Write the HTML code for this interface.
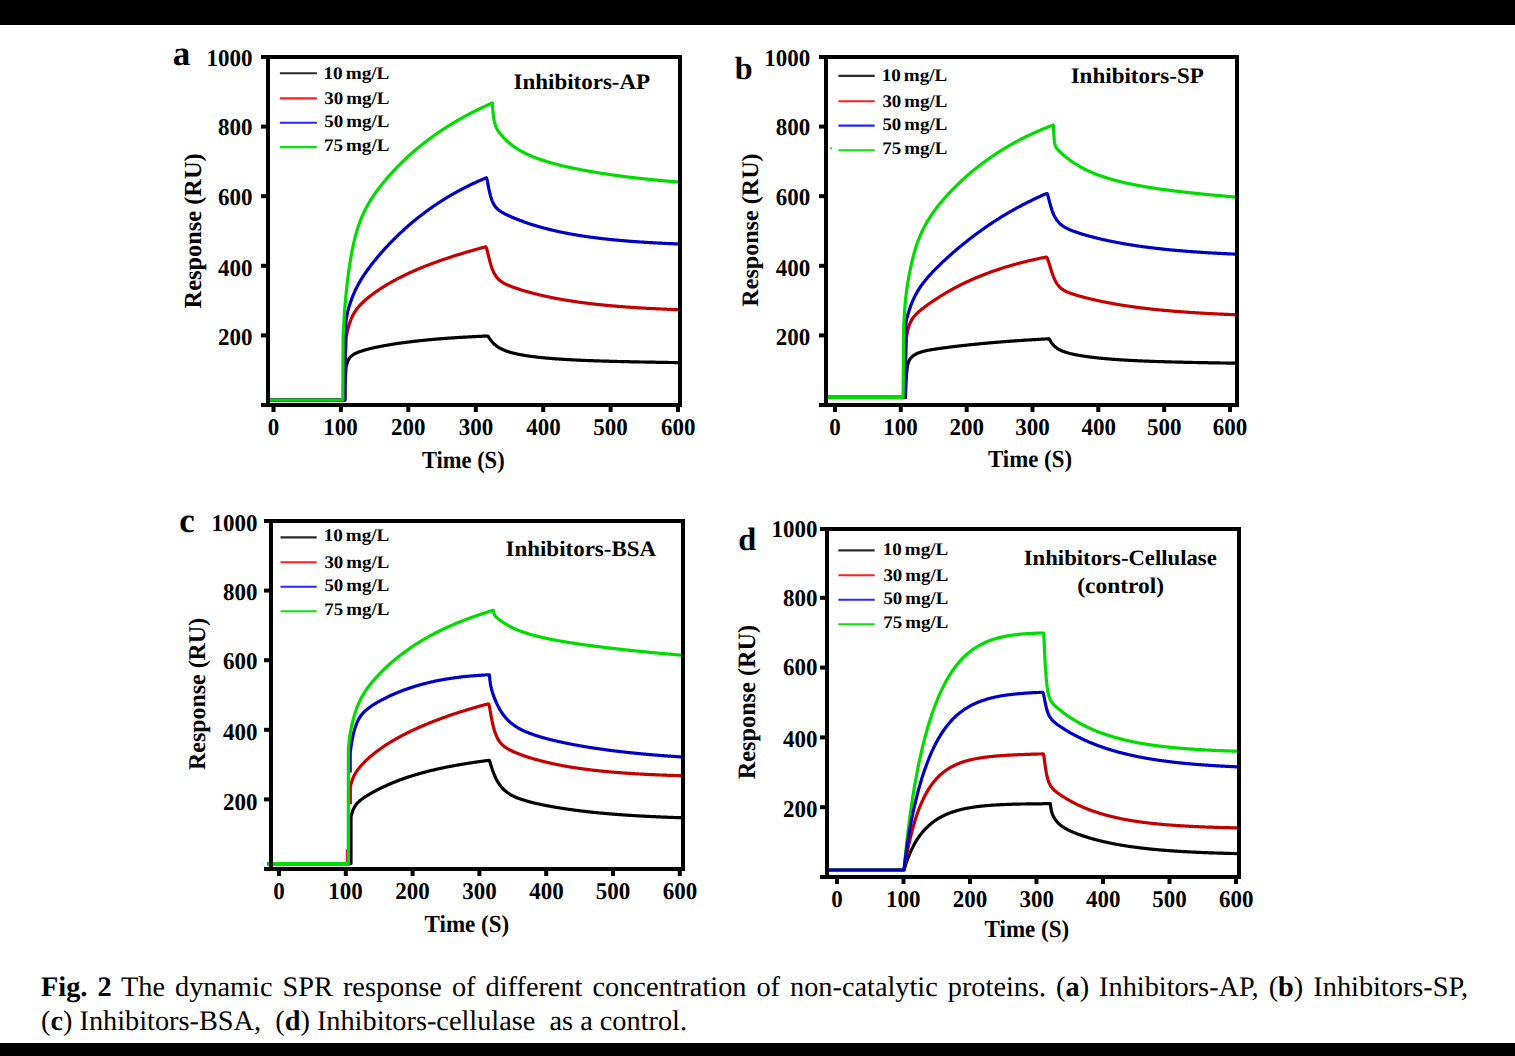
<!DOCTYPE html>
<html><head><meta charset="utf-8"><style>
html,body{margin:0;padding:0;background:#fff;width:1515px;height:1056px;overflow:hidden}
svg{position:absolute;left:0;top:0}
text{font-family:"Liberation Serif",serif;font-weight:bold;fill:#000;text-rendering:geometricPrecision}
.cap{position:absolute;left:41px;text-rendering:geometricPrecision;font-family:"Liberation Serif",serif;font-size:28.3px;white-space:pre;line-height:1;color:#000}
</style></head><body>
<svg width="1515" height="1056" viewBox="0 0 1515 1056">
<rect x="0" y="0" width="1515" height="25" fill="#000"/>
<rect x="0" y="1043" width="1515" height="13" fill="#000"/>
<path d="M269.0,400.0 L344.8,400.0 L345.0,385.0 L346.0,367.3 L346.5,365.2 L347.0,363.4 L347.5,361.9 L348.0,360.7 L348.5,359.7 L349.0,358.8 L349.5,358.1 L350.0,357.4 L350.5,356.8 L351.0,356.3 L351.5,355.9 L352.0,355.5 L352.5,355.1 L353.0,354.8 L353.5,354.5 L354.0,354.2 L354.5,353.9 L355.0,353.6 L355.5,353.4 L356.0,353.2 L356.5,352.9 L357.0,352.7 L357.5,352.5 L358.0,352.3 L358.5,352.1 L359.0,351.9 L359.5,351.7 L360.0,351.6 L360.5,351.4 L361.0,351.2 L361.5,351.1 L362.0,350.9 L362.5,350.7 L363.0,350.6 L363.5,350.4 L364.0,350.3 L364.5,350.1 L365.0,350.0 L365.5,349.8 L366.0,349.7 L366.5,349.6 L367.0,349.4 L367.5,349.3 L368.0,349.2 L368.5,349.0 L369.0,348.9 L369.5,348.8 L370.0,348.7 L370.5,348.5 L371.0,348.4 L371.5,348.3 L372.0,348.2 L372.5,348.1 L373.0,348.0 L373.5,347.8 L374.0,347.7 L374.5,347.6 L375.0,347.5 L375.5,347.4 L376.0,347.3 L376.5,347.2 L377.0,347.1 L377.5,347.0 L378.0,346.9 L378.5,346.8 L379.0,346.7 L379.5,346.6 L380.0,346.5 L380.5,346.4 L381.0,346.3 L381.5,346.2 L382.0,346.1 L382.5,346.0 L383.0,345.9 L383.5,345.8 L384.0,345.7 L384.5,345.6 L385.0,345.5 L385.5,345.5 L386.0,345.4 L386.5,345.3 L387.0,345.2 L387.5,345.1 L388.0,345.0 L388.5,344.9 L389.0,344.8 L389.5,344.8 L390.0,344.7 L390.5,344.6 L391.0,344.5 L391.5,344.4 L392.0,344.4 L392.5,344.3 L393.0,344.2 L393.5,344.1 L394.0,344.0 L394.5,344.0 L395.0,343.9 L395.5,343.8 L396.0,343.7 L396.5,343.7 L397.0,343.6 L397.5,343.5 L398.0,343.4 L398.5,343.4 L399.0,343.3 L399.5,343.2 L400.0,343.2 L400.5,343.1 L401.0,343.0 L401.5,342.9 L402.0,342.9 L402.5,342.8 L403.0,342.7 L403.5,342.7 L404.0,342.6 L404.5,342.5 L405.0,342.5 L405.5,342.4 L406.0,342.3 L406.5,342.3 L407.0,342.2 L407.5,342.1 L408.0,342.1 L408.5,342.0 L409.0,342.0 L409.5,341.9 L410.0,341.8 L410.5,341.8 L411.0,341.7 L411.5,341.6 L412.0,341.6 L412.5,341.5 L413.0,341.5 L413.5,341.4 L414.0,341.4 L414.5,341.3 L415.0,341.2 L415.5,341.2 L416.0,341.1 L416.5,341.1 L417.0,341.0 L417.5,341.0 L418.0,340.9 L418.5,340.8 L419.0,340.8 L419.5,340.7 L420.0,340.7 L420.5,340.6 L421.0,340.6 L421.5,340.5 L422.0,340.5 L422.5,340.4 L423.0,340.4 L423.5,340.3 L424.0,340.3 L424.5,340.2 L425.0,340.2 L425.5,340.1 L426.0,340.1 L426.5,340.0 L427.0,340.0 L427.5,339.9 L428.0,339.9 L428.5,339.8 L429.0,339.8 L429.5,339.7 L430.0,339.7 L430.5,339.6 L431.0,339.6 L431.5,339.6 L432.0,339.5 L432.5,339.5 L433.0,339.4 L433.5,339.4 L434.0,339.3 L434.5,339.3 L435.0,339.2 L435.5,339.2 L436.0,339.2 L436.5,339.1 L437.0,339.1 L437.5,339.0 L438.0,339.0 L438.5,338.9 L439.0,338.9 L439.5,338.9 L440.0,338.8 L440.5,338.8 L441.0,338.7 L441.5,338.7 L442.0,338.7 L442.5,338.6 L443.0,338.6 L443.5,338.5 L444.0,338.5 L444.5,338.5 L445.0,338.4 L445.5,338.4 L446.0,338.4 L446.5,338.3 L447.0,338.3 L447.5,338.2 L448.0,338.2 L448.5,338.2 L449.0,338.1 L449.5,338.1 L450.0,338.1 L450.5,338.0 L451.0,338.0 L451.5,338.0 L452.0,337.9 L452.5,337.9 L453.0,337.9 L453.5,337.8 L454.0,337.8 L454.5,337.8 L455.0,337.7 L455.5,337.7 L456.0,337.7 L456.5,337.6 L457.0,337.6 L457.5,337.6 L458.0,337.5 L458.5,337.5 L459.0,337.5 L459.5,337.4 L460.0,337.4 L460.5,337.4 L461.0,337.4 L461.5,337.3 L462.0,337.3 L462.5,337.3 L463.0,337.2 L463.5,337.2 L464.0,337.2 L464.5,337.1 L465.0,337.1 L465.5,337.1 L466.0,337.1 L466.5,337.0 L467.0,337.0 L467.5,337.0 L468.0,337.0 L468.5,336.9 L469.0,336.9 L469.5,336.9 L470.0,336.8 L470.5,336.8 L471.0,336.8 L471.5,336.8 L472.0,336.7 L472.5,336.7 L473.0,336.7 L473.5,336.7 L474.0,336.6 L474.5,336.6 L475.0,336.6 L475.5,336.6 L476.0,336.5 L476.5,336.5 L477.0,336.5 L477.5,336.5 L478.0,336.4 L478.5,336.4 L479.0,336.4 L479.5,336.4 L480.0,336.3 L480.5,336.3 L481.0,336.3 L481.5,336.3 L482.0,336.3 L482.5,336.2 L483.0,336.2 L483.5,336.2 L484.0,336.2 L484.5,336.1 L485.0,336.1 L485.5,336.1 L486.0,336.1 L486.5,336.1 L487.0,336.0 L487.5,336.0 L488.0,336.0 L488.5,336.9 L489.0,337.7 L489.5,338.4 L490.0,339.2 L490.5,339.8 L491.0,340.5 L491.5,341.1 L492.0,341.7 L492.5,342.3 L493.0,342.8 L493.5,343.3 L494.0,343.8 L494.5,344.3 L495.0,344.7 L495.5,345.1 L496.0,345.5 L496.5,345.9 L497.0,346.3 L497.5,346.6 L498.0,347.0 L498.5,347.3 L499.0,347.6 L499.5,347.9 L500.0,348.2 L500.5,348.5 L501.0,348.7 L501.5,349.0 L502.0,349.2 L502.5,349.5 L503.0,349.7 L503.5,349.9 L504.0,350.1 L504.5,350.3 L505.0,350.5 L505.5,350.7 L506.0,350.9 L506.5,351.1 L507.0,351.3 L507.5,351.4 L508.0,351.6 L508.5,351.8 L509.0,351.9 L509.5,352.1 L510.0,352.2 L510.5,352.4 L511.0,352.5 L511.5,352.7 L512.0,352.8 L512.5,352.9 L513.0,353.0 L513.5,353.2 L514.0,353.3 L514.5,353.4 L515.0,353.5 L515.5,353.6 L516.0,353.8 L516.5,353.9 L517.0,354.0 L517.5,354.1 L518.0,354.2 L518.5,354.3 L519.0,354.4 L519.5,354.5 L520.0,354.6 L520.5,354.7 L521.0,354.8 L521.5,354.9 L522.0,354.9 L522.5,355.0 L523.0,355.1 L523.5,355.2 L524.0,355.3 L524.5,355.4 L525.0,355.5 L525.5,355.5 L526.0,355.6 L526.5,355.7 L527.0,355.8 L527.5,355.8 L528.0,355.9 L528.5,356.0 L529.0,356.1 L529.5,356.1 L530.0,356.2 L530.5,356.3 L531.0,356.3 L531.5,356.4 L532.0,356.5 L532.5,356.5 L533.0,356.6 L533.5,356.7 L534.0,356.7 L534.5,356.8 L535.0,356.8 L535.5,356.9 L536.0,357.0 L536.5,357.0 L537.0,357.1 L537.5,357.1 L538.0,357.2 L538.5,357.3 L539.0,357.3 L539.5,357.4 L540.0,357.4 L540.5,357.5 L541.0,357.5 L541.5,357.6 L542.0,357.6 L542.5,357.7 L543.0,357.7 L543.5,357.8 L544.0,357.8 L544.5,357.9 L545.0,357.9 L545.5,358.0 L546.0,358.0 L546.5,358.1 L547.0,358.1 L547.5,358.1 L548.0,358.2 L548.5,358.2 L549.0,358.3 L549.5,358.3 L550.0,358.4 L550.5,358.4 L551.0,358.4 L551.5,358.5 L552.0,358.5 L552.5,358.6 L553.0,358.6 L553.5,358.6 L554.0,358.7 L554.5,358.7 L555.0,358.8 L555.5,358.8 L556.0,358.8 L556.5,358.9 L557.0,358.9 L557.5,358.9 L558.0,359.0 L558.5,359.0 L559.0,359.0 L559.5,359.1 L560.0,359.1 L560.5,359.1 L561.0,359.2 L561.5,359.2 L562.0,359.2 L562.5,359.3 L563.0,359.3 L563.5,359.3 L564.0,359.4 L564.5,359.4 L565.0,359.4 L565.5,359.5 L566.0,359.5 L566.5,359.5 L567.0,359.6 L567.5,359.6 L568.0,359.6 L568.5,359.6 L569.0,359.7 L569.5,359.7 L570.0,359.7 L570.5,359.7 L571.0,359.8 L571.5,359.8 L572.0,359.8 L572.5,359.9 L573.0,359.9 L573.5,359.9 L574.0,359.9 L574.5,360.0 L575.0,360.0 L575.5,360.0 L576.0,360.0 L576.5,360.1 L577.0,360.1 L577.5,360.1 L578.0,360.1 L578.5,360.1 L579.0,360.2 L579.5,360.2 L580.0,360.2 L580.5,360.2 L581.0,360.3 L581.5,360.3 L582.0,360.3 L582.5,360.3 L583.0,360.3 L583.5,360.4 L584.0,360.4 L584.5,360.4 L585.0,360.4 L585.5,360.5 L586.0,360.5 L586.5,360.5 L587.0,360.5 L587.5,360.5 L588.0,360.6 L588.5,360.6 L589.0,360.6 L589.5,360.6 L590.0,360.6 L590.5,360.6 L591.0,360.7 L591.5,360.7 L592.0,360.7 L592.5,360.7 L593.0,360.7 L593.5,360.8 L594.0,360.8 L594.5,360.8 L595.0,360.8 L595.5,360.8 L596.0,360.8 L596.5,360.9 L597.0,360.9 L597.5,360.9 L598.0,360.9 L598.5,360.9 L599.0,360.9 L599.5,361.0 L600.0,361.0 L600.5,361.0 L601.0,361.0 L601.5,361.0 L602.0,361.0 L602.5,361.1 L603.0,361.1 L603.5,361.1 L604.0,361.1 L604.5,361.1 L605.0,361.1 L605.5,361.1 L606.0,361.2 L606.5,361.2 L607.0,361.2 L607.5,361.2 L608.0,361.2 L608.5,361.2 L609.0,361.2 L609.5,361.3 L610.0,361.3 L610.5,361.3 L611.0,361.3 L611.5,361.3 L612.0,361.3 L612.5,361.3 L613.0,361.4 L613.5,361.4 L614.0,361.4 L614.5,361.4 L615.0,361.4 L615.5,361.4 L616.0,361.4 L616.5,361.4 L617.0,361.5 L617.5,361.5 L618.0,361.5 L618.5,361.5 L619.0,361.5 L619.5,361.5 L620.0,361.5 L620.5,361.5 L621.0,361.6 L621.5,361.6 L622.0,361.6 L622.5,361.6 L623.0,361.6 L623.5,361.6 L624.0,361.6 L624.5,361.6 L625.0,361.6 L625.5,361.7 L626.0,361.7 L626.5,361.7 L627.0,361.7 L627.5,361.7 L628.0,361.7 L628.5,361.7 L629.0,361.7 L629.5,361.7 L630.0,361.8 L630.5,361.8 L631.0,361.8 L631.5,361.8 L632.0,361.8 L632.5,361.8 L633.0,361.8 L633.5,361.8 L634.0,361.8 L634.5,361.9 L635.0,361.9 L635.5,361.9 L636.0,361.9 L636.5,361.9 L637.0,361.9 L637.5,361.9 L638.0,361.9 L638.5,361.9 L639.0,361.9 L639.5,362.0 L640.0,362.0 L640.5,362.0 L641.0,362.0 L641.5,362.0 L642.0,362.0 L642.5,362.0 L643.0,362.0 L643.5,362.0 L644.0,362.0 L644.5,362.0 L645.0,362.1 L645.5,362.1 L646.0,362.1 L646.5,362.1 L647.0,362.1 L647.5,362.1 L648.0,362.1 L648.5,362.1 L649.0,362.1 L649.5,362.1 L650.0,362.1 L650.5,362.2 L651.0,362.2 L651.5,362.2 L652.0,362.2 L652.5,362.2 L653.0,362.2 L653.5,362.2 L654.0,362.2 L654.5,362.2 L655.0,362.2 L655.5,362.2 L656.0,362.3 L656.5,362.3 L657.0,362.3 L657.5,362.3 L658.0,362.3 L658.5,362.3 L659.0,362.3 L659.5,362.3 L660.0,362.3 L660.5,362.3 L661.0,362.3 L661.5,362.3 L662.0,362.4 L662.5,362.4 L663.0,362.4 L663.5,362.4 L664.0,362.4 L664.5,362.4 L665.0,362.4 L665.5,362.4 L666.0,362.4 L666.5,362.4 L667.0,362.4 L667.5,362.4 L668.0,362.4 L668.5,362.5 L669.0,362.5 L669.5,362.5 L670.0,362.5 L670.5,362.5 L671.0,362.5 L671.5,362.5 L672.0,362.5 L672.5,362.5 L673.0,362.5 L673.5,362.5 L674.0,362.5 L674.5,362.5 L675.0,362.6 L675.5,362.6 L676.0,362.6 L676.5,362.6 L677.0,362.6 L677.5,362.6 L678.0,362.6 L678.5,362.6 L679.0,362.6" fill="none" stroke="#000000" stroke-width="3.2" stroke-linejoin="round"/>
<path d="M269.0,400.0 L344.8,400.0 L345.3,360.0 L346.2,337.0 L346.7,334.5 L347.2,332.1 L347.7,330.0 L348.2,328.0 L348.7,326.2 L349.2,324.5 L349.7,323.0 L350.2,321.6 L350.7,320.2 L351.2,319.0 L351.7,317.8 L352.2,316.7 L352.7,315.7 L353.2,314.7 L353.7,313.8 L354.2,312.9 L354.7,312.1 L355.2,311.3 L355.7,310.6 L356.2,309.9 L356.7,309.2 L357.2,308.5 L357.7,307.9 L358.2,307.3 L358.7,306.7 L359.2,306.1 L359.7,305.5 L360.2,305.0 L360.7,304.5 L361.2,303.9 L361.7,303.4 L362.2,302.9 L362.7,302.5 L363.2,302.0 L363.7,301.5 L364.2,301.1 L364.7,300.6 L365.2,300.2 L365.7,299.7 L366.2,299.3 L366.7,298.9 L367.2,298.5 L367.7,298.0 L368.2,297.6 L368.7,297.2 L369.2,296.8 L369.7,296.4 L370.2,296.0 L370.7,295.7 L371.2,295.3 L371.7,294.9 L372.2,294.5 L372.7,294.1 L373.2,293.8 L373.7,293.4 L374.2,293.0 L374.7,292.7 L375.2,292.3 L375.7,292.0 L376.2,291.6 L376.7,291.3 L377.2,290.9 L377.7,290.6 L378.2,290.3 L378.7,289.9 L379.2,289.6 L379.7,289.2 L380.2,288.9 L380.7,288.6 L381.2,288.3 L381.7,287.9 L382.2,287.6 L382.7,287.3 L383.2,287.0 L383.7,286.7 L384.2,286.4 L384.7,286.1 L385.2,285.8 L385.7,285.4 L386.2,285.1 L386.7,284.8 L387.2,284.5 L387.7,284.3 L388.2,284.0 L388.7,283.7 L389.2,283.4 L389.7,283.1 L390.2,282.8 L390.7,282.5 L391.2,282.2 L391.7,281.9 L392.2,281.7 L392.7,281.4 L393.2,281.1 L393.7,280.8 L394.2,280.6 L394.7,280.3 L395.2,280.0 L395.7,279.8 L396.2,279.5 L396.7,279.2 L397.2,279.0 L397.7,278.7 L398.2,278.4 L398.7,278.2 L399.2,277.9 L399.7,277.7 L400.2,277.4 L400.7,277.2 L401.2,276.9 L401.7,276.7 L402.2,276.4 L402.7,276.2 L403.2,275.9 L403.7,275.7 L404.2,275.4 L404.7,275.2 L405.2,274.9 L405.7,274.7 L406.2,274.5 L406.7,274.2 L407.2,274.0 L407.7,273.8 L408.2,273.5 L408.7,273.3 L409.2,273.1 L409.7,272.8 L410.2,272.6 L410.7,272.4 L411.2,272.1 L411.7,271.9 L412.2,271.7 L412.7,271.5 L413.2,271.2 L413.7,271.0 L414.2,270.8 L414.7,270.6 L415.2,270.4 L415.7,270.2 L416.2,269.9 L416.7,269.7 L417.2,269.5 L417.7,269.3 L418.2,269.1 L418.7,268.9 L419.2,268.7 L419.7,268.5 L420.2,268.3 L420.7,268.0 L421.2,267.8 L421.7,267.6 L422.2,267.4 L422.7,267.2 L423.2,267.0 L423.7,266.8 L424.2,266.6 L424.7,266.4 L425.2,266.2 L425.7,266.0 L426.2,265.8 L426.7,265.6 L427.2,265.4 L427.7,265.2 L428.2,265.0 L428.7,264.9 L429.2,264.7 L429.7,264.5 L430.2,264.3 L430.7,264.1 L431.2,263.9 L431.7,263.7 L432.2,263.5 L432.7,263.3 L433.2,263.2 L433.7,263.0 L434.2,262.8 L434.7,262.6 L435.2,262.4 L435.7,262.2 L436.2,262.1 L436.7,261.9 L437.2,261.7 L437.7,261.5 L438.2,261.3 L438.7,261.2 L439.2,261.0 L439.7,260.8 L440.2,260.6 L440.7,260.5 L441.2,260.3 L441.7,260.1 L442.2,259.9 L442.7,259.8 L443.2,259.6 L443.7,259.4 L444.2,259.2 L444.7,259.1 L445.2,258.9 L445.7,258.7 L446.2,258.6 L446.7,258.4 L447.2,258.2 L447.7,258.1 L448.2,257.9 L448.7,257.7 L449.2,257.6 L449.7,257.4 L450.2,257.2 L450.7,257.1 L451.2,256.9 L451.7,256.7 L452.2,256.6 L452.7,256.4 L453.2,256.3 L453.7,256.1 L454.2,255.9 L454.7,255.8 L455.2,255.6 L455.7,255.5 L456.2,255.3 L456.7,255.1 L457.2,255.0 L457.7,254.8 L458.2,254.7 L458.7,254.5 L459.2,254.4 L459.7,254.2 L460.2,254.1 L460.7,253.9 L461.2,253.8 L461.7,253.6 L462.2,253.5 L462.7,253.3 L463.2,253.1 L463.7,253.0 L464.2,252.8 L464.7,252.7 L465.2,252.6 L465.7,252.4 L466.2,252.3 L466.7,252.1 L467.2,252.0 L467.7,251.8 L468.2,251.7 L468.7,251.5 L469.2,251.4 L469.7,251.2 L470.2,251.1 L470.7,250.9 L471.2,250.8 L471.7,250.7 L472.2,250.5 L472.7,250.4 L473.2,250.2 L473.7,250.1 L474.2,249.9 L474.7,249.8 L475.2,249.7 L475.7,249.5 L476.2,249.4 L476.7,249.2 L477.2,249.1 L477.7,249.0 L478.2,248.8 L478.7,248.7 L479.2,248.5 L479.7,248.4 L480.2,248.3 L480.7,248.1 L481.2,248.0 L481.7,247.9 L482.2,247.7 L482.7,247.6 L483.2,247.5 L483.7,247.3 L484.2,247.2 L484.7,247.1 L485.2,246.9 L485.3,246.9 L485.8,246.9 L486.3,247.8 L486.8,249.3 L487.3,251.1 L487.8,253.1 L488.3,255.1 L488.8,257.2 L489.3,259.2 L489.8,261.1 L490.3,262.9 L490.8,264.6 L491.3,266.2 L491.8,267.7 L492.3,269.1 L492.8,270.3 L493.3,271.5 L493.8,272.5 L494.3,273.5 L494.8,274.4 L495.3,275.2 L495.8,276.0 L496.3,276.7 L496.8,277.4 L497.3,278.0 L497.8,278.5 L498.3,279.1 L498.8,279.5 L499.3,280.0 L499.8,280.4 L500.3,280.8 L500.8,281.2 L501.3,281.6 L501.8,281.9 L502.3,282.2 L502.8,282.5 L503.3,282.8 L503.8,283.1 L504.3,283.4 L504.8,283.7 L505.3,283.9 L505.8,284.2 L506.3,284.4 L506.8,284.6 L507.3,284.9 L507.8,285.1 L508.3,285.3 L508.8,285.5 L509.3,285.7 L509.8,285.9 L510.3,286.1 L510.8,286.3 L511.3,286.5 L511.8,286.7 L512.3,286.9 L512.8,287.1 L513.3,287.2 L513.8,287.4 L514.3,287.6 L514.8,287.8 L515.3,287.9 L515.8,288.1 L516.3,288.3 L516.8,288.5 L517.3,288.6 L517.8,288.8 L518.3,289.0 L518.8,289.1 L519.3,289.3 L519.8,289.4 L520.3,289.6 L520.8,289.7 L521.3,289.9 L521.8,290.1 L522.3,290.2 L522.8,290.4 L523.3,290.5 L523.8,290.7 L524.3,290.8 L524.8,291.0 L525.3,291.1 L525.8,291.3 L526.3,291.4 L526.8,291.5 L527.3,291.7 L527.8,291.8 L528.3,292.0 L528.8,292.1 L529.3,292.2 L529.8,292.4 L530.3,292.5 L530.8,292.6 L531.3,292.8 L531.8,292.9 L532.3,293.1 L532.8,293.2 L533.3,293.3 L533.8,293.4 L534.3,293.6 L534.8,293.7 L535.3,293.8 L535.8,294.0 L536.3,294.1 L536.8,294.2 L537.3,294.3 L537.8,294.4 L538.3,294.6 L538.8,294.7 L539.3,294.8 L539.8,294.9 L540.3,295.1 L540.8,295.2 L541.3,295.3 L541.8,295.4 L542.3,295.5 L542.8,295.6 L543.3,295.7 L543.8,295.9 L544.3,296.0 L544.8,296.1 L545.3,296.2 L545.8,296.3 L546.3,296.4 L546.8,296.5 L547.3,296.6 L547.8,296.7 L548.3,296.8 L548.8,296.9 L549.3,297.1 L549.8,297.2 L550.3,297.3 L550.8,297.4 L551.3,297.5 L551.8,297.6 L552.3,297.7 L552.8,297.8 L553.3,297.9 L553.8,298.0 L554.3,298.1 L554.8,298.2 L555.3,298.3 L555.8,298.4 L556.3,298.4 L556.8,298.5 L557.3,298.6 L557.8,298.7 L558.3,298.8 L558.8,298.9 L559.3,299.0 L559.8,299.1 L560.3,299.2 L560.8,299.3 L561.3,299.4 L561.8,299.5 L562.3,299.5 L562.8,299.6 L563.3,299.7 L563.8,299.8 L564.3,299.9 L564.8,300.0 L565.3,300.1 L565.8,300.1 L566.3,300.2 L566.8,300.3 L567.3,300.4 L567.8,300.5 L568.3,300.5 L568.8,300.6 L569.3,300.7 L569.8,300.8 L570.3,300.9 L570.8,300.9 L571.3,301.0 L571.8,301.1 L572.3,301.2 L572.8,301.2 L573.3,301.3 L573.8,301.4 L574.3,301.5 L574.8,301.5 L575.3,301.6 L575.8,301.7 L576.3,301.8 L576.8,301.8 L577.3,301.9 L577.8,302.0 L578.3,302.1 L578.8,302.1 L579.3,302.2 L579.8,302.3 L580.3,302.3 L580.8,302.4 L581.3,302.5 L581.8,302.5 L582.3,302.6 L582.8,302.7 L583.3,302.7 L583.8,302.8 L584.3,302.9 L584.8,302.9 L585.3,303.0 L585.8,303.1 L586.3,303.1 L586.8,303.2 L587.3,303.2 L587.8,303.3 L588.3,303.4 L588.8,303.4 L589.3,303.5 L589.8,303.5 L590.3,303.6 L590.8,303.7 L591.3,303.7 L591.8,303.8 L592.3,303.8 L592.8,303.9 L593.3,304.0 L593.8,304.0 L594.3,304.1 L594.8,304.1 L595.3,304.2 L595.8,304.2 L596.3,304.3 L596.8,304.3 L597.3,304.4 L597.8,304.5 L598.3,304.5 L598.8,304.6 L599.3,304.6 L599.8,304.7 L600.3,304.7 L600.8,304.8 L601.3,304.8 L601.8,304.9 L602.3,304.9 L602.8,305.0 L603.3,305.0 L603.8,305.1 L604.3,305.1 L604.8,305.2 L605.3,305.2 L605.8,305.3 L606.3,305.3 L606.8,305.4 L607.3,305.4 L607.8,305.5 L608.3,305.5 L608.8,305.5 L609.3,305.6 L609.8,305.6 L610.3,305.7 L610.8,305.7 L611.3,305.8 L611.8,305.8 L612.3,305.9 L612.8,305.9 L613.3,306.0 L613.8,306.0 L614.3,306.0 L614.8,306.1 L615.3,306.1 L615.8,306.2 L616.3,306.2 L616.8,306.2 L617.3,306.3 L617.8,306.3 L618.3,306.4 L618.8,306.4 L619.3,306.5 L619.8,306.5 L620.3,306.5 L620.8,306.6 L621.3,306.6 L621.8,306.6 L622.3,306.7 L622.8,306.7 L623.3,306.8 L623.8,306.8 L624.3,306.8 L624.8,306.9 L625.3,306.9 L625.8,306.9 L626.3,307.0 L626.8,307.0 L627.3,307.1 L627.8,307.1 L628.3,307.1 L628.8,307.2 L629.3,307.2 L629.8,307.2 L630.3,307.3 L630.8,307.3 L631.3,307.3 L631.8,307.4 L632.3,307.4 L632.8,307.4 L633.3,307.5 L633.8,307.5 L634.3,307.5 L634.8,307.6 L635.3,307.6 L635.8,307.6 L636.3,307.7 L636.8,307.7 L637.3,307.7 L637.8,307.8 L638.3,307.8 L638.8,307.8 L639.3,307.8 L639.8,307.9 L640.3,307.9 L640.8,307.9 L641.3,308.0 L641.8,308.0 L642.3,308.0 L642.8,308.1 L643.3,308.1 L643.8,308.1 L644.3,308.1 L644.8,308.2 L645.3,308.2 L645.8,308.2 L646.3,308.3 L646.8,308.3 L647.3,308.3 L647.8,308.3 L648.3,308.4 L648.8,308.4 L649.3,308.4 L649.8,308.4 L650.3,308.5 L650.8,308.5 L651.3,308.5 L651.8,308.5 L652.3,308.6 L652.8,308.6 L653.3,308.6 L653.8,308.6 L654.3,308.7 L654.8,308.7 L655.3,308.7 L655.8,308.7 L656.3,308.8 L656.8,308.8 L657.3,308.8 L657.8,308.8 L658.3,308.9 L658.8,308.9 L659.3,308.9 L659.8,308.9 L660.3,309.0 L660.8,309.0 L661.3,309.0 L661.8,309.0 L662.3,309.0 L662.8,309.1 L663.3,309.1 L663.8,309.1 L664.3,309.1 L664.8,309.2 L665.3,309.2 L665.8,309.2 L666.3,309.2 L666.8,309.2 L667.3,309.3 L667.8,309.3 L668.3,309.3 L668.8,309.3 L669.3,309.3 L669.8,309.4 L670.3,309.4 L670.8,309.4 L671.3,309.4 L671.8,309.4 L672.3,309.5 L672.8,309.5 L673.3,309.5 L673.8,309.5 L674.3,309.5 L674.8,309.6 L675.3,309.6 L675.8,309.6 L676.3,309.6 L676.8,309.6 L677.3,309.6 L677.8,309.7 L678.3,309.7 L678.8,309.7 L679.0,309.7" fill="none" stroke="#c40000" stroke-width="3.2" stroke-linejoin="round"/>
<path d="M269.0,400.0 L344.8,400.0 L345.2,340.0 L345.6,328.0 L346.1,321.1 L346.6,317.1 L347.1,314.3 L347.6,312.1 L348.1,310.1 L348.6,308.3 L349.1,306.6 L349.6,305.0 L350.1,303.5 L350.6,302.0 L351.1,300.6 L351.6,299.2 L352.1,297.9 L352.6,296.6 L353.1,295.4 L353.6,294.2 L354.1,293.0 L354.6,291.9 L355.1,290.8 L355.6,289.7 L356.1,288.7 L356.6,287.7 L357.1,286.7 L357.6,285.8 L358.1,284.8 L358.6,283.9 L359.1,283.0 L359.6,282.1 L360.1,281.3 L360.6,280.4 L361.1,279.6 L361.6,278.8 L362.1,278.0 L362.6,277.2 L363.1,276.4 L363.6,275.7 L364.1,274.9 L364.6,274.1 L365.1,273.4 L365.6,272.7 L366.1,272.0 L366.6,271.2 L367.1,270.5 L367.6,269.8 L368.1,269.2 L368.6,268.5 L369.1,267.8 L369.6,267.1 L370.1,266.5 L370.6,265.8 L371.1,265.1 L371.6,264.5 L372.1,263.8 L372.6,263.2 L373.1,262.6 L373.6,261.9 L374.1,261.3 L374.6,260.7 L375.1,260.1 L375.6,259.5 L376.1,258.9 L376.6,258.3 L377.1,257.7 L377.6,257.1 L378.1,256.5 L378.6,255.9 L379.1,255.3 L379.6,254.7 L380.1,254.1 L380.6,253.5 L381.1,253.0 L381.6,252.4 L382.1,251.8 L382.6,251.3 L383.1,250.7 L383.6,250.2 L384.1,249.6 L384.6,249.0 L385.1,248.5 L385.6,247.9 L386.1,247.4 L386.6,246.9 L387.1,246.3 L387.6,245.8 L388.1,245.3 L388.6,244.7 L389.1,244.2 L389.6,243.7 L390.1,243.2 L390.6,242.6 L391.1,242.1 L391.6,241.6 L392.1,241.1 L392.6,240.6 L393.1,240.1 L393.6,239.6 L394.1,239.1 L394.6,238.6 L395.1,238.1 L395.6,237.6 L396.1,237.1 L396.6,236.6 L397.1,236.1 L397.6,235.6 L398.1,235.2 L398.6,234.7 L399.1,234.2 L399.6,233.7 L400.1,233.2 L400.6,232.8 L401.1,232.3 L401.6,231.8 L402.1,231.4 L402.6,230.9 L403.1,230.5 L403.6,230.0 L404.1,229.5 L404.6,229.1 L405.1,228.6 L405.6,228.2 L406.1,227.7 L406.6,227.3 L407.1,226.9 L407.6,226.4 L408.1,226.0 L408.6,225.5 L409.1,225.1 L409.6,224.7 L410.1,224.2 L410.6,223.8 L411.1,223.4 L411.6,223.0 L412.1,222.5 L412.6,222.1 L413.1,221.7 L413.6,221.3 L414.1,220.9 L414.6,220.5 L415.1,220.1 L415.6,219.7 L416.1,219.2 L416.6,218.8 L417.1,218.4 L417.6,218.0 L418.1,217.6 L418.6,217.2 L419.1,216.8 L419.6,216.5 L420.1,216.1 L420.6,215.7 L421.1,215.3 L421.6,214.9 L422.1,214.5 L422.6,214.1 L423.1,213.8 L423.6,213.4 L424.1,213.0 L424.6,212.6 L425.1,212.3 L425.6,211.9 L426.1,211.5 L426.6,211.2 L427.1,210.8 L427.6,210.4 L428.1,210.1 L428.6,209.7 L429.1,209.3 L429.6,209.0 L430.1,208.6 L430.6,208.3 L431.1,207.9 L431.6,207.6 L432.1,207.2 L432.6,206.9 L433.1,206.5 L433.6,206.2 L434.1,205.8 L434.6,205.5 L435.1,205.2 L435.6,204.8 L436.1,204.5 L436.6,204.2 L437.1,203.8 L437.6,203.5 L438.1,203.2 L438.6,202.8 L439.1,202.5 L439.6,202.2 L440.1,201.9 L440.6,201.5 L441.1,201.2 L441.6,200.9 L442.1,200.6 L442.6,200.3 L443.1,200.0 L443.6,199.6 L444.1,199.3 L444.6,199.0 L445.1,198.7 L445.6,198.4 L446.1,198.1 L446.6,197.8 L447.1,197.5 L447.6,197.2 L448.1,196.9 L448.6,196.6 L449.1,196.3 L449.6,196.0 L450.1,195.7 L450.6,195.4 L451.1,195.1 L451.6,194.8 L452.1,194.6 L452.6,194.3 L453.1,194.0 L453.6,193.7 L454.1,193.4 L454.6,193.1 L455.1,192.9 L455.6,192.6 L456.1,192.3 L456.6,192.0 L457.1,191.7 L457.6,191.5 L458.1,191.2 L458.6,190.9 L459.1,190.7 L459.6,190.4 L460.1,190.1 L460.6,189.9 L461.1,189.6 L461.6,189.3 L462.1,189.1 L462.6,188.8 L463.1,188.6 L463.6,188.3 L464.1,188.0 L464.6,187.8 L465.1,187.5 L465.6,187.3 L466.1,187.0 L466.6,186.8 L467.1,186.5 L467.6,186.3 L468.1,186.0 L468.6,185.8 L469.1,185.5 L469.6,185.3 L470.1,185.0 L470.6,184.8 L471.1,184.6 L471.6,184.3 L472.1,184.1 L472.6,183.8 L473.1,183.6 L473.6,183.4 L474.1,183.1 L474.6,182.9 L475.1,182.7 L475.6,182.5 L476.1,182.2 L476.6,182.0 L477.1,181.8 L477.6,181.5 L478.1,181.3 L478.6,181.1 L479.1,180.9 L479.6,180.6 L480.1,180.4 L480.6,180.2 L481.1,180.0 L481.6,179.8 L482.1,179.6 L482.6,179.3 L483.1,179.1 L483.6,178.9 L484.1,178.7 L484.6,178.5 L485.1,178.3 L485.6,178.1 L486.0,177.9 L486.5,177.9 L487.0,179.5 L487.5,181.8 L488.0,184.4 L488.5,187.0 L489.0,189.5 L489.5,191.8 L490.0,194.0 L490.5,195.9 L491.0,197.6 L491.5,199.1 L492.0,200.5 L492.5,201.7 L493.0,202.8 L493.5,203.8 L494.0,204.7 L494.5,205.5 L495.0,206.2 L495.5,206.9 L496.0,207.5 L496.5,208.0 L497.0,208.5 L497.5,209.0 L498.0,209.4 L498.5,209.9 L499.0,210.3 L499.5,210.6 L500.0,211.0 L500.5,211.3 L501.0,211.7 L501.5,212.0 L502.0,212.3 L502.5,212.6 L503.0,212.8 L503.5,213.1 L504.0,213.4 L504.5,213.7 L505.0,213.9 L505.5,214.2 L506.0,214.4 L506.5,214.7 L507.0,214.9 L507.5,215.1 L508.0,215.4 L508.5,215.6 L509.0,215.8 L509.5,216.1 L510.0,216.3 L510.5,216.5 L511.0,216.7 L511.5,216.9 L512.0,217.2 L512.5,217.4 L513.0,217.6 L513.5,217.8 L514.0,218.0 L514.5,218.2 L515.0,218.4 L515.5,218.6 L516.0,218.8 L516.5,219.0 L517.0,219.2 L517.5,219.4 L518.0,219.6 L518.5,219.8 L519.0,220.0 L519.5,220.2 L520.0,220.4 L520.5,220.6 L521.0,220.8 L521.5,220.9 L522.0,221.1 L522.5,221.3 L523.0,221.5 L523.5,221.7 L524.0,221.9 L524.5,222.0 L525.0,222.2 L525.5,222.4 L526.0,222.6 L526.5,222.7 L527.0,222.9 L527.5,223.1 L528.0,223.2 L528.5,223.4 L529.0,223.6 L529.5,223.7 L530.0,223.9 L530.5,224.1 L531.0,224.2 L531.5,224.4 L532.0,224.6 L532.5,224.7 L533.0,224.9 L533.5,225.0 L534.0,225.2 L534.5,225.3 L535.0,225.5 L535.5,225.6 L536.0,225.8 L536.5,225.9 L537.0,226.1 L537.5,226.2 L538.0,226.4 L538.5,226.5 L539.0,226.7 L539.5,226.8 L540.0,227.0 L540.5,227.1 L541.0,227.2 L541.5,227.4 L542.0,227.5 L542.5,227.7 L543.0,227.8 L543.5,227.9 L544.0,228.1 L544.5,228.2 L545.0,228.3 L545.5,228.5 L546.0,228.6 L546.5,228.7 L547.0,228.8 L547.5,229.0 L548.0,229.1 L548.5,229.2 L549.0,229.3 L549.5,229.5 L550.0,229.6 L550.5,229.7 L551.0,229.8 L551.5,230.0 L552.0,230.1 L552.5,230.2 L553.0,230.3 L553.5,230.4 L554.0,230.5 L554.5,230.7 L555.0,230.8 L555.5,230.9 L556.0,231.0 L556.5,231.1 L557.0,231.2 L557.5,231.3 L558.0,231.4 L558.5,231.6 L559.0,231.7 L559.5,231.8 L560.0,231.9 L560.5,232.0 L561.0,232.1 L561.5,232.2 L562.0,232.3 L562.5,232.4 L563.0,232.5 L563.5,232.6 L564.0,232.7 L564.5,232.8 L565.0,232.9 L565.5,233.0 L566.0,233.1 L566.5,233.2 L567.0,233.3 L567.5,233.4 L568.0,233.5 L568.5,233.6 L569.0,233.7 L569.5,233.8 L570.0,233.9 L570.5,234.0 L571.0,234.0 L571.5,234.1 L572.0,234.2 L572.5,234.3 L573.0,234.4 L573.5,234.5 L574.0,234.6 L574.5,234.7 L575.0,234.7 L575.5,234.8 L576.0,234.9 L576.5,235.0 L577.0,235.1 L577.5,235.2 L578.0,235.3 L578.5,235.3 L579.0,235.4 L579.5,235.5 L580.0,235.6 L580.5,235.7 L581.0,235.7 L581.5,235.8 L582.0,235.9 L582.5,236.0 L583.0,236.0 L583.5,236.1 L584.0,236.2 L584.5,236.3 L585.0,236.3 L585.5,236.4 L586.0,236.5 L586.5,236.6 L587.0,236.6 L587.5,236.7 L588.0,236.8 L588.5,236.8 L589.0,236.9 L589.5,237.0 L590.0,237.1 L590.5,237.1 L591.0,237.2 L591.5,237.3 L592.0,237.3 L592.5,237.4 L593.0,237.5 L593.5,237.5 L594.0,237.6 L594.5,237.7 L595.0,237.7 L595.5,237.8 L596.0,237.9 L596.5,237.9 L597.0,238.0 L597.5,238.0 L598.0,238.1 L598.5,238.2 L599.0,238.2 L599.5,238.3 L600.0,238.3 L600.5,238.4 L601.0,238.5 L601.5,238.5 L602.0,238.6 L602.5,238.6 L603.0,238.7 L603.5,238.8 L604.0,238.8 L604.5,238.9 L605.0,238.9 L605.5,239.0 L606.0,239.0 L606.5,239.1 L607.0,239.1 L607.5,239.2 L608.0,239.2 L608.5,239.3 L609.0,239.4 L609.5,239.4 L610.0,239.5 L610.5,239.5 L611.0,239.6 L611.5,239.6 L612.0,239.7 L612.5,239.7 L613.0,239.8 L613.5,239.8 L614.0,239.9 L614.5,239.9 L615.0,240.0 L615.5,240.0 L616.0,240.1 L616.5,240.1 L617.0,240.1 L617.5,240.2 L618.0,240.2 L618.5,240.3 L619.0,240.3 L619.5,240.4 L620.0,240.4 L620.5,240.5 L621.0,240.5 L621.5,240.6 L622.0,240.6 L622.5,240.6 L623.0,240.7 L623.5,240.7 L624.0,240.8 L624.5,240.8 L625.0,240.9 L625.5,240.9 L626.0,240.9 L626.5,241.0 L627.0,241.0 L627.5,241.1 L628.0,241.1 L628.5,241.1 L629.0,241.2 L629.5,241.2 L630.0,241.3 L630.5,241.3 L631.0,241.3 L631.5,241.4 L632.0,241.4 L632.5,241.4 L633.0,241.5 L633.5,241.5 L634.0,241.6 L634.5,241.6 L635.0,241.6 L635.5,241.7 L636.0,241.7 L636.5,241.7 L637.0,241.8 L637.5,241.8 L638.0,241.8 L638.5,241.9 L639.0,241.9 L639.5,241.9 L640.0,242.0 L640.5,242.0 L641.0,242.0 L641.5,242.1 L642.0,242.1 L642.5,242.1 L643.0,242.2 L643.5,242.2 L644.0,242.2 L644.5,242.3 L645.0,242.3 L645.5,242.3 L646.0,242.4 L646.5,242.4 L647.0,242.4 L647.5,242.5 L648.0,242.5 L648.5,242.5 L649.0,242.5 L649.5,242.6 L650.0,242.6 L650.5,242.6 L651.0,242.7 L651.5,242.7 L652.0,242.7 L652.5,242.7 L653.0,242.8 L653.5,242.8 L654.0,242.8 L654.5,242.9 L655.0,242.9 L655.5,242.9 L656.0,242.9 L656.5,243.0 L657.0,243.0 L657.5,243.0 L658.0,243.0 L658.5,243.1 L659.0,243.1 L659.5,243.1 L660.0,243.1 L660.5,243.2 L661.0,243.2 L661.5,243.2 L662.0,243.2 L662.5,243.3 L663.0,243.3 L663.5,243.3 L664.0,243.3 L664.5,243.4 L665.0,243.4 L665.5,243.4 L666.0,243.4 L666.5,243.5 L667.0,243.5 L667.5,243.5 L668.0,243.5 L668.5,243.5 L669.0,243.6 L669.5,243.6 L670.0,243.6 L670.5,243.6 L671.0,243.7 L671.5,243.7 L672.0,243.7 L672.5,243.7 L673.0,243.7 L673.5,243.8 L674.0,243.8 L674.5,243.8 L675.0,243.8 L675.5,243.8 L676.0,243.9 L676.5,243.9 L677.0,243.9 L677.5,243.9 L678.0,243.9 L678.5,244.0 L679.0,244.0" fill="none" stroke="#0000c4" stroke-width="3.2" stroke-linejoin="round"/>
<path d="M269.0,400.0 L342.8,400.0 L343.1,336.0 L344.6,310.0 L345.1,304.3 L345.6,298.9 L346.1,293.8 L346.6,289.0 L347.1,284.4 L347.6,280.2 L348.1,276.1 L348.6,272.3 L349.1,268.7 L349.6,265.3 L350.1,262.0 L350.6,259.0 L351.1,256.1 L351.6,253.3 L352.1,250.7 L352.6,248.2 L353.1,245.8 L353.6,243.5 L354.1,241.3 L354.6,239.3 L355.1,237.3 L355.6,235.4 L356.1,233.6 L356.6,231.8 L357.1,230.1 L357.6,228.5 L358.1,227.0 L358.6,225.5 L359.1,224.1 L359.6,222.7 L360.1,221.3 L360.6,220.0 L361.1,218.8 L361.6,217.6 L362.1,216.4 L362.6,215.2 L363.1,214.1 L363.6,213.0 L364.1,212.0 L364.6,211.0 L365.1,210.0 L365.6,209.0 L366.1,208.0 L366.6,207.1 L367.1,206.2 L367.6,205.3 L368.1,204.4 L368.6,203.5 L369.1,202.7 L369.6,201.8 L370.1,201.0 L370.6,200.2 L371.1,199.4 L371.6,198.6 L372.1,197.8 L372.6,197.1 L373.1,196.3 L373.6,195.6 L374.1,194.8 L374.6,194.1 L375.1,193.4 L375.6,192.7 L376.1,192.0 L376.6,191.3 L377.1,190.6 L377.6,190.0 L378.1,189.3 L378.6,188.6 L379.1,188.0 L379.6,187.3 L380.1,186.7 L380.6,186.0 L381.1,185.4 L381.6,184.8 L382.1,184.1 L382.6,183.5 L383.1,182.9 L383.6,182.3 L384.1,181.7 L384.6,181.1 L385.1,180.5 L385.6,179.9 L386.1,179.3 L386.6,178.7 L387.1,178.1 L387.6,177.6 L388.1,177.0 L388.6,176.4 L389.1,175.9 L389.6,175.3 L390.1,174.7 L390.6,174.2 L391.1,173.6 L391.6,173.1 L392.1,172.5 L392.6,172.0 L393.1,171.4 L393.6,170.9 L394.1,170.4 L394.6,169.8 L395.1,169.3 L395.6,168.8 L396.1,168.3 L396.6,167.7 L397.1,167.2 L397.6,166.7 L398.1,166.2 L398.6,165.7 L399.1,165.2 L399.6,164.7 L400.1,164.2 L400.6,163.7 L401.1,163.2 L401.6,162.7 L402.1,162.2 L402.6,161.7 L403.1,161.3 L403.6,160.8 L404.1,160.3 L404.6,159.8 L405.1,159.3 L405.6,158.9 L406.1,158.4 L406.6,157.9 L407.1,157.5 L407.6,157.0 L408.1,156.5 L408.6,156.1 L409.1,155.6 L409.6,155.2 L410.1,154.7 L410.6,154.3 L411.1,153.8 L411.6,153.4 L412.1,152.9 L412.6,152.5 L413.1,152.1 L413.6,151.6 L414.1,151.2 L414.6,150.8 L415.1,150.3 L415.6,149.9 L416.1,149.5 L416.6,149.1 L417.1,148.6 L417.6,148.2 L418.1,147.8 L418.6,147.4 L419.1,147.0 L419.6,146.6 L420.1,146.2 L420.6,145.8 L421.1,145.4 L421.6,145.0 L422.1,144.6 L422.6,144.2 L423.1,143.8 L423.6,143.4 L424.1,143.0 L424.6,142.6 L425.1,142.2 L425.6,141.8 L426.1,141.4 L426.6,141.0 L427.1,140.7 L427.6,140.3 L428.1,139.9 L428.6,139.5 L429.1,139.1 L429.6,138.8 L430.1,138.4 L430.6,138.0 L431.1,137.7 L431.6,137.3 L432.1,136.9 L432.6,136.6 L433.1,136.2 L433.6,135.8 L434.1,135.5 L434.6,135.1 L435.1,134.8 L435.6,134.4 L436.1,134.1 L436.6,133.7 L437.1,133.4 L437.6,133.0 L438.1,132.7 L438.6,132.3 L439.1,132.0 L439.6,131.7 L440.1,131.3 L440.6,131.0 L441.1,130.7 L441.6,130.3 L442.1,130.0 L442.6,129.7 L443.1,129.3 L443.6,129.0 L444.1,128.7 L444.6,128.4 L445.1,128.0 L445.6,127.7 L446.1,127.4 L446.6,127.1 L447.1,126.8 L447.6,126.4 L448.1,126.1 L448.6,125.8 L449.1,125.5 L449.6,125.2 L450.1,124.9 L450.6,124.6 L451.1,124.3 L451.6,124.0 L452.1,123.7 L452.6,123.4 L453.1,123.1 L453.6,122.8 L454.1,122.5 L454.6,122.2 L455.1,121.9 L455.6,121.6 L456.1,121.3 L456.6,121.0 L457.1,120.7 L457.6,120.4 L458.1,120.1 L458.6,119.8 L459.1,119.5 L459.6,119.3 L460.1,119.0 L460.6,118.7 L461.1,118.4 L461.6,118.1 L462.1,117.9 L462.6,117.6 L463.1,117.3 L463.6,117.0 L464.1,116.8 L464.6,116.5 L465.1,116.2 L465.6,115.9 L466.1,115.7 L466.6,115.4 L467.1,115.1 L467.6,114.9 L468.1,114.6 L468.6,114.3 L469.1,114.1 L469.6,113.8 L470.1,113.6 L470.6,113.3 L471.1,113.0 L471.6,112.8 L472.1,112.5 L472.6,112.3 L473.1,112.0 L473.6,111.8 L474.1,111.5 L474.6,111.3 L475.1,111.0 L475.6,110.8 L476.1,110.5 L476.6,110.3 L477.1,110.0 L477.6,109.8 L478.1,109.5 L478.6,109.3 L479.1,109.1 L479.6,108.8 L480.1,108.6 L480.6,108.3 L481.1,108.1 L481.6,107.9 L482.1,107.6 L482.6,107.4 L483.1,107.2 L483.6,106.9 L484.1,106.7 L484.6,106.5 L485.1,106.2 L485.6,106.0 L486.1,105.8 L486.6,105.5 L487.1,105.3 L487.6,105.1 L488.1,104.9 L488.6,104.6 L489.1,104.4 L489.6,104.2 L490.1,104.0 L490.6,103.7 L491.1,103.5 L491.6,103.3 L492.1,103.1 L492.3,103.0 L492.8,110.0 L493.3,115.0 L493.8,118.6 L494.3,121.3 L494.8,123.4 L495.3,125.1 L495.8,126.4 L496.3,127.6 L496.8,128.6 L497.3,129.5 L497.8,130.3 L498.3,131.1 L498.8,131.8 L499.3,132.5 L499.8,133.1 L500.3,133.8 L500.8,134.4 L501.3,135.0 L501.8,135.6 L502.3,136.2 L502.8,136.7 L503.3,137.3 L503.8,137.8 L504.3,138.3 L504.8,138.8 L505.3,139.3 L505.8,139.8 L506.3,140.3 L506.8,140.8 L507.3,141.2 L507.8,141.7 L508.3,142.1 L508.8,142.6 L509.3,143.0 L509.8,143.4 L510.3,143.8 L510.8,144.2 L511.3,144.6 L511.8,145.0 L512.3,145.4 L512.8,145.8 L513.3,146.1 L513.8,146.5 L514.3,146.9 L514.8,147.2 L515.3,147.5 L515.8,147.9 L516.3,148.2 L516.8,148.5 L517.3,148.9 L517.8,149.2 L518.3,149.5 L518.8,149.8 L519.3,150.1 L519.8,150.4 L520.3,150.7 L520.8,150.9 L521.3,151.2 L521.8,151.5 L522.3,151.8 L522.8,152.0 L523.3,152.3 L523.8,152.6 L524.3,152.8 L524.8,153.1 L525.3,153.3 L525.8,153.6 L526.3,153.8 L526.8,154.0 L527.3,154.3 L527.8,154.5 L528.3,154.7 L528.8,155.0 L529.3,155.2 L529.8,155.4 L530.3,155.6 L530.8,155.8 L531.3,156.1 L531.8,156.3 L532.3,156.5 L532.8,156.7 L533.3,156.9 L533.8,157.1 L534.3,157.3 L534.8,157.5 L535.3,157.7 L535.8,157.8 L536.3,158.0 L536.8,158.2 L537.3,158.4 L537.8,158.6 L538.3,158.8 L538.8,158.9 L539.3,159.1 L539.8,159.3 L540.3,159.5 L540.8,159.6 L541.3,159.8 L541.8,160.0 L542.3,160.1 L542.8,160.3 L543.3,160.5 L543.8,160.6 L544.3,160.8 L544.8,160.9 L545.3,161.1 L545.8,161.3 L546.3,161.4 L546.8,161.6 L547.3,161.7 L547.8,161.9 L548.3,162.0 L548.8,162.2 L549.3,162.3 L549.8,162.4 L550.3,162.6 L550.8,162.7 L551.3,162.9 L551.8,163.0 L552.3,163.2 L552.8,163.3 L553.3,163.4 L553.8,163.6 L554.3,163.7 L554.8,163.8 L555.3,164.0 L555.8,164.1 L556.3,164.2 L556.8,164.4 L557.3,164.5 L557.8,164.6 L558.3,164.7 L558.8,164.9 L559.3,165.0 L559.8,165.1 L560.3,165.2 L560.8,165.4 L561.3,165.5 L561.8,165.6 L562.3,165.7 L562.8,165.8 L563.3,166.0 L563.8,166.1 L564.3,166.2 L564.8,166.3 L565.3,166.4 L565.8,166.5 L566.3,166.7 L566.8,166.8 L567.3,166.9 L567.8,167.0 L568.3,167.1 L568.8,167.2 L569.3,167.3 L569.8,167.4 L570.3,167.5 L570.8,167.7 L571.3,167.8 L571.8,167.9 L572.3,168.0 L572.8,168.1 L573.3,168.2 L573.8,168.3 L574.3,168.4 L574.8,168.5 L575.3,168.6 L575.8,168.7 L576.3,168.8 L576.8,168.9 L577.3,169.0 L577.8,169.1 L578.3,169.2 L578.8,169.3 L579.3,169.4 L579.8,169.5 L580.3,169.6 L580.8,169.7 L581.3,169.8 L581.8,169.9 L582.3,170.0 L582.8,170.1 L583.3,170.2 L583.8,170.3 L584.3,170.4 L584.8,170.4 L585.3,170.5 L585.8,170.6 L586.3,170.7 L586.8,170.8 L587.3,170.9 L587.8,171.0 L588.3,171.1 L588.8,171.2 L589.3,171.3 L589.8,171.3 L590.3,171.4 L590.8,171.5 L591.3,171.6 L591.8,171.7 L592.3,171.8 L592.8,171.9 L593.3,171.9 L593.8,172.0 L594.3,172.1 L594.8,172.2 L595.3,172.3 L595.8,172.4 L596.3,172.4 L596.8,172.5 L597.3,172.6 L597.8,172.7 L598.3,172.8 L598.8,172.9 L599.3,172.9 L599.8,173.0 L600.3,173.1 L600.8,173.2 L601.3,173.3 L601.8,173.3 L602.3,173.4 L602.8,173.5 L603.3,173.6 L603.8,173.6 L604.3,173.7 L604.8,173.8 L605.3,173.9 L605.8,173.9 L606.3,174.0 L606.8,174.1 L607.3,174.2 L607.8,174.2 L608.3,174.3 L608.8,174.4 L609.3,174.5 L609.8,174.5 L610.3,174.6 L610.8,174.7 L611.3,174.8 L611.8,174.8 L612.3,174.9 L612.8,175.0 L613.3,175.0 L613.8,175.1 L614.3,175.2 L614.8,175.2 L615.3,175.3 L615.8,175.4 L616.3,175.5 L616.8,175.5 L617.3,175.6 L617.8,175.7 L618.3,175.7 L618.8,175.8 L619.3,175.9 L619.8,175.9 L620.3,176.0 L620.8,176.1 L621.3,176.1 L621.8,176.2 L622.3,176.3 L622.8,176.3 L623.3,176.4 L623.8,176.4 L624.3,176.5 L624.8,176.6 L625.3,176.6 L625.8,176.7 L626.3,176.8 L626.8,176.8 L627.3,176.9 L627.8,177.0 L628.3,177.0 L628.8,177.1 L629.3,177.1 L629.8,177.2 L630.3,177.3 L630.8,177.3 L631.3,177.4 L631.8,177.4 L632.3,177.5 L632.8,177.6 L633.3,177.6 L633.8,177.7 L634.3,177.7 L634.8,177.8 L635.3,177.8 L635.8,177.9 L636.3,178.0 L636.8,178.0 L637.3,178.1 L637.8,178.1 L638.3,178.2 L638.8,178.2 L639.3,178.3 L639.8,178.4 L640.3,178.4 L640.8,178.5 L641.3,178.5 L641.8,178.6 L642.3,178.6 L642.8,178.7 L643.3,178.7 L643.8,178.8 L644.3,178.8 L644.8,178.9 L645.3,179.0 L645.8,179.0 L646.3,179.1 L646.8,179.1 L647.3,179.2 L647.8,179.2 L648.3,179.3 L648.8,179.3 L649.3,179.4 L649.8,179.4 L650.3,179.5 L650.8,179.5 L651.3,179.6 L651.8,179.6 L652.3,179.7 L652.8,179.7 L653.3,179.8 L653.8,179.8 L654.3,179.9 L654.8,179.9 L655.3,180.0 L655.8,180.0 L656.3,180.1 L656.8,180.1 L657.3,180.2 L657.8,180.2 L658.3,180.3 L658.8,180.3 L659.3,180.3 L659.8,180.4 L660.3,180.4 L660.8,180.5 L661.3,180.5 L661.8,180.6 L662.3,180.6 L662.8,180.7 L663.3,180.7 L663.8,180.8 L664.3,180.8 L664.8,180.8 L665.3,180.9 L665.8,180.9 L666.3,181.0 L666.8,181.0 L667.3,181.1 L667.8,181.1 L668.3,181.2 L668.8,181.2 L669.3,181.2 L669.8,181.3 L670.3,181.3 L670.8,181.4 L671.3,181.4 L671.8,181.5 L672.3,181.5 L672.8,181.5 L673.3,181.6 L673.8,181.6 L674.3,181.7 L674.8,181.7 L675.3,181.7 L675.8,181.8 L676.3,181.8 L676.8,181.9 L677.3,181.9 L677.8,181.9 L678.3,182.0 L678.8,182.0 L679.0,182.0" fill="none" stroke="#00dc00" stroke-width="3.2" stroke-linejoin="round"/>
<path d="M261,57 H680 V405 H261 M268,55 V407" fill="none" stroke="#000" stroke-width="4"/>
<line x1="261" y1="335.4" x2="268" y2="335.4" stroke="#000" stroke-width="4"/>
<line x1="261" y1="265.8" x2="268" y2="265.8" stroke="#000" stroke-width="4"/>
<line x1="261" y1="196.2" x2="268" y2="196.2" stroke="#000" stroke-width="4"/>
<line x1="261" y1="126.6" x2="268" y2="126.6" stroke="#000" stroke-width="4"/>
<line x1="273.5" y1="405" x2="273.5" y2="412" stroke="#000" stroke-width="4"/>
<line x1="340.9" y1="405" x2="340.9" y2="412" stroke="#000" stroke-width="4"/>
<line x1="408.3" y1="405" x2="408.3" y2="412" stroke="#000" stroke-width="4"/>
<line x1="475.8" y1="405" x2="475.8" y2="412" stroke="#000" stroke-width="4"/>
<line x1="543.2" y1="405" x2="543.2" y2="412" stroke="#000" stroke-width="4"/>
<line x1="610.6" y1="405" x2="610.6" y2="412" stroke="#000" stroke-width="4"/>
<line x1="678.0" y1="405" x2="678.0" y2="412" stroke="#000" stroke-width="4"/>
<text transform="translate(218.00,344.88) scale(1.0000,1.0452)" text-anchor="start" font-size="23">200</text>
<text transform="translate(218.00,276.27) scale(1.0000,1.0452)" text-anchor="start" font-size="23">400</text>
<text transform="translate(218.00,205.18) scale(1.0000,1.0452)" text-anchor="start" font-size="23">600</text>
<text transform="translate(218.00,134.78) scale(1.0000,1.0452)" text-anchor="start" font-size="23">800</text>
<text transform="translate(206.50,65.78) scale(1.0000,1.0452)" text-anchor="start" font-size="23">1000</text>
<text transform="translate(267.75,434.75) scale(1.0000,1.0452)" text-anchor="start" font-size="23">0</text>
<text transform="translate(323.30,434.75) scale(1.0000,1.0452)" text-anchor="start" font-size="23">100</text>
<text transform="translate(391.09,434.75) scale(1.0000,1.0452)" text-anchor="start" font-size="23">200</text>
<text transform="translate(458.63,434.75) scale(1.0000,1.0452)" text-anchor="start" font-size="23">300</text>
<text transform="translate(526.31,434.75) scale(1.0000,1.0452)" text-anchor="start" font-size="23">400</text>
<text transform="translate(593.35,434.75) scale(1.0000,1.0452)" text-anchor="start" font-size="23">500</text>
<text transform="translate(660.89,434.75) scale(1.0000,1.0452)" text-anchor="start" font-size="23">600</text>
<text transform="translate(513.55,88.65) scale(0.9989,0.9589)" text-anchor="start" font-size="23">Inhibitors-AP</text>
<text transform="translate(172.65,65.10) scale(1.0951,1.0951)" text-anchor="start" font-size="32">a</text>
<text transform="translate(201.32,308.45) rotate(-90) scale(1.0598,1.0651)" text-anchor="start" font-size="23">Response (RU)</text>
<text transform="translate(421.95,467.70) scale(0.9778,1.0700)" text-anchor="start" font-size="23">Time (S)</text>
<line x1="279.9" y1="73.3" x2="316.9" y2="73.3" stroke="#2a2a2a" stroke-width="2.1"/>
<text transform="translate(323.40,78.65) scale(1.0496,0.9700)" font-size="18.3">10<tspan dx="-1.6"> mg/L</tspan></text>
<line x1="279.9" y1="98.4" x2="316.9" y2="98.4" stroke="#ff1f1f" stroke-width="2.1"/>
<text transform="translate(324.15,104.25) scale(1.0367,0.9700)" font-size="18.3">30<tspan dx="-1.6"> mg/L</tspan></text>
<line x1="279.9" y1="122.7" x2="316.9" y2="122.7" stroke="#2525ff" stroke-width="2.1"/>
<text transform="translate(324.15,127.45) scale(1.0367,0.9700)" font-size="18.3">50<tspan dx="-1.6"> mg/L</tspan></text>
<line x1="279.9" y1="147.1" x2="316.9" y2="147.1" stroke="#10e010" stroke-width="2.1"/>
<text transform="translate(323.90,151.15) scale(1.0410,0.9700)" font-size="18.3">75<tspan dx="-1.6"> mg/L</tspan></text>
<path d="M828.0,397.4 L905.4,397.4 L906.0,382.3 L906.5,374.3 L907.0,369.3 L907.5,366.0 L908.0,363.7 L908.5,362.1 L909.0,360.9 L909.5,359.9 L910.0,359.1 L910.5,358.4 L911.0,357.8 L911.5,357.3 L912.0,356.8 L912.5,356.4 L913.0,356.0 L913.5,355.6 L914.0,355.2 L914.5,354.9 L915.0,354.6 L915.5,354.3 L916.0,354.0 L916.5,353.8 L917.0,353.5 L917.5,353.3 L918.0,353.1 L918.5,352.9 L919.0,352.7 L919.5,352.5 L920.0,352.4 L920.5,352.2 L921.0,352.0 L921.5,351.9 L922.0,351.7 L922.5,351.6 L923.0,351.5 L923.5,351.3 L924.0,351.2 L924.5,351.1 L925.0,351.0 L925.5,350.9 L926.0,350.8 L926.5,350.6 L927.0,350.5 L927.5,350.4 L928.0,350.3 L928.5,350.2 L929.0,350.2 L929.5,350.1 L930.0,350.0 L930.5,349.9 L931.0,349.8 L931.5,349.7 L932.0,349.6 L932.5,349.5 L933.0,349.5 L933.5,349.4 L934.0,349.3 L934.5,349.2 L935.0,349.1 L935.5,349.1 L936.0,349.0 L936.5,348.9 L937.0,348.8 L937.5,348.8 L938.0,348.7 L938.5,348.6 L939.0,348.5 L939.5,348.5 L940.0,348.4 L940.5,348.3 L941.0,348.3 L941.5,348.2 L942.0,348.1 L942.5,348.1 L943.0,348.0 L943.5,347.9 L944.0,347.9 L944.5,347.8 L945.0,347.7 L945.5,347.7 L946.0,347.6 L946.5,347.5 L947.0,347.5 L947.5,347.4 L948.0,347.3 L948.5,347.3 L949.0,347.2 L949.5,347.1 L950.0,347.1 L950.5,347.0 L951.0,346.9 L951.5,346.9 L952.0,346.8 L952.5,346.8 L953.0,346.7 L953.5,346.6 L954.0,346.6 L954.5,346.5 L955.0,346.5 L955.5,346.4 L956.0,346.3 L956.5,346.3 L957.0,346.2 L957.5,346.2 L958.0,346.1 L958.5,346.0 L959.0,346.0 L959.5,345.9 L960.0,345.9 L960.5,345.8 L961.0,345.8 L961.5,345.7 L962.0,345.6 L962.5,345.6 L963.0,345.5 L963.5,345.5 L964.0,345.4 L964.5,345.4 L965.0,345.3 L965.5,345.3 L966.0,345.2 L966.5,345.1 L967.0,345.1 L967.5,345.0 L968.0,345.0 L968.5,344.9 L969.0,344.9 L969.5,344.8 L970.0,344.8 L970.5,344.7 L971.0,344.7 L971.5,344.6 L972.0,344.6 L972.5,344.5 L973.0,344.5 L973.5,344.4 L974.0,344.4 L974.5,344.3 L975.0,344.3 L975.5,344.2 L976.0,344.2 L976.5,344.1 L977.0,344.1 L977.5,344.0 L978.0,344.0 L978.5,343.9 L979.0,343.9 L979.5,343.8 L980.0,343.8 L980.5,343.7 L981.0,343.7 L981.5,343.6 L982.0,343.6 L982.5,343.5 L983.0,343.5 L983.5,343.4 L984.0,343.4 L984.5,343.3 L985.0,343.3 L985.5,343.3 L986.0,343.2 L986.5,343.2 L987.0,343.1 L987.5,343.1 L988.0,343.0 L988.5,343.0 L989.0,342.9 L989.5,342.9 L990.0,342.9 L990.5,342.8 L991.0,342.8 L991.5,342.7 L992.0,342.7 L992.5,342.6 L993.0,342.6 L993.5,342.5 L994.0,342.5 L994.5,342.5 L995.0,342.4 L995.5,342.4 L996.0,342.3 L996.5,342.3 L997.0,342.3 L997.5,342.2 L998.0,342.2 L998.5,342.1 L999.0,342.1 L999.5,342.0 L1000.0,342.0 L1000.5,342.0 L1001.0,341.9 L1001.5,341.9 L1002.0,341.8 L1002.5,341.8 L1003.0,341.8 L1003.5,341.7 L1004.0,341.7 L1004.5,341.7 L1005.0,341.6 L1005.5,341.6 L1006.0,341.5 L1006.5,341.5 L1007.0,341.5 L1007.5,341.4 L1008.0,341.4 L1008.5,341.4 L1009.0,341.3 L1009.5,341.3 L1010.0,341.2 L1010.5,341.2 L1011.0,341.2 L1011.5,341.1 L1012.0,341.1 L1012.5,341.1 L1013.0,341.0 L1013.5,341.0 L1014.0,340.9 L1014.5,340.9 L1015.0,340.9 L1015.5,340.8 L1016.0,340.8 L1016.5,340.8 L1017.0,340.7 L1017.5,340.7 L1018.0,340.7 L1018.5,340.6 L1019.0,340.6 L1019.5,340.6 L1020.0,340.5 L1020.5,340.5 L1021.0,340.5 L1021.5,340.4 L1022.0,340.4 L1022.5,340.4 L1023.0,340.3 L1023.5,340.3 L1024.0,340.3 L1024.5,340.2 L1025.0,340.2 L1025.5,340.2 L1026.0,340.1 L1026.5,340.1 L1027.0,340.1 L1027.5,340.0 L1028.0,340.0 L1028.5,340.0 L1029.0,340.0 L1029.5,339.9 L1030.0,339.9 L1030.5,339.9 L1031.0,339.8 L1031.5,339.8 L1032.0,339.8 L1032.5,339.7 L1033.0,339.7 L1033.5,339.7 L1034.0,339.6 L1034.5,339.6 L1035.0,339.6 L1035.5,339.6 L1036.0,339.5 L1036.5,339.5 L1037.0,339.5 L1037.5,339.4 L1038.0,339.4 L1038.5,339.4 L1039.0,339.4 L1039.5,339.3 L1040.0,339.3 L1040.5,339.3 L1041.0,339.2 L1041.5,339.2 L1042.0,339.2 L1042.5,339.2 L1043.0,339.1 L1043.5,339.1 L1044.0,339.1 L1044.5,339.0 L1045.0,339.0 L1045.5,339.0 L1046.0,339.0 L1046.5,338.9 L1047.0,338.9 L1047.5,338.9 L1048.0,338.9 L1048.5,338.8 L1049.0,338.8 L1049.2,338.8 L1049.7,339.7 L1050.2,340.6 L1050.7,341.5 L1051.2,342.2 L1051.7,342.9 L1052.2,343.6 L1052.7,344.2 L1053.2,344.8 L1053.7,345.3 L1054.2,345.9 L1054.7,346.3 L1055.2,346.8 L1055.7,347.2 L1056.2,347.6 L1056.7,348.0 L1057.2,348.3 L1057.7,348.7 L1058.2,349.0 L1058.7,349.3 L1059.2,349.6 L1059.7,349.8 L1060.2,350.1 L1060.7,350.3 L1061.2,350.6 L1061.7,350.8 L1062.2,351.0 L1062.7,351.2 L1063.2,351.4 L1063.7,351.6 L1064.2,351.8 L1064.7,352.0 L1065.2,352.1 L1065.7,352.3 L1066.2,352.4 L1066.7,352.6 L1067.2,352.8 L1067.7,352.9 L1068.2,353.0 L1068.7,353.2 L1069.2,353.3 L1069.7,353.4 L1070.2,353.6 L1070.7,353.7 L1071.2,353.8 L1071.7,353.9 L1072.2,354.0 L1072.7,354.1 L1073.2,354.2 L1073.7,354.3 L1074.2,354.5 L1074.7,354.6 L1075.2,354.7 L1075.7,354.8 L1076.2,354.8 L1076.7,354.9 L1077.2,355.0 L1077.7,355.1 L1078.2,355.2 L1078.7,355.3 L1079.2,355.4 L1079.7,355.5 L1080.2,355.6 L1080.7,355.6 L1081.2,355.7 L1081.7,355.8 L1082.2,355.9 L1082.7,356.0 L1083.2,356.0 L1083.7,356.1 L1084.2,356.2 L1084.7,356.3 L1085.2,356.3 L1085.7,356.4 L1086.2,356.5 L1086.7,356.6 L1087.2,356.6 L1087.7,356.7 L1088.2,356.8 L1088.7,356.8 L1089.2,356.9 L1089.7,357.0 L1090.2,357.0 L1090.7,357.1 L1091.2,357.2 L1091.7,357.2 L1092.2,357.3 L1092.7,357.3 L1093.2,357.4 L1093.7,357.5 L1094.2,357.5 L1094.7,357.6 L1095.2,357.6 L1095.7,357.7 L1096.2,357.7 L1096.7,357.8 L1097.2,357.8 L1097.7,357.9 L1098.2,358.0 L1098.7,358.0 L1099.2,358.1 L1099.7,358.1 L1100.2,358.2 L1100.7,358.2 L1101.2,358.3 L1101.7,358.3 L1102.2,358.4 L1102.7,358.4 L1103.2,358.5 L1103.7,358.5 L1104.2,358.5 L1104.7,358.6 L1105.2,358.6 L1105.7,358.7 L1106.2,358.7 L1106.7,358.8 L1107.2,358.8 L1107.7,358.9 L1108.2,358.9 L1108.7,358.9 L1109.2,359.0 L1109.7,359.0 L1110.2,359.1 L1110.7,359.1 L1111.2,359.1 L1111.7,359.2 L1112.2,359.2 L1112.7,359.3 L1113.2,359.3 L1113.7,359.3 L1114.2,359.4 L1114.7,359.4 L1115.2,359.4 L1115.7,359.5 L1116.2,359.5 L1116.7,359.6 L1117.2,359.6 L1117.7,359.6 L1118.2,359.7 L1118.7,359.7 L1119.2,359.7 L1119.7,359.8 L1120.2,359.8 L1120.7,359.8 L1121.2,359.9 L1121.7,359.9 L1122.2,359.9 L1122.7,360.0 L1123.2,360.0 L1123.7,360.0 L1124.2,360.0 L1124.7,360.1 L1125.2,360.1 L1125.7,360.1 L1126.2,360.2 L1126.7,360.2 L1127.2,360.2 L1127.7,360.2 L1128.2,360.3 L1128.7,360.3 L1129.2,360.3 L1129.7,360.4 L1130.2,360.4 L1130.7,360.4 L1131.2,360.4 L1131.7,360.5 L1132.2,360.5 L1132.7,360.5 L1133.2,360.5 L1133.7,360.6 L1134.2,360.6 L1134.7,360.6 L1135.2,360.6 L1135.7,360.7 L1136.2,360.7 L1136.7,360.7 L1137.2,360.7 L1137.7,360.8 L1138.2,360.8 L1138.7,360.8 L1139.2,360.8 L1139.7,360.8 L1140.2,360.9 L1140.7,360.9 L1141.2,360.9 L1141.7,360.9 L1142.2,361.0 L1142.7,361.0 L1143.2,361.0 L1143.7,361.0 L1144.2,361.0 L1144.7,361.1 L1145.2,361.1 L1145.7,361.1 L1146.2,361.1 L1146.7,361.1 L1147.2,361.2 L1147.7,361.2 L1148.2,361.2 L1148.7,361.2 L1149.2,361.2 L1149.7,361.3 L1150.2,361.3 L1150.7,361.3 L1151.2,361.3 L1151.7,361.3 L1152.2,361.3 L1152.7,361.4 L1153.2,361.4 L1153.7,361.4 L1154.2,361.4 L1154.7,361.4 L1155.2,361.5 L1155.7,361.5 L1156.2,361.5 L1156.7,361.5 L1157.2,361.5 L1157.7,361.5 L1158.2,361.6 L1158.7,361.6 L1159.2,361.6 L1159.7,361.6 L1160.2,361.6 L1160.7,361.6 L1161.2,361.7 L1161.7,361.7 L1162.2,361.7 L1162.7,361.7 L1163.2,361.7 L1163.7,361.7 L1164.2,361.7 L1164.7,361.8 L1165.2,361.8 L1165.7,361.8 L1166.2,361.8 L1166.7,361.8 L1167.2,361.8 L1167.7,361.8 L1168.2,361.9 L1168.7,361.9 L1169.2,361.9 L1169.7,361.9 L1170.2,361.9 L1170.7,361.9 L1171.2,361.9 L1171.7,362.0 L1172.2,362.0 L1172.7,362.0 L1173.2,362.0 L1173.7,362.0 L1174.2,362.0 L1174.7,362.0 L1175.2,362.0 L1175.7,362.1 L1176.2,362.1 L1176.7,362.1 L1177.2,362.1 L1177.7,362.1 L1178.2,362.1 L1178.7,362.1 L1179.2,362.1 L1179.7,362.2 L1180.2,362.2 L1180.7,362.2 L1181.2,362.2 L1181.7,362.2 L1182.2,362.2 L1182.7,362.2 L1183.2,362.2 L1183.7,362.3 L1184.2,362.3 L1184.7,362.3 L1185.2,362.3 L1185.7,362.3 L1186.2,362.3 L1186.7,362.3 L1187.2,362.3 L1187.7,362.3 L1188.2,362.4 L1188.7,362.4 L1189.2,362.4 L1189.7,362.4 L1190.2,362.4 L1190.7,362.4 L1191.2,362.4 L1191.7,362.4 L1192.2,362.4 L1192.7,362.5 L1193.2,362.5 L1193.7,362.5 L1194.2,362.5 L1194.7,362.5 L1195.2,362.5 L1195.7,362.5 L1196.2,362.5 L1196.7,362.5 L1197.2,362.5 L1197.7,362.6 L1198.2,362.6 L1198.7,362.6 L1199.2,362.6 L1199.7,362.6 L1200.2,362.6 L1200.7,362.6 L1201.2,362.6 L1201.7,362.6 L1202.2,362.6 L1202.7,362.6 L1203.2,362.7 L1203.7,362.7 L1204.2,362.7 L1204.7,362.7 L1205.2,362.7 L1205.7,362.7 L1206.2,362.7 L1206.7,362.7 L1207.2,362.7 L1207.7,362.7 L1208.2,362.8 L1208.7,362.8 L1209.2,362.8 L1209.7,362.8 L1210.2,362.8 L1210.7,362.8 L1211.2,362.8 L1211.7,362.8 L1212.2,362.8 L1212.7,362.8 L1213.2,362.8 L1213.7,362.8 L1214.2,362.9 L1214.7,362.9 L1215.2,362.9 L1215.7,362.9 L1216.2,362.9 L1216.7,362.9 L1217.2,362.9 L1217.7,362.9 L1218.2,362.9 L1218.7,362.9 L1219.2,362.9 L1219.7,362.9 L1220.2,363.0 L1220.7,363.0 L1221.2,363.0 L1221.7,363.0 L1222.2,363.0 L1222.7,363.0 L1223.2,363.0 L1223.7,363.0 L1224.2,363.0 L1224.7,363.0 L1225.2,363.0 L1225.7,363.0 L1226.2,363.1 L1226.7,363.1 L1227.2,363.1 L1227.7,363.1 L1228.2,363.1 L1228.7,363.1 L1229.2,363.1 L1229.7,363.1 L1230.2,363.1 L1230.7,363.1 L1231.2,363.1 L1231.7,363.1 L1232.2,363.1 L1232.7,363.2 L1233.2,363.2 L1233.7,363.2 L1234.2,363.2 L1234.7,363.2 L1235.2,363.2 L1235.7,363.2 L1236.0,363.2" fill="none" stroke="#000000" stroke-width="3.2" stroke-linejoin="round"/>
<path d="M828.0,397.4 L905.4,397.4 L905.6,360.0 L906.5,336.8 L907.0,334.0 L907.5,331.6 L908.0,329.5 L908.5,327.6 L909.0,326.0 L909.5,324.6 L910.0,323.3 L910.5,322.2 L911.0,321.2 L911.5,320.2 L912.0,319.4 L912.5,318.6 L913.0,317.9 L913.5,317.2 L914.0,316.6 L914.5,316.0 L915.0,315.4 L915.5,314.9 L916.0,314.4 L916.5,313.9 L917.0,313.4 L917.5,312.9 L918.0,312.5 L918.5,312.0 L919.0,311.6 L919.5,311.1 L920.0,310.7 L920.5,310.3 L921.0,309.9 L921.5,309.5 L922.0,309.1 L922.5,308.7 L923.0,308.3 L923.5,307.9 L924.0,307.6 L924.5,307.2 L925.0,306.8 L925.5,306.4 L926.0,306.1 L926.5,305.7 L927.0,305.3 L927.5,305.0 L928.0,304.6 L928.5,304.2 L929.0,303.9 L929.5,303.5 L930.0,303.2 L930.5,302.8 L931.0,302.5 L931.5,302.1 L932.0,301.8 L932.5,301.4 L933.0,301.1 L933.5,300.8 L934.0,300.4 L934.5,300.1 L935.0,299.8 L935.5,299.4 L936.0,299.1 L936.5,298.8 L937.0,298.4 L937.5,298.1 L938.0,297.8 L938.5,297.5 L939.0,297.2 L939.5,296.8 L940.0,296.5 L940.5,296.2 L941.0,295.9 L941.5,295.6 L942.0,295.3 L942.5,295.0 L943.0,294.7 L943.5,294.4 L944.0,294.1 L944.5,293.8 L945.0,293.5 L945.5,293.2 L946.0,292.9 L946.5,292.6 L947.0,292.3 L947.5,292.0 L948.0,291.7 L948.5,291.4 L949.0,291.1 L949.5,290.9 L950.0,290.6 L950.5,290.3 L951.0,290.0 L951.5,289.7 L952.0,289.5 L952.5,289.2 L953.0,288.9 L953.5,288.6 L954.0,288.4 L954.5,288.1 L955.0,287.8 L955.5,287.6 L956.0,287.3 L956.5,287.0 L957.0,286.8 L957.5,286.5 L958.0,286.3 L958.5,286.0 L959.0,285.7 L959.5,285.5 L960.0,285.2 L960.5,285.0 L961.0,284.7 L961.5,284.5 L962.0,284.2 L962.5,284.0 L963.0,283.8 L963.5,283.5 L964.0,283.3 L964.5,283.0 L965.0,282.8 L965.5,282.5 L966.0,282.3 L966.5,282.1 L967.0,281.8 L967.5,281.6 L968.0,281.4 L968.5,281.1 L969.0,280.9 L969.5,280.7 L970.0,280.5 L970.5,280.2 L971.0,280.0 L971.5,279.8 L972.0,279.6 L972.5,279.3 L973.0,279.1 L973.5,278.9 L974.0,278.7 L974.5,278.5 L975.0,278.3 L975.5,278.0 L976.0,277.8 L976.5,277.6 L977.0,277.4 L977.5,277.2 L978.0,277.0 L978.5,276.8 L979.0,276.6 L979.5,276.4 L980.0,276.2 L980.5,276.0 L981.0,275.8 L981.5,275.6 L982.0,275.4 L982.5,275.2 L983.0,275.0 L983.5,274.8 L984.0,274.6 L984.5,274.4 L985.0,274.2 L985.5,274.0 L986.0,273.8 L986.5,273.6 L987.0,273.4 L987.5,273.2 L988.0,273.1 L988.5,272.9 L989.0,272.7 L989.5,272.5 L990.0,272.3 L990.5,272.1 L991.0,272.0 L991.5,271.8 L992.0,271.6 L992.5,271.4 L993.0,271.3 L993.5,271.1 L994.0,270.9 L994.5,270.7 L995.0,270.6 L995.5,270.4 L996.0,270.2 L996.5,270.0 L997.0,269.9 L997.5,269.7 L998.0,269.5 L998.5,269.4 L999.0,269.2 L999.5,269.0 L1000.0,268.9 L1000.5,268.7 L1001.0,268.6 L1001.5,268.4 L1002.0,268.2 L1002.5,268.1 L1003.0,267.9 L1003.5,267.8 L1004.0,267.6 L1004.5,267.4 L1005.0,267.3 L1005.5,267.1 L1006.0,267.0 L1006.5,266.8 L1007.0,266.7 L1007.5,266.5 L1008.0,266.4 L1008.5,266.2 L1009.0,266.1 L1009.5,265.9 L1010.0,265.8 L1010.5,265.6 L1011.0,265.5 L1011.5,265.4 L1012.0,265.2 L1012.5,265.1 L1013.0,264.9 L1013.5,264.8 L1014.0,264.6 L1014.5,264.5 L1015.0,264.4 L1015.5,264.2 L1016.0,264.1 L1016.5,264.0 L1017.0,263.8 L1017.5,263.7 L1018.0,263.6 L1018.5,263.4 L1019.0,263.3 L1019.5,263.2 L1020.0,263.0 L1020.5,262.9 L1021.0,262.8 L1021.5,262.6 L1022.0,262.5 L1022.5,262.4 L1023.0,262.3 L1023.5,262.1 L1024.0,262.0 L1024.5,261.9 L1025.0,261.7 L1025.5,261.6 L1026.0,261.5 L1026.5,261.4 L1027.0,261.3 L1027.5,261.1 L1028.0,261.0 L1028.5,260.9 L1029.0,260.8 L1029.5,260.7 L1030.0,260.5 L1030.5,260.4 L1031.0,260.3 L1031.5,260.2 L1032.0,260.1 L1032.5,260.0 L1033.0,259.9 L1033.5,259.7 L1034.0,259.6 L1034.5,259.5 L1035.0,259.4 L1035.5,259.3 L1036.0,259.2 L1036.5,259.1 L1037.0,259.0 L1037.5,258.9 L1038.0,258.7 L1038.5,258.6 L1039.0,258.5 L1039.5,258.4 L1040.0,258.3 L1040.5,258.2 L1041.0,258.1 L1041.5,258.0 L1042.0,257.9 L1042.5,257.8 L1043.0,257.7 L1043.5,257.6 L1044.0,257.5 L1044.5,257.4 L1045.0,257.3 L1045.5,257.2 L1046.0,257.1 L1046.5,257.1 L1047.0,257.7 L1047.5,258.6 L1048.0,259.9 L1048.5,261.4 L1049.0,263.0 L1049.5,264.6 L1050.0,266.3 L1050.5,268.0 L1051.0,269.6 L1051.5,271.2 L1052.0,272.7 L1052.5,274.1 L1053.0,275.5 L1053.5,276.8 L1054.0,278.0 L1054.5,279.1 L1055.0,280.2 L1055.5,281.2 L1056.0,282.1 L1056.5,282.9 L1057.0,283.7 L1057.5,284.4 L1058.0,285.1 L1058.5,285.7 L1059.0,286.3 L1059.5,286.9 L1060.0,287.4 L1060.5,287.8 L1061.0,288.3 L1061.5,288.7 L1062.0,289.0 L1062.5,289.4 L1063.0,289.7 L1063.5,290.1 L1064.0,290.4 L1064.5,290.6 L1065.0,290.9 L1065.5,291.2 L1066.0,291.4 L1066.5,291.7 L1067.0,291.9 L1067.5,292.1 L1068.0,292.3 L1068.5,292.5 L1069.0,292.7 L1069.5,292.9 L1070.0,293.1 L1070.5,293.3 L1071.0,293.5 L1071.5,293.6 L1072.0,293.8 L1072.5,294.0 L1073.0,294.1 L1073.5,294.3 L1074.0,294.5 L1074.5,294.6 L1075.0,294.8 L1075.5,294.9 L1076.0,295.1 L1076.5,295.2 L1077.0,295.4 L1077.5,295.5 L1078.0,295.7 L1078.5,295.8 L1079.0,296.0 L1079.5,296.1 L1080.0,296.2 L1080.5,296.4 L1081.0,296.5 L1081.5,296.6 L1082.0,296.8 L1082.5,296.9 L1083.0,297.0 L1083.5,297.2 L1084.0,297.3 L1084.5,297.4 L1085.0,297.6 L1085.5,297.7 L1086.0,297.8 L1086.5,298.0 L1087.0,298.1 L1087.5,298.2 L1088.0,298.3 L1088.5,298.4 L1089.0,298.6 L1089.5,298.7 L1090.0,298.8 L1090.5,298.9 L1091.0,299.1 L1091.5,299.2 L1092.0,299.3 L1092.5,299.4 L1093.0,299.5 L1093.5,299.6 L1094.0,299.8 L1094.5,299.9 L1095.0,300.0 L1095.5,300.1 L1096.0,300.2 L1096.5,300.3 L1097.0,300.4 L1097.5,300.5 L1098.0,300.6 L1098.5,300.8 L1099.0,300.9 L1099.5,301.0 L1100.0,301.1 L1100.5,301.2 L1101.0,301.3 L1101.5,301.4 L1102.0,301.5 L1102.5,301.6 L1103.0,301.7 L1103.5,301.8 L1104.0,301.9 L1104.5,302.0 L1105.0,302.1 L1105.5,302.2 L1106.0,302.3 L1106.5,302.4 L1107.0,302.5 L1107.5,302.6 L1108.0,302.7 L1108.5,302.8 L1109.0,302.9 L1109.5,303.0 L1110.0,303.1 L1110.5,303.2 L1111.0,303.2 L1111.5,303.3 L1112.0,303.4 L1112.5,303.5 L1113.0,303.6 L1113.5,303.7 L1114.0,303.8 L1114.5,303.9 L1115.0,304.0 L1115.5,304.1 L1116.0,304.1 L1116.5,304.2 L1117.0,304.3 L1117.5,304.4 L1118.0,304.5 L1118.5,304.6 L1119.0,304.6 L1119.5,304.7 L1120.0,304.8 L1120.5,304.9 L1121.0,305.0 L1121.5,305.1 L1122.0,305.1 L1122.5,305.2 L1123.0,305.3 L1123.5,305.4 L1124.0,305.5 L1124.5,305.5 L1125.0,305.6 L1125.5,305.7 L1126.0,305.8 L1126.5,305.8 L1127.0,305.9 L1127.5,306.0 L1128.0,306.1 L1128.5,306.1 L1129.0,306.2 L1129.5,306.3 L1130.0,306.4 L1130.5,306.4 L1131.0,306.5 L1131.5,306.6 L1132.0,306.6 L1132.5,306.7 L1133.0,306.8 L1133.5,306.8 L1134.0,306.9 L1134.5,307.0 L1135.0,307.1 L1135.5,307.1 L1136.0,307.2 L1136.5,307.3 L1137.0,307.3 L1137.5,307.4 L1138.0,307.5 L1138.5,307.5 L1139.0,307.6 L1139.5,307.6 L1140.0,307.7 L1140.5,307.8 L1141.0,307.8 L1141.5,307.9 L1142.0,308.0 L1142.5,308.0 L1143.0,308.1 L1143.5,308.1 L1144.0,308.2 L1144.5,308.3 L1145.0,308.3 L1145.5,308.4 L1146.0,308.4 L1146.5,308.5 L1147.0,308.6 L1147.5,308.6 L1148.0,308.7 L1148.5,308.7 L1149.0,308.8 L1149.5,308.8 L1150.0,308.9 L1150.5,309.0 L1151.0,309.0 L1151.5,309.1 L1152.0,309.1 L1152.5,309.2 L1153.0,309.2 L1153.5,309.3 L1154.0,309.3 L1154.5,309.4 L1155.0,309.4 L1155.5,309.5 L1156.0,309.5 L1156.5,309.6 L1157.0,309.6 L1157.5,309.7 L1158.0,309.8 L1158.5,309.8 L1159.0,309.9 L1159.5,309.9 L1160.0,310.0 L1160.5,310.0 L1161.0,310.0 L1161.5,310.1 L1162.0,310.1 L1162.5,310.2 L1163.0,310.2 L1163.5,310.3 L1164.0,310.3 L1164.5,310.4 L1165.0,310.4 L1165.5,310.5 L1166.0,310.5 L1166.5,310.6 L1167.0,310.6 L1167.5,310.7 L1168.0,310.7 L1168.5,310.7 L1169.0,310.8 L1169.5,310.8 L1170.0,310.9 L1170.5,310.9 L1171.0,311.0 L1171.5,311.0 L1172.0,311.0 L1172.5,311.1 L1173.0,311.1 L1173.5,311.2 L1174.0,311.2 L1174.5,311.3 L1175.0,311.3 L1175.5,311.3 L1176.0,311.4 L1176.5,311.4 L1177.0,311.5 L1177.5,311.5 L1178.0,311.5 L1178.5,311.6 L1179.0,311.6 L1179.5,311.7 L1180.0,311.7 L1180.5,311.7 L1181.0,311.8 L1181.5,311.8 L1182.0,311.8 L1182.5,311.9 L1183.0,311.9 L1183.5,311.9 L1184.0,312.0 L1184.5,312.0 L1185.0,312.1 L1185.5,312.1 L1186.0,312.1 L1186.5,312.2 L1187.0,312.2 L1187.5,312.2 L1188.0,312.3 L1188.5,312.3 L1189.0,312.3 L1189.5,312.4 L1190.0,312.4 L1190.5,312.4 L1191.0,312.5 L1191.5,312.5 L1192.0,312.5 L1192.5,312.6 L1193.0,312.6 L1193.5,312.6 L1194.0,312.7 L1194.5,312.7 L1195.0,312.7 L1195.5,312.8 L1196.0,312.8 L1196.5,312.8 L1197.0,312.9 L1197.5,312.9 L1198.0,312.9 L1198.5,312.9 L1199.0,313.0 L1199.5,313.0 L1200.0,313.0 L1200.5,313.1 L1201.0,313.1 L1201.5,313.1 L1202.0,313.2 L1202.5,313.2 L1203.0,313.2 L1203.5,313.2 L1204.0,313.3 L1204.5,313.3 L1205.0,313.3 L1205.5,313.3 L1206.0,313.4 L1206.5,313.4 L1207.0,313.4 L1207.5,313.5 L1208.0,313.5 L1208.5,313.5 L1209.0,313.5 L1209.5,313.6 L1210.0,313.6 L1210.5,313.6 L1211.0,313.6 L1211.5,313.7 L1212.0,313.7 L1212.5,313.7 L1213.0,313.7 L1213.5,313.8 L1214.0,313.8 L1214.5,313.8 L1215.0,313.8 L1215.5,313.9 L1216.0,313.9 L1216.5,313.9 L1217.0,313.9 L1217.5,314.0 L1218.0,314.0 L1218.5,314.0 L1219.0,314.0 L1219.5,314.1 L1220.0,314.1 L1220.5,314.1 L1221.0,314.1 L1221.5,314.1 L1222.0,314.2 L1222.5,314.2 L1223.0,314.2 L1223.5,314.2 L1224.0,314.3 L1224.5,314.3 L1225.0,314.3 L1225.5,314.3 L1226.0,314.3 L1226.5,314.4 L1227.0,314.4 L1227.5,314.4 L1228.0,314.4 L1228.5,314.4 L1229.0,314.5 L1229.5,314.5 L1230.0,314.5 L1230.5,314.5 L1231.0,314.5 L1231.5,314.6 L1232.0,314.6 L1232.5,314.6 L1233.0,314.6 L1233.5,314.6 L1234.0,314.7 L1234.5,314.7 L1235.0,314.7 L1235.5,314.7 L1236.0,314.7" fill="none" stroke="#c40000" stroke-width="3.2" stroke-linejoin="round"/>
<path d="M828.0,397.4 L905.4,397.4 L905.5,360.0 L906.0,322.0 L906.5,319.9 L907.0,317.9 L907.5,316.0 L908.0,314.2 L908.5,312.5 L909.0,310.9 L909.5,309.3 L910.0,307.9 L910.5,306.4 L911.0,305.1 L911.5,303.8 L912.0,302.5 L912.5,301.3 L913.0,300.2 L913.5,299.1 L914.0,298.0 L914.5,297.0 L915.0,296.0 L915.5,295.0 L916.0,294.1 L916.5,293.2 L917.0,292.3 L917.5,291.4 L918.0,290.6 L918.5,289.8 L919.0,289.0 L919.5,288.3 L920.0,287.5 L920.5,286.8 L921.0,286.0 L921.5,285.3 L922.0,284.6 L922.5,284.0 L923.0,283.3 L923.5,282.6 L924.0,282.0 L924.5,281.4 L925.0,280.7 L925.5,280.1 L926.0,279.5 L926.5,278.9 L927.0,278.3 L927.5,277.7 L928.0,277.2 L928.5,276.6 L929.0,276.0 L929.5,275.5 L930.0,274.9 L930.5,274.4 L931.0,273.8 L931.5,273.3 L932.0,272.7 L932.5,272.2 L933.0,271.7 L933.5,271.1 L934.0,270.6 L934.5,270.1 L935.0,269.6 L935.5,269.1 L936.0,268.6 L936.5,268.1 L937.0,267.6 L937.5,267.1 L938.0,266.6 L938.5,266.1 L939.0,265.6 L939.5,265.1 L940.0,264.6 L940.5,264.1 L941.0,263.6 L941.5,263.2 L942.0,262.7 L942.5,262.2 L943.0,261.7 L943.5,261.3 L944.0,260.8 L944.5,260.3 L945.0,259.9 L945.5,259.4 L946.0,258.9 L946.5,258.5 L947.0,258.0 L947.5,257.6 L948.0,257.1 L948.5,256.7 L949.0,256.2 L949.5,255.8 L950.0,255.3 L950.5,254.9 L951.0,254.4 L951.5,254.0 L952.0,253.6 L952.5,253.1 L953.0,252.7 L953.5,252.2 L954.0,251.8 L954.5,251.4 L955.0,251.0 L955.5,250.5 L956.0,250.1 L956.5,249.7 L957.0,249.2 L957.5,248.8 L958.0,248.4 L958.5,248.0 L959.0,247.6 L959.5,247.1 L960.0,246.7 L960.5,246.3 L961.0,245.9 L961.5,245.5 L962.0,245.1 L962.5,244.7 L963.0,244.3 L963.5,243.9 L964.0,243.5 L964.5,243.1 L965.0,242.7 L965.5,242.3 L966.0,241.9 L966.5,241.5 L967.0,241.1 L967.5,240.7 L968.0,240.3 L968.5,239.9 L969.0,239.5 L969.5,239.1 L970.0,238.7 L970.5,238.3 L971.0,238.0 L971.5,237.6 L972.0,237.2 L972.5,236.8 L973.0,236.4 L973.5,236.0 L974.0,235.7 L974.5,235.3 L975.0,234.9 L975.5,234.6 L976.0,234.2 L976.5,233.8 L977.0,233.4 L977.5,233.1 L978.0,232.7 L978.5,232.3 L979.0,232.0 L979.5,231.6 L980.0,231.3 L980.5,230.9 L981.0,230.5 L981.5,230.2 L982.0,229.8 L982.5,229.5 L983.0,229.1 L983.5,228.8 L984.0,228.4 L984.5,228.1 L985.0,227.7 L985.5,227.4 L986.0,227.0 L986.5,226.7 L987.0,226.3 L987.5,226.0 L988.0,225.7 L988.5,225.3 L989.0,225.0 L989.5,224.6 L990.0,224.3 L990.5,224.0 L991.0,223.6 L991.5,223.3 L992.0,223.0 L992.5,222.6 L993.0,222.3 L993.5,222.0 L994.0,221.7 L994.5,221.3 L995.0,221.0 L995.5,220.7 L996.0,220.4 L996.5,220.1 L997.0,219.7 L997.5,219.4 L998.0,219.1 L998.5,218.8 L999.0,218.5 L999.5,218.2 L1000.0,217.8 L1000.5,217.5 L1001.0,217.2 L1001.5,216.9 L1002.0,216.6 L1002.5,216.3 L1003.0,216.0 L1003.5,215.7 L1004.0,215.4 L1004.5,215.1 L1005.0,214.8 L1005.5,214.5 L1006.0,214.2 L1006.5,213.9 L1007.0,213.6 L1007.5,213.3 L1008.0,213.0 L1008.5,212.7 L1009.0,212.4 L1009.5,212.1 L1010.0,211.8 L1010.5,211.6 L1011.0,211.3 L1011.5,211.0 L1012.0,210.7 L1012.5,210.4 L1013.0,210.1 L1013.5,209.9 L1014.0,209.6 L1014.5,209.3 L1015.0,209.0 L1015.5,208.7 L1016.0,208.5 L1016.5,208.2 L1017.0,207.9 L1017.5,207.6 L1018.0,207.4 L1018.5,207.1 L1019.0,206.8 L1019.5,206.6 L1020.0,206.3 L1020.5,206.0 L1021.0,205.8 L1021.5,205.5 L1022.0,205.2 L1022.5,205.0 L1023.0,204.7 L1023.5,204.4 L1024.0,204.2 L1024.5,203.9 L1025.0,203.7 L1025.5,203.4 L1026.0,203.2 L1026.5,202.9 L1027.0,202.7 L1027.5,202.4 L1028.0,202.1 L1028.5,201.9 L1029.0,201.6 L1029.5,201.4 L1030.0,201.2 L1030.5,200.9 L1031.0,200.7 L1031.5,200.4 L1032.0,200.2 L1032.5,199.9 L1033.0,199.7 L1033.5,199.5 L1034.0,199.2 L1034.5,199.0 L1035.0,198.7 L1035.5,198.5 L1036.0,198.3 L1036.5,198.0 L1037.0,197.8 L1037.5,197.6 L1038.0,197.3 L1038.5,197.1 L1039.0,196.9 L1039.5,196.6 L1040.0,196.4 L1040.5,196.2 L1041.0,196.0 L1041.5,195.7 L1042.0,195.5 L1042.5,195.3 L1043.0,195.1 L1043.5,194.8 L1044.0,194.6 L1044.5,194.4 L1045.0,194.2 L1045.5,194.0 L1046.0,193.8 L1046.5,193.5 L1046.6,193.5 L1047.1,193.5 L1047.6,194.6 L1048.1,196.3 L1048.6,198.2 L1049.1,200.2 L1049.6,202.1 L1050.1,204.0 L1050.6,205.8 L1051.1,207.5 L1051.6,209.1 L1052.1,210.6 L1052.6,211.9 L1053.1,213.2 L1053.6,214.4 L1054.1,215.5 L1054.6,216.5 L1055.1,217.4 L1055.6,218.2 L1056.1,219.0 L1056.6,219.8 L1057.1,220.5 L1057.6,221.1 L1058.1,221.7 L1058.6,222.3 L1059.1,222.9 L1059.6,223.4 L1060.1,223.8 L1060.6,224.3 L1061.1,224.7 L1061.6,225.1 L1062.1,225.5 L1062.6,225.8 L1063.1,226.2 L1063.6,226.5 L1064.1,226.8 L1064.6,227.1 L1065.1,227.4 L1065.6,227.7 L1066.1,228.0 L1066.6,228.2 L1067.1,228.5 L1067.6,228.7 L1068.1,229.0 L1068.6,229.2 L1069.1,229.4 L1069.6,229.7 L1070.1,229.9 L1070.6,230.1 L1071.1,230.3 L1071.6,230.5 L1072.1,230.7 L1072.6,230.9 L1073.1,231.1 L1073.6,231.2 L1074.1,231.4 L1074.6,231.6 L1075.1,231.8 L1075.6,232.0 L1076.1,232.1 L1076.6,232.3 L1077.1,232.5 L1077.6,232.6 L1078.1,232.8 L1078.6,233.0 L1079.1,233.1 L1079.6,233.3 L1080.1,233.5 L1080.6,233.6 L1081.1,233.8 L1081.6,233.9 L1082.1,234.1 L1082.6,234.2 L1083.1,234.4 L1083.6,234.5 L1084.1,234.7 L1084.6,234.8 L1085.1,235.0 L1085.6,235.1 L1086.1,235.2 L1086.6,235.4 L1087.1,235.5 L1087.6,235.7 L1088.1,235.8 L1088.6,235.9 L1089.1,236.1 L1089.6,236.2 L1090.1,236.4 L1090.6,236.5 L1091.1,236.6 L1091.6,236.8 L1092.1,236.9 L1092.6,237.0 L1093.1,237.1 L1093.6,237.3 L1094.1,237.4 L1094.6,237.5 L1095.1,237.7 L1095.6,237.8 L1096.1,237.9 L1096.6,238.0 L1097.1,238.2 L1097.6,238.3 L1098.1,238.4 L1098.6,238.5 L1099.1,238.6 L1099.6,238.8 L1100.1,238.9 L1100.6,239.0 L1101.1,239.1 L1101.6,239.2 L1102.1,239.3 L1102.6,239.5 L1103.1,239.6 L1103.6,239.7 L1104.1,239.8 L1104.6,239.9 L1105.1,240.0 L1105.6,240.1 L1106.1,240.2 L1106.6,240.3 L1107.1,240.5 L1107.6,240.6 L1108.1,240.7 L1108.6,240.8 L1109.1,240.9 L1109.6,241.0 L1110.1,241.1 L1110.6,241.2 L1111.1,241.3 L1111.6,241.4 L1112.1,241.5 L1112.6,241.6 L1113.1,241.7 L1113.6,241.8 L1114.1,241.9 L1114.6,242.0 L1115.1,242.1 L1115.6,242.2 L1116.1,242.3 L1116.6,242.4 L1117.1,242.5 L1117.6,242.6 L1118.1,242.7 L1118.6,242.8 L1119.1,242.9 L1119.6,242.9 L1120.1,243.0 L1120.6,243.1 L1121.1,243.2 L1121.6,243.3 L1122.1,243.4 L1122.6,243.5 L1123.1,243.6 L1123.6,243.7 L1124.1,243.8 L1124.6,243.8 L1125.1,243.9 L1125.6,244.0 L1126.1,244.1 L1126.6,244.2 L1127.1,244.3 L1127.6,244.3 L1128.1,244.4 L1128.6,244.5 L1129.1,244.6 L1129.6,244.7 L1130.1,244.8 L1130.6,244.8 L1131.1,244.9 L1131.6,245.0 L1132.1,245.1 L1132.6,245.2 L1133.1,245.2 L1133.6,245.3 L1134.1,245.4 L1134.6,245.5 L1135.1,245.5 L1135.6,245.6 L1136.1,245.7 L1136.6,245.8 L1137.1,245.8 L1137.6,245.9 L1138.1,246.0 L1138.6,246.1 L1139.1,246.1 L1139.6,246.2 L1140.1,246.3 L1140.6,246.3 L1141.1,246.4 L1141.6,246.5 L1142.1,246.6 L1142.6,246.6 L1143.1,246.7 L1143.6,246.8 L1144.1,246.8 L1144.6,246.9 L1145.1,247.0 L1145.6,247.0 L1146.1,247.1 L1146.6,247.2 L1147.1,247.2 L1147.6,247.3 L1148.1,247.4 L1148.6,247.4 L1149.1,247.5 L1149.6,247.5 L1150.1,247.6 L1150.6,247.7 L1151.1,247.7 L1151.6,247.8 L1152.1,247.9 L1152.6,247.9 L1153.1,248.0 L1153.6,248.0 L1154.1,248.1 L1154.6,248.2 L1155.1,248.2 L1155.6,248.3 L1156.1,248.3 L1156.6,248.4 L1157.1,248.4 L1157.6,248.5 L1158.1,248.6 L1158.6,248.6 L1159.1,248.7 L1159.6,248.7 L1160.1,248.8 L1160.6,248.8 L1161.1,248.9 L1161.6,248.9 L1162.1,249.0 L1162.6,249.1 L1163.1,249.1 L1163.6,249.2 L1164.1,249.2 L1164.6,249.3 L1165.1,249.3 L1165.6,249.4 L1166.1,249.4 L1166.6,249.5 L1167.1,249.5 L1167.6,249.6 L1168.1,249.6 L1168.6,249.7 L1169.1,249.7 L1169.6,249.8 L1170.1,249.8 L1170.6,249.9 L1171.1,249.9 L1171.6,250.0 L1172.1,250.0 L1172.6,250.1 L1173.1,250.1 L1173.6,250.2 L1174.1,250.2 L1174.6,250.2 L1175.1,250.3 L1175.6,250.3 L1176.1,250.4 L1176.6,250.4 L1177.1,250.5 L1177.6,250.5 L1178.1,250.6 L1178.6,250.6 L1179.1,250.6 L1179.6,250.7 L1180.1,250.7 L1180.6,250.8 L1181.1,250.8 L1181.6,250.9 L1182.1,250.9 L1182.6,250.9 L1183.1,251.0 L1183.6,251.0 L1184.1,251.1 L1184.6,251.1 L1185.1,251.1 L1185.6,251.2 L1186.1,251.2 L1186.6,251.3 L1187.1,251.3 L1187.6,251.3 L1188.1,251.4 L1188.6,251.4 L1189.1,251.5 L1189.6,251.5 L1190.1,251.5 L1190.6,251.6 L1191.1,251.6 L1191.6,251.6 L1192.1,251.7 L1192.6,251.7 L1193.1,251.8 L1193.6,251.8 L1194.1,251.8 L1194.6,251.9 L1195.1,251.9 L1195.6,251.9 L1196.1,252.0 L1196.6,252.0 L1197.1,252.0 L1197.6,252.1 L1198.1,252.1 L1198.6,252.1 L1199.1,252.2 L1199.6,252.2 L1200.1,252.2 L1200.6,252.3 L1201.1,252.3 L1201.6,252.3 L1202.1,252.4 L1202.6,252.4 L1203.1,252.4 L1203.6,252.5 L1204.1,252.5 L1204.6,252.5 L1205.1,252.6 L1205.6,252.6 L1206.1,252.6 L1206.6,252.7 L1207.1,252.7 L1207.6,252.7 L1208.1,252.8 L1208.6,252.8 L1209.1,252.8 L1209.6,252.8 L1210.1,252.9 L1210.6,252.9 L1211.1,252.9 L1211.6,253.0 L1212.1,253.0 L1212.6,253.0 L1213.1,253.0 L1213.6,253.1 L1214.1,253.1 L1214.6,253.1 L1215.1,253.2 L1215.6,253.2 L1216.1,253.2 L1216.6,253.2 L1217.1,253.3 L1217.6,253.3 L1218.1,253.3 L1218.6,253.3 L1219.1,253.4 L1219.6,253.4 L1220.1,253.4 L1220.6,253.4 L1221.1,253.5 L1221.6,253.5 L1222.1,253.5 L1222.6,253.5 L1223.1,253.6 L1223.6,253.6 L1224.1,253.6 L1224.6,253.6 L1225.1,253.7 L1225.6,253.7 L1226.1,253.7 L1226.6,253.7 L1227.1,253.8 L1227.6,253.8 L1228.1,253.8 L1228.6,253.8 L1229.1,253.9 L1229.6,253.9 L1230.1,253.9 L1230.6,253.9 L1231.1,254.0 L1231.6,254.0 L1232.1,254.0 L1232.6,254.0 L1233.1,254.0 L1233.6,254.1 L1234.1,254.1 L1234.6,254.1 L1235.1,254.1 L1235.6,254.1 L1236.0,254.2" fill="none" stroke="#0000c4" stroke-width="3.2" stroke-linejoin="round"/>
<path d="M828.0,397.4 L903.1,397.4 L903.5,350.0 L903.8,325.8 L904.3,315.4 L904.8,307.9 L905.3,302.1 L905.8,297.3 L906.3,293.1 L906.8,289.4 L907.3,285.9 L907.8,282.7 L908.3,279.7 L908.8,276.8 L909.3,274.1 L909.8,271.5 L910.3,269.0 L910.8,266.6 L911.3,264.4 L911.8,262.2 L912.3,260.1 L912.8,258.1 L913.3,256.2 L913.8,254.3 L914.3,252.5 L914.8,250.8 L915.3,249.2 L915.8,247.6 L916.3,246.0 L916.8,244.6 L917.3,243.1 L917.8,241.7 L918.3,240.4 L918.8,239.1 L919.3,237.8 L919.8,236.6 L920.3,235.4 L920.8,234.2 L921.3,233.1 L921.8,232.0 L922.3,231.0 L922.8,229.9 L923.3,228.9 L923.8,227.9 L924.3,226.9 L924.8,226.0 L925.3,225.1 L925.8,224.1 L926.3,223.3 L926.8,222.4 L927.3,221.5 L927.8,220.7 L928.3,219.9 L928.8,219.1 L929.3,218.3 L929.8,217.5 L930.3,216.7 L930.8,215.9 L931.3,215.2 L931.8,214.5 L932.3,213.7 L932.8,213.0 L933.3,212.3 L933.8,211.6 L934.3,210.9 L934.8,210.2 L935.3,209.5 L935.8,208.9 L936.3,208.2 L936.8,207.6 L937.3,206.9 L937.8,206.3 L938.3,205.6 L938.8,205.0 L939.3,204.4 L939.8,203.8 L940.3,203.2 L940.8,202.6 L941.3,202.0 L941.8,201.4 L942.3,200.8 L942.8,200.2 L943.3,199.6 L943.8,199.0 L944.3,198.5 L944.8,197.9 L945.3,197.3 L945.8,196.8 L946.3,196.2 L946.8,195.7 L947.3,195.1 L947.8,194.6 L948.3,194.0 L948.8,193.5 L949.3,192.9 L949.8,192.4 L950.3,191.9 L950.8,191.4 L951.3,190.8 L951.8,190.3 L952.3,189.8 L952.8,189.3 L953.3,188.8 L953.8,188.3 L954.3,187.8 L954.8,187.3 L955.3,186.8 L955.8,186.3 L956.3,185.8 L956.8,185.3 L957.3,184.8 L957.8,184.3 L958.3,183.8 L958.8,183.4 L959.3,182.9 L959.8,182.4 L960.3,181.9 L960.8,181.5 L961.3,181.0 L961.8,180.5 L962.3,180.1 L962.8,179.6 L963.3,179.2 L963.8,178.7 L964.3,178.3 L964.8,177.8 L965.3,177.4 L965.8,176.9 L966.3,176.5 L966.8,176.0 L967.3,175.6 L967.8,175.2 L968.3,174.7 L968.8,174.3 L969.3,173.9 L969.8,173.4 L970.3,173.0 L970.8,172.6 L971.3,172.2 L971.8,171.8 L972.3,171.3 L972.8,170.9 L973.3,170.5 L973.8,170.1 L974.3,169.7 L974.8,169.3 L975.3,168.9 L975.8,168.5 L976.3,168.1 L976.8,167.7 L977.3,167.3 L977.8,166.9 L978.3,166.5 L978.8,166.1 L979.3,165.7 L979.8,165.3 L980.3,165.0 L980.8,164.6 L981.3,164.2 L981.8,163.8 L982.3,163.4 L982.8,163.1 L983.3,162.7 L983.8,162.3 L984.3,161.9 L984.8,161.6 L985.3,161.2 L985.8,160.8 L986.3,160.5 L986.8,160.1 L987.3,159.8 L987.8,159.4 L988.3,159.1 L988.8,158.7 L989.3,158.3 L989.8,158.0 L990.3,157.6 L990.8,157.3 L991.3,157.0 L991.8,156.6 L992.3,156.3 L992.8,155.9 L993.3,155.6 L993.8,155.3 L994.3,154.9 L994.8,154.6 L995.3,154.3 L995.8,153.9 L996.3,153.6 L996.8,153.3 L997.3,152.9 L997.8,152.6 L998.3,152.3 L998.8,152.0 L999.3,151.7 L999.8,151.3 L1000.3,151.0 L1000.8,150.7 L1001.3,150.4 L1001.8,150.1 L1002.3,149.8 L1002.8,149.5 L1003.3,149.2 L1003.8,148.9 L1004.3,148.6 L1004.8,148.3 L1005.3,148.0 L1005.8,147.7 L1006.3,147.4 L1006.8,147.1 L1007.3,146.8 L1007.8,146.5 L1008.3,146.2 L1008.8,145.9 L1009.3,145.6 L1009.8,145.3 L1010.3,145.0 L1010.8,144.7 L1011.3,144.5 L1011.8,144.2 L1012.3,143.9 L1012.8,143.6 L1013.3,143.3 L1013.8,143.1 L1014.3,142.8 L1014.8,142.5 L1015.3,142.2 L1015.8,142.0 L1016.3,141.7 L1016.8,141.4 L1017.3,141.2 L1017.8,140.9 L1018.3,140.6 L1018.8,140.4 L1019.3,140.1 L1019.8,139.8 L1020.3,139.6 L1020.8,139.3 L1021.3,139.1 L1021.8,138.8 L1022.3,138.6 L1022.8,138.3 L1023.3,138.1 L1023.8,137.8 L1024.3,137.6 L1024.8,137.3 L1025.3,137.1 L1025.8,136.8 L1026.3,136.6 L1026.8,136.3 L1027.3,136.1 L1027.8,135.8 L1028.3,135.6 L1028.8,135.4 L1029.3,135.1 L1029.8,134.9 L1030.3,134.7 L1030.8,134.4 L1031.3,134.2 L1031.8,134.0 L1032.3,133.7 L1032.8,133.5 L1033.3,133.3 L1033.8,133.0 L1034.3,132.8 L1034.8,132.6 L1035.3,132.4 L1035.8,132.1 L1036.3,131.9 L1036.8,131.7 L1037.3,131.5 L1037.8,131.3 L1038.3,131.0 L1038.8,130.8 L1039.3,130.6 L1039.8,130.4 L1040.3,130.2 L1040.8,130.0 L1041.3,129.8 L1041.8,129.6 L1042.3,129.3 L1042.8,129.1 L1043.3,128.9 L1043.8,128.7 L1044.3,128.5 L1044.8,128.3 L1045.3,128.1 L1045.8,127.9 L1046.3,127.7 L1046.8,127.5 L1047.3,127.3 L1047.8,127.1 L1048.3,126.9 L1048.8,126.7 L1049.3,126.5 L1049.8,126.3 L1050.3,126.1 L1050.8,125.9 L1051.3,125.8 L1051.8,125.6 L1052.3,125.4 L1052.8,125.2 L1053.3,125.0 L1053.8,134.8 L1054.3,140.4 L1054.8,143.6 L1055.3,145.5 L1055.8,146.8 L1056.3,147.8 L1056.8,148.5 L1057.3,149.1 L1057.8,149.7 L1058.3,150.2 L1058.8,150.7 L1059.3,151.2 L1059.8,151.7 L1060.3,152.2 L1060.8,152.7 L1061.3,153.1 L1061.8,153.6 L1062.3,154.0 L1062.8,154.5 L1063.3,154.9 L1063.8,155.3 L1064.3,155.7 L1064.8,156.2 L1065.3,156.6 L1065.8,157.0 L1066.3,157.4 L1066.8,157.8 L1067.3,158.2 L1067.8,158.6 L1068.3,158.9 L1068.8,159.3 L1069.3,159.7 L1069.8,160.1 L1070.3,160.4 L1070.8,160.8 L1071.3,161.1 L1071.8,161.5 L1072.3,161.8 L1072.8,162.2 L1073.3,162.5 L1073.8,162.8 L1074.3,163.2 L1074.8,163.5 L1075.3,163.8 L1075.8,164.1 L1076.3,164.4 L1076.8,164.7 L1077.3,165.0 L1077.8,165.3 L1078.3,165.6 L1078.8,165.9 L1079.3,166.2 L1079.8,166.5 L1080.3,166.8 L1080.8,167.1 L1081.3,167.3 L1081.8,167.6 L1082.3,167.9 L1082.8,168.1 L1083.3,168.4 L1083.8,168.7 L1084.3,168.9 L1084.8,169.2 L1085.3,169.4 L1085.8,169.7 L1086.3,169.9 L1086.8,170.2 L1087.3,170.4 L1087.8,170.6 L1088.3,170.9 L1088.8,171.1 L1089.3,171.3 L1089.8,171.6 L1090.3,171.8 L1090.8,172.0 L1091.3,172.2 L1091.8,172.4 L1092.3,172.6 L1092.8,172.9 L1093.3,173.1 L1093.8,173.3 L1094.3,173.5 L1094.8,173.7 L1095.3,173.9 L1095.8,174.1 L1096.3,174.3 L1096.8,174.5 L1097.3,174.7 L1097.8,174.8 L1098.3,175.0 L1098.8,175.2 L1099.3,175.4 L1099.8,175.6 L1100.3,175.8 L1100.8,175.9 L1101.3,176.1 L1101.8,176.3 L1102.3,176.5 L1102.8,176.6 L1103.3,176.8 L1103.8,177.0 L1104.3,177.1 L1104.8,177.3 L1105.3,177.5 L1105.8,177.6 L1106.3,177.8 L1106.8,177.9 L1107.3,178.1 L1107.8,178.2 L1108.3,178.4 L1108.8,178.5 L1109.3,178.7 L1109.8,178.8 L1110.3,179.0 L1110.8,179.1 L1111.3,179.3 L1111.8,179.4 L1112.3,179.6 L1112.8,179.7 L1113.3,179.8 L1113.8,180.0 L1114.3,180.1 L1114.8,180.3 L1115.3,180.4 L1115.8,180.5 L1116.3,180.7 L1116.8,180.8 L1117.3,180.9 L1117.8,181.0 L1118.3,181.2 L1118.8,181.3 L1119.3,181.4 L1119.8,181.5 L1120.3,181.7 L1120.8,181.8 L1121.3,181.9 L1121.8,182.0 L1122.3,182.1 L1122.8,182.3 L1123.3,182.4 L1123.8,182.5 L1124.3,182.6 L1124.8,182.7 L1125.3,182.8 L1125.8,182.9 L1126.3,183.1 L1126.8,183.2 L1127.3,183.3 L1127.8,183.4 L1128.3,183.5 L1128.8,183.6 L1129.3,183.7 L1129.8,183.8 L1130.3,183.9 L1130.8,184.0 L1131.3,184.1 L1131.8,184.2 L1132.3,184.3 L1132.8,184.4 L1133.3,184.5 L1133.8,184.6 L1134.3,184.7 L1134.8,184.8 L1135.3,184.9 L1135.8,185.0 L1136.3,185.1 L1136.8,185.2 L1137.3,185.3 L1137.8,185.4 L1138.3,185.5 L1138.8,185.6 L1139.3,185.7 L1139.8,185.8 L1140.3,185.9 L1140.8,185.9 L1141.3,186.0 L1141.8,186.1 L1142.3,186.2 L1142.8,186.3 L1143.3,186.4 L1143.8,186.5 L1144.3,186.6 L1144.8,186.6 L1145.3,186.7 L1145.8,186.8 L1146.3,186.9 L1146.8,187.0 L1147.3,187.1 L1147.8,187.1 L1148.3,187.2 L1148.8,187.3 L1149.3,187.4 L1149.8,187.5 L1150.3,187.5 L1150.8,187.6 L1151.3,187.7 L1151.8,187.8 L1152.3,187.9 L1152.8,187.9 L1153.3,188.0 L1153.8,188.1 L1154.3,188.2 L1154.8,188.2 L1155.3,188.3 L1155.8,188.4 L1156.3,188.5 L1156.8,188.5 L1157.3,188.6 L1157.8,188.7 L1158.3,188.8 L1158.8,188.8 L1159.3,188.9 L1159.8,189.0 L1160.3,189.0 L1160.8,189.1 L1161.3,189.2 L1161.8,189.3 L1162.3,189.3 L1162.8,189.4 L1163.3,189.5 L1163.8,189.5 L1164.3,189.6 L1164.8,189.7 L1165.3,189.7 L1165.8,189.8 L1166.3,189.9 L1166.8,189.9 L1167.3,190.0 L1167.8,190.1 L1168.3,190.1 L1168.8,190.2 L1169.3,190.3 L1169.8,190.3 L1170.3,190.4 L1170.8,190.5 L1171.3,190.5 L1171.8,190.6 L1172.3,190.6 L1172.8,190.7 L1173.3,190.8 L1173.8,190.8 L1174.3,190.9 L1174.8,191.0 L1175.3,191.0 L1175.8,191.1 L1176.3,191.1 L1176.8,191.2 L1177.3,191.3 L1177.8,191.3 L1178.3,191.4 L1178.8,191.4 L1179.3,191.5 L1179.8,191.6 L1180.3,191.6 L1180.8,191.7 L1181.3,191.7 L1181.8,191.8 L1182.3,191.9 L1182.8,191.9 L1183.3,192.0 L1183.8,192.0 L1184.3,192.1 L1184.8,192.1 L1185.3,192.2 L1185.8,192.3 L1186.3,192.3 L1186.8,192.4 L1187.3,192.4 L1187.8,192.5 L1188.3,192.5 L1188.8,192.6 L1189.3,192.7 L1189.8,192.7 L1190.3,192.8 L1190.8,192.8 L1191.3,192.9 L1191.8,192.9 L1192.3,193.0 L1192.8,193.0 L1193.3,193.1 L1193.8,193.1 L1194.3,193.2 L1194.8,193.2 L1195.3,193.3 L1195.8,193.4 L1196.3,193.4 L1196.8,193.5 L1197.3,193.5 L1197.8,193.6 L1198.3,193.6 L1198.8,193.7 L1199.3,193.7 L1199.8,193.8 L1200.3,193.8 L1200.8,193.9 L1201.3,193.9 L1201.8,194.0 L1202.3,194.0 L1202.8,194.1 L1203.3,194.1 L1203.8,194.2 L1204.3,194.2 L1204.8,194.3 L1205.3,194.3 L1205.8,194.4 L1206.3,194.4 L1206.8,194.5 L1207.3,194.5 L1207.8,194.6 L1208.3,194.6 L1208.8,194.7 L1209.3,194.7 L1209.8,194.8 L1210.3,194.8 L1210.8,194.9 L1211.3,194.9 L1211.8,195.0 L1212.3,195.0 L1212.8,195.0 L1213.3,195.1 L1213.8,195.1 L1214.3,195.2 L1214.8,195.2 L1215.3,195.3 L1215.8,195.3 L1216.3,195.4 L1216.8,195.4 L1217.3,195.5 L1217.8,195.5 L1218.3,195.6 L1218.8,195.6 L1219.3,195.6 L1219.8,195.7 L1220.3,195.7 L1220.8,195.8 L1221.3,195.8 L1221.8,195.9 L1222.3,195.9 L1222.8,196.0 L1223.3,196.0 L1223.8,196.0 L1224.3,196.1 L1224.8,196.1 L1225.3,196.2 L1225.8,196.2 L1226.3,196.3 L1226.8,196.3 L1227.3,196.4 L1227.8,196.4 L1228.3,196.4 L1228.8,196.5 L1229.3,196.5 L1229.8,196.6 L1230.3,196.6 L1230.8,196.7 L1231.3,196.7 L1231.8,196.7 L1232.3,196.8 L1232.8,196.8 L1233.3,196.9 L1233.8,196.9 L1234.3,197.0 L1234.8,197.0 L1235.3,197.0 L1235.8,197.1 L1236.0,197.1" fill="none" stroke="#00dc00" stroke-width="3.2" stroke-linejoin="round"/>
<path d="M819,57 H1237 V405 H819 M826,55 V407" fill="none" stroke="#000" stroke-width="4"/>
<line x1="819" y1="335.4" x2="826" y2="335.4" stroke="#000" stroke-width="4"/>
<line x1="819" y1="265.8" x2="826" y2="265.8" stroke="#000" stroke-width="4"/>
<line x1="819" y1="196.2" x2="826" y2="196.2" stroke="#000" stroke-width="4"/>
<line x1="819" y1="126.6" x2="826" y2="126.6" stroke="#000" stroke-width="4"/>
<line x1="835.0" y1="405" x2="835.0" y2="412" stroke="#000" stroke-width="4"/>
<line x1="900.8" y1="405" x2="900.8" y2="412" stroke="#000" stroke-width="4"/>
<line x1="966.7" y1="405" x2="966.7" y2="412" stroke="#000" stroke-width="4"/>
<line x1="1032.5" y1="405" x2="1032.5" y2="412" stroke="#000" stroke-width="4"/>
<line x1="1098.3" y1="405" x2="1098.3" y2="412" stroke="#000" stroke-width="4"/>
<line x1="1164.2" y1="405" x2="1164.2" y2="412" stroke="#000" stroke-width="4"/>
<line x1="1230.0" y1="405" x2="1230.0" y2="412" stroke="#000" stroke-width="4"/>
<text transform="translate(775.80,344.88) scale(1.0000,1.0452)" text-anchor="start" font-size="23">200</text>
<text transform="translate(775.80,276.27) scale(1.0000,1.0452)" text-anchor="start" font-size="23">400</text>
<text transform="translate(775.80,205.18) scale(1.0000,1.0452)" text-anchor="start" font-size="23">600</text>
<text transform="translate(775.80,134.78) scale(1.0000,1.0452)" text-anchor="start" font-size="23">800</text>
<text transform="translate(764.30,66.38) scale(1.0000,1.0452)" text-anchor="start" font-size="23">1000</text>
<text transform="translate(829.25,434.75) scale(1.0000,1.0452)" text-anchor="start" font-size="23">0</text>
<text transform="translate(883.21,434.75) scale(1.0000,1.0452)" text-anchor="start" font-size="23">100</text>
<text transform="translate(949.41,434.75) scale(1.0000,1.0452)" text-anchor="start" font-size="23">200</text>
<text transform="translate(1015.37,434.75) scale(1.0000,1.0452)" text-anchor="start" font-size="23">300</text>
<text transform="translate(1081.44,434.75) scale(1.0000,1.0452)" text-anchor="start" font-size="23">400</text>
<text transform="translate(1146.90,434.75) scale(1.0000,1.0452)" text-anchor="start" font-size="23">500</text>
<text transform="translate(1212.86,434.75) scale(1.0000,1.0452)" text-anchor="start" font-size="23">600</text>
<text transform="translate(1070.65,82.75) scale(1.0015,0.9615)" text-anchor="start" font-size="23">Inhibitors-SP</text>
<text transform="translate(734.80,78.65) scale(1.0044,1.0044)" text-anchor="start" font-size="32">b</text>
<text transform="translate(758.17,306.73) rotate(-90) scale(1.0480,1.0265)" text-anchor="start" font-size="23">Response (RU)</text>
<text transform="translate(987.95,467.00) scale(0.9946,1.0700)" text-anchor="start" font-size="23">Time (S)</text>
<line x1="838.4" y1="75.9" x2="874.7" y2="75.9" stroke="#2a2a2a" stroke-width="2.1"/>
<text transform="translate(881.70,81.15) scale(1.0430,0.9700)" font-size="18.3">10<tspan dx="-1.6"> mg/L</tspan></text>
<line x1="838.4" y1="101.3" x2="874.7" y2="101.3" stroke="#ff1f1f" stroke-width="2.1"/>
<text transform="translate(882.45,107.25) scale(1.0302,0.9700)" font-size="18.3">30<tspan dx="-1.6"> mg/L</tspan></text>
<line x1="838.4" y1="125.6" x2="874.7" y2="125.6" stroke="#2525ff" stroke-width="2.1"/>
<text transform="translate(882.45,130.35) scale(1.0302,0.9700)" font-size="18.3">50<tspan dx="-1.6"> mg/L</tspan></text>
<line x1="838.4" y1="150.3" x2="874.7" y2="150.3" stroke="#10e010" stroke-width="2.1"/>
<text transform="translate(882.20,154.25) scale(1.0344,0.9700)" font-size="18.3">75<tspan dx="-1.6"> mg/L</tspan></text>
<circle cx="831.2" cy="148.3" r="1.1" fill="#10d010"/>
<path d="M267.3,863.6 L351.0,863.6 L351.0,816.5 L351.5,814.6 L352.0,812.9 L352.5,811.4 L353.0,810.2 L353.5,809.0 L354.0,808.0 L354.5,807.0 L355.0,806.2 L355.5,805.5 L356.0,804.8 L356.5,804.1 L357.0,803.5 L357.5,803.0 L358.0,802.4 L358.5,802.0 L359.0,801.5 L359.5,801.0 L360.0,800.6 L360.5,800.2 L361.0,799.8 L361.5,799.4 L362.0,799.1 L362.5,798.7 L363.0,798.3 L363.5,798.0 L364.0,797.7 L364.5,797.3 L365.0,797.0 L365.5,796.7 L366.0,796.4 L366.5,796.0 L367.0,795.7 L367.5,795.4 L368.0,795.1 L368.5,794.8 L369.0,794.5 L369.5,794.2 L370.0,793.9 L370.5,793.6 L371.0,793.3 L371.5,793.1 L372.0,792.8 L372.5,792.5 L373.0,792.2 L373.5,791.9 L374.0,791.7 L374.5,791.4 L375.0,791.1 L375.5,790.9 L376.0,790.6 L376.5,790.3 L377.0,790.1 L377.5,789.8 L378.0,789.6 L378.5,789.3 L379.0,789.1 L379.5,788.8 L380.0,788.6 L380.5,788.3 L381.0,788.1 L381.5,787.8 L382.0,787.6 L382.5,787.3 L383.0,787.1 L383.5,786.9 L384.0,786.6 L384.5,786.4 L385.0,786.2 L385.5,785.9 L386.0,785.7 L386.5,785.5 L387.0,785.3 L387.5,785.0 L388.0,784.8 L388.5,784.6 L389.0,784.4 L389.5,784.2 L390.0,783.9 L390.5,783.7 L391.0,783.5 L391.5,783.3 L392.0,783.1 L392.5,782.9 L393.0,782.7 L393.5,782.5 L394.0,782.3 L394.5,782.1 L395.0,781.9 L395.5,781.7 L396.0,781.5 L396.5,781.3 L397.0,781.1 L397.5,780.9 L398.0,780.7 L398.5,780.5 L399.0,780.3 L399.5,780.1 L400.0,779.9 L400.5,779.8 L401.0,779.6 L401.5,779.4 L402.0,779.2 L402.5,779.0 L403.0,778.8 L403.5,778.7 L404.0,778.5 L404.5,778.3 L405.0,778.1 L405.5,778.0 L406.0,777.8 L406.5,777.6 L407.0,777.5 L407.5,777.3 L408.0,777.1 L408.5,777.0 L409.0,776.8 L409.5,776.6 L410.0,776.5 L410.5,776.3 L411.0,776.2 L411.5,776.0 L412.0,775.8 L412.5,775.7 L413.0,775.5 L413.5,775.4 L414.0,775.2 L414.5,775.1 L415.0,774.9 L415.5,774.8 L416.0,774.6 L416.5,774.5 L417.0,774.3 L417.5,774.2 L418.0,774.0 L418.5,773.9 L419.0,773.7 L419.5,773.6 L420.0,773.5 L420.5,773.3 L421.0,773.2 L421.5,773.0 L422.0,772.9 L422.5,772.8 L423.0,772.6 L423.5,772.5 L424.0,772.4 L424.5,772.2 L425.0,772.1 L425.5,772.0 L426.0,771.8 L426.5,771.7 L427.0,771.6 L427.5,771.4 L428.0,771.3 L428.5,771.2 L429.0,771.1 L429.5,770.9 L430.0,770.8 L430.5,770.7 L431.0,770.6 L431.5,770.4 L432.0,770.3 L432.5,770.2 L433.0,770.1 L433.5,770.0 L434.0,769.9 L434.5,769.7 L435.0,769.6 L435.5,769.5 L436.0,769.4 L436.5,769.3 L437.0,769.2 L437.5,769.0 L438.0,768.9 L438.5,768.8 L439.0,768.7 L439.5,768.6 L440.0,768.5 L440.5,768.4 L441.0,768.3 L441.5,768.2 L442.0,768.1 L442.5,768.0 L443.0,767.9 L443.5,767.7 L444.0,767.6 L444.5,767.5 L445.0,767.4 L445.5,767.3 L446.0,767.2 L446.5,767.1 L447.0,767.0 L447.5,766.9 L448.0,766.8 L448.5,766.7 L449.0,766.6 L449.5,766.5 L450.0,766.4 L450.5,766.3 L451.0,766.3 L451.5,766.2 L452.0,766.1 L452.5,766.0 L453.0,765.9 L453.5,765.8 L454.0,765.7 L454.5,765.6 L455.0,765.5 L455.5,765.4 L456.0,765.3 L456.5,765.2 L457.0,765.1 L457.5,765.1 L458.0,765.0 L458.5,764.9 L459.0,764.8 L459.5,764.7 L460.0,764.6 L460.5,764.5 L461.0,764.5 L461.5,764.4 L462.0,764.3 L462.5,764.2 L463.0,764.1 L463.5,764.0 L464.0,764.0 L464.5,763.9 L465.0,763.8 L465.5,763.7 L466.0,763.6 L466.5,763.5 L467.0,763.5 L467.5,763.4 L468.0,763.3 L468.5,763.2 L469.0,763.2 L469.5,763.1 L470.0,763.0 L470.5,762.9 L471.0,762.8 L471.5,762.8 L472.0,762.7 L472.5,762.6 L473.0,762.5 L473.5,762.5 L474.0,762.4 L474.5,762.3 L475.0,762.2 L475.5,762.2 L476.0,762.1 L476.5,762.0 L477.0,762.0 L477.5,761.9 L478.0,761.8 L478.5,761.7 L479.0,761.7 L479.5,761.6 L480.0,761.5 L480.5,761.5 L481.0,761.4 L481.5,761.3 L482.0,761.3 L482.5,761.2 L483.0,761.1 L483.5,761.1 L484.0,761.0 L484.5,760.9 L485.0,760.9 L485.5,760.8 L486.0,760.7 L486.5,760.7 L487.0,760.6 L487.5,760.5 L488.0,760.5 L488.5,760.4 L489.0,760.3 L489.3,760.3 L489.8,761.7 L490.3,763.3 L490.8,764.9 L491.3,766.5 L491.8,768.1 L492.3,769.6 L492.8,771.0 L493.3,772.3 L493.8,773.6 L494.3,774.9 L494.8,776.0 L495.3,777.1 L495.8,778.2 L496.3,779.2 L496.8,780.1 L497.3,781.0 L497.8,781.9 L498.3,782.7 L498.8,783.5 L499.3,784.2 L499.8,784.9 L500.3,785.6 L500.8,786.2 L501.3,786.8 L501.8,787.4 L502.3,788.0 L502.8,788.5 L503.3,789.0 L503.8,789.5 L504.3,790.0 L504.8,790.5 L505.3,790.9 L505.8,791.3 L506.3,791.7 L506.8,792.1 L507.3,792.5 L507.8,792.8 L508.3,793.2 L508.8,793.5 L509.3,793.8 L509.8,794.2 L510.3,794.5 L510.8,794.8 L511.3,795.0 L511.8,795.3 L512.3,795.6 L512.8,795.8 L513.3,796.1 L513.8,796.3 L514.3,796.6 L514.8,796.8 L515.3,797.0 L515.8,797.2 L516.3,797.4 L516.8,797.7 L517.3,797.9 L517.8,798.1 L518.3,798.2 L518.8,798.4 L519.3,798.6 L519.8,798.8 L520.3,799.0 L520.8,799.2 L521.3,799.3 L521.8,799.5 L522.3,799.7 L522.8,799.8 L523.3,800.0 L523.8,800.1 L524.3,800.3 L524.8,800.5 L525.3,800.6 L525.8,800.8 L526.3,800.9 L526.8,801.0 L527.3,801.2 L527.8,801.3 L528.3,801.5 L528.8,801.6 L529.3,801.7 L529.8,801.9 L530.3,802.0 L530.8,802.1 L531.3,802.2 L531.8,802.4 L532.3,802.5 L532.8,802.6 L533.3,802.7 L533.8,802.9 L534.3,803.0 L534.8,803.1 L535.3,803.2 L535.8,803.3 L536.3,803.5 L536.8,803.6 L537.3,803.7 L537.8,803.8 L538.3,803.9 L538.8,804.0 L539.3,804.1 L539.8,804.2 L540.3,804.3 L540.8,804.5 L541.3,804.6 L541.8,804.7 L542.3,804.8 L542.8,804.9 L543.3,805.0 L543.8,805.1 L544.3,805.2 L544.8,805.3 L545.3,805.4 L545.8,805.5 L546.3,805.6 L546.8,805.7 L547.3,805.8 L547.8,805.9 L548.3,806.0 L548.8,806.0 L549.3,806.1 L549.8,806.2 L550.3,806.3 L550.8,806.4 L551.3,806.5 L551.8,806.6 L552.3,806.7 L552.8,806.8 L553.3,806.9 L553.8,807.0 L554.3,807.0 L554.8,807.1 L555.3,807.2 L555.8,807.3 L556.3,807.4 L556.8,807.5 L557.3,807.5 L557.8,807.6 L558.3,807.7 L558.8,807.8 L559.3,807.9 L559.8,808.0 L560.3,808.0 L560.8,808.1 L561.3,808.2 L561.8,808.3 L562.3,808.4 L562.8,808.4 L563.3,808.5 L563.8,808.6 L564.3,808.7 L564.8,808.7 L565.3,808.8 L565.8,808.9 L566.3,809.0 L566.8,809.0 L567.3,809.1 L567.8,809.2 L568.3,809.3 L568.8,809.3 L569.3,809.4 L569.8,809.5 L570.3,809.5 L570.8,809.6 L571.3,809.7 L571.8,809.7 L572.3,809.8 L572.8,809.9 L573.3,809.9 L573.8,810.0 L574.3,810.1 L574.8,810.1 L575.3,810.2 L575.8,810.3 L576.3,810.3 L576.8,810.4 L577.3,810.5 L577.8,810.5 L578.3,810.6 L578.8,810.7 L579.3,810.7 L579.8,810.8 L580.3,810.8 L580.8,810.9 L581.3,811.0 L581.8,811.0 L582.3,811.1 L582.8,811.1 L583.3,811.2 L583.8,811.3 L584.3,811.3 L584.8,811.4 L585.3,811.4 L585.8,811.5 L586.3,811.6 L586.8,811.6 L587.3,811.7 L587.8,811.7 L588.3,811.8 L588.8,811.8 L589.3,811.9 L589.8,811.9 L590.3,812.0 L590.8,812.1 L591.3,812.1 L591.8,812.2 L592.3,812.2 L592.8,812.3 L593.3,812.3 L593.8,812.4 L594.3,812.4 L594.8,812.5 L595.3,812.5 L595.8,812.6 L596.3,812.6 L596.8,812.7 L597.3,812.7 L597.8,812.8 L598.3,812.8 L598.8,812.9 L599.3,812.9 L599.8,813.0 L600.3,813.0 L600.8,813.1 L601.3,813.1 L601.8,813.1 L602.3,813.2 L602.8,813.2 L603.3,813.3 L603.8,813.3 L604.3,813.4 L604.8,813.4 L605.3,813.5 L605.8,813.5 L606.3,813.6 L606.8,813.6 L607.3,813.6 L607.8,813.7 L608.3,813.7 L608.8,813.8 L609.3,813.8 L609.8,813.9 L610.3,813.9 L610.8,813.9 L611.3,814.0 L611.8,814.0 L612.3,814.1 L612.8,814.1 L613.3,814.1 L613.8,814.2 L614.3,814.2 L614.8,814.3 L615.3,814.3 L615.8,814.3 L616.3,814.4 L616.8,814.4 L617.3,814.5 L617.8,814.5 L618.3,814.5 L618.8,814.6 L619.3,814.6 L619.8,814.6 L620.3,814.7 L620.8,814.7 L621.3,814.7 L621.8,814.8 L622.3,814.8 L622.8,814.9 L623.3,814.9 L623.8,814.9 L624.3,815.0 L624.8,815.0 L625.3,815.0 L625.8,815.1 L626.3,815.1 L626.8,815.1 L627.3,815.2 L627.8,815.2 L628.3,815.2 L628.8,815.3 L629.3,815.3 L629.8,815.3 L630.3,815.4 L630.8,815.4 L631.3,815.4 L631.8,815.5 L632.3,815.5 L632.8,815.5 L633.3,815.5 L633.8,815.6 L634.3,815.6 L634.8,815.6 L635.3,815.7 L635.8,815.7 L636.3,815.7 L636.8,815.8 L637.3,815.8 L637.8,815.8 L638.3,815.8 L638.8,815.9 L639.3,815.9 L639.8,815.9 L640.3,816.0 L640.8,816.0 L641.3,816.0 L641.8,816.0 L642.3,816.1 L642.8,816.1 L643.3,816.1 L643.8,816.2 L644.3,816.2 L644.8,816.2 L645.3,816.2 L645.8,816.3 L646.3,816.3 L646.8,816.3 L647.3,816.3 L647.8,816.4 L648.3,816.4 L648.8,816.4 L649.3,816.4 L649.8,816.5 L650.3,816.5 L650.8,816.5 L651.3,816.5 L651.8,816.6 L652.3,816.6 L652.8,816.6 L653.3,816.6 L653.8,816.7 L654.3,816.7 L654.8,816.7 L655.3,816.7 L655.8,816.7 L656.3,816.8 L656.8,816.8 L657.3,816.8 L657.8,816.8 L658.3,816.9 L658.8,816.9 L659.3,816.9 L659.8,816.9 L660.3,816.9 L660.8,817.0 L661.3,817.0 L661.8,817.0 L662.3,817.0 L662.8,817.1 L663.3,817.1 L663.8,817.1 L664.3,817.1 L664.8,817.1 L665.3,817.2 L665.8,817.2 L666.3,817.2 L666.8,817.2 L667.3,817.2 L667.8,817.3 L668.3,817.3 L668.8,817.3 L669.3,817.3 L669.8,817.3 L670.3,817.4 L670.8,817.4 L671.3,817.4 L671.8,817.4 L672.3,817.4 L672.8,817.4 L673.3,817.5 L673.8,817.5 L674.3,817.5 L674.8,817.5 L675.3,817.5 L675.8,817.6 L676.3,817.6 L676.8,817.6 L677.3,817.6 L677.8,817.6 L678.3,817.6 L678.8,817.7 L679.3,817.7 L679.8,817.7 L680.3,817.7 L680.8,817.7 L681.3,817.7 L681.8,817.8 L682.0,817.8" fill="none" stroke="#000000" stroke-width="3.2" stroke-linejoin="round"/>
<path d="M267.3,863.6 L349.6,863.6 M350.3,804.2 L350.3,786.8 L350.8,784.8 L351.3,783.0 L351.8,781.4 L352.3,779.9 L352.8,778.6 L353.3,777.4 L353.8,776.3 L354.3,775.3 L354.8,774.4 L355.3,773.5 L355.8,772.7 L356.3,771.9 L356.8,771.1 L357.3,770.4 L357.8,769.7 L358.3,769.0 L358.8,768.4 L359.3,767.8 L359.8,767.1 L360.3,766.6 L360.8,766.0 L361.3,765.4 L361.8,764.9 L362.3,764.3 L362.8,763.8 L363.3,763.3 L363.8,762.7 L364.3,762.2 L364.8,761.7 L365.3,761.2 L365.8,760.8 L366.3,760.3 L366.8,759.8 L367.3,759.3 L367.8,758.9 L368.3,758.4 L368.8,758.0 L369.3,757.5 L369.8,757.1 L370.3,756.7 L370.8,756.2 L371.3,755.8 L371.8,755.4 L372.3,755.0 L372.8,754.5 L373.3,754.1 L373.8,753.7 L374.3,753.3 L374.8,752.9 L375.3,752.5 L375.8,752.2 L376.3,751.8 L376.8,751.4 L377.3,751.0 L377.8,750.6 L378.3,750.3 L378.8,749.9 L379.3,749.5 L379.8,749.2 L380.3,748.8 L380.8,748.5 L381.3,748.1 L381.8,747.8 L382.3,747.4 L382.8,747.1 L383.3,746.7 L383.8,746.4 L384.3,746.1 L384.8,745.7 L385.3,745.4 L385.8,745.1 L386.3,744.7 L386.8,744.4 L387.3,744.1 L387.8,743.8 L388.3,743.5 L388.8,743.2 L389.3,742.8 L389.8,742.5 L390.3,742.2 L390.8,741.9 L391.3,741.6 L391.8,741.3 L392.3,741.0 L392.8,740.7 L393.3,740.4 L393.8,740.1 L394.3,739.9 L394.8,739.6 L395.3,739.3 L395.8,739.0 L396.3,738.7 L396.8,738.4 L397.3,738.2 L397.8,737.9 L398.3,737.6 L398.8,737.3 L399.3,737.1 L399.8,736.8 L400.3,736.5 L400.8,736.3 L401.3,736.0 L401.8,735.7 L402.3,735.5 L402.8,735.2 L403.3,734.9 L403.8,734.7 L404.3,734.4 L404.8,734.2 L405.3,733.9 L405.8,733.7 L406.3,733.4 L406.8,733.2 L407.3,732.9 L407.8,732.7 L408.3,732.4 L408.8,732.2 L409.3,731.9 L409.8,731.7 L410.3,731.5 L410.8,731.2 L411.3,731.0 L411.8,730.7 L412.3,730.5 L412.8,730.3 L413.3,730.0 L413.8,729.8 L414.3,729.6 L414.8,729.3 L415.3,729.1 L415.8,728.9 L416.3,728.7 L416.8,728.4 L417.3,728.2 L417.8,728.0 L418.3,727.8 L418.8,727.5 L419.3,727.3 L419.8,727.1 L420.3,726.9 L420.8,726.7 L421.3,726.4 L421.8,726.2 L422.3,726.0 L422.8,725.8 L423.3,725.6 L423.8,725.4 L424.3,725.2 L424.8,725.0 L425.3,724.7 L425.8,724.5 L426.3,724.3 L426.8,724.1 L427.3,723.9 L427.8,723.7 L428.3,723.5 L428.8,723.3 L429.3,723.1 L429.8,722.9 L430.3,722.7 L430.8,722.5 L431.3,722.3 L431.8,722.1 L432.3,721.9 L432.8,721.7 L433.3,721.5 L433.8,721.3 L434.3,721.1 L434.8,720.9 L435.3,720.7 L435.8,720.5 L436.3,720.4 L436.8,720.2 L437.3,720.0 L437.8,719.8 L438.3,719.6 L438.8,719.4 L439.3,719.2 L439.8,719.0 L440.3,718.8 L440.8,718.7 L441.3,718.5 L441.8,718.3 L442.3,718.1 L442.8,717.9 L443.3,717.8 L443.8,717.6 L444.3,717.4 L444.8,717.2 L445.3,717.0 L445.8,716.9 L446.3,716.7 L446.8,716.5 L447.3,716.3 L447.8,716.1 L448.3,716.0 L448.8,715.8 L449.3,715.6 L449.8,715.5 L450.3,715.3 L450.8,715.1 L451.3,714.9 L451.8,714.8 L452.3,714.6 L452.8,714.4 L453.3,714.3 L453.8,714.1 L454.3,713.9 L454.8,713.8 L455.3,713.6 L455.8,713.4 L456.3,713.3 L456.8,713.1 L457.3,712.9 L457.8,712.8 L458.3,712.6 L458.8,712.4 L459.3,712.3 L459.8,712.1 L460.3,712.0 L460.8,711.8 L461.3,711.6 L461.8,711.5 L462.3,711.3 L462.8,711.2 L463.3,711.0 L463.8,710.9 L464.3,710.7 L464.8,710.6 L465.3,710.4 L465.8,710.2 L466.3,710.1 L466.8,709.9 L467.3,709.8 L467.8,709.6 L468.3,709.5 L468.8,709.3 L469.3,709.2 L469.8,709.0 L470.3,708.9 L470.8,708.7 L471.3,708.6 L471.8,708.4 L472.3,708.3 L472.8,708.1 L473.3,708.0 L473.8,707.8 L474.3,707.7 L474.8,707.6 L475.3,707.4 L475.8,707.3 L476.3,707.1 L476.8,707.0 L477.3,706.8 L477.8,706.7 L478.3,706.6 L478.8,706.4 L479.3,706.3 L479.8,706.1 L480.3,706.0 L480.8,705.9 L481.3,705.7 L481.8,705.6 L482.3,705.4 L482.8,705.3 L483.3,705.2 L483.8,705.0 L484.3,704.9 L484.8,704.8 L485.3,704.6 L485.8,704.5 L486.3,704.4 L486.8,704.2 L487.3,704.1 L487.8,704.0 L488.3,703.8 L488.4,703.8 L488.9,704.3 L489.4,706.3 L489.9,709.0 L490.4,711.9 L490.9,714.8 L491.4,717.6 L491.9,720.2 L492.4,722.6 L492.9,724.8 L493.4,726.9 L493.9,728.8 L494.4,730.5 L494.9,732.0 L495.4,733.4 L495.9,734.7 L496.4,735.9 L496.9,737.0 L497.4,738.0 L497.9,739.0 L498.4,739.8 L498.9,740.6 L499.4,741.4 L499.9,742.0 L500.4,742.7 L500.9,743.3 L501.4,743.8 L501.9,744.4 L502.4,744.8 L502.9,745.3 L503.4,745.7 L503.9,746.2 L504.4,746.6 L504.9,746.9 L505.4,747.3 L505.9,747.6 L506.4,748.0 L506.9,748.3 L507.4,748.6 L507.9,748.9 L508.4,749.2 L508.9,749.5 L509.4,749.7 L509.9,750.0 L510.4,750.2 L510.9,750.5 L511.4,750.7 L511.9,751.0 L512.4,751.2 L512.9,751.4 L513.4,751.7 L513.9,751.9 L514.4,752.1 L514.9,752.3 L515.4,752.5 L515.9,752.7 L516.4,752.9 L516.9,753.1 L517.4,753.3 L517.9,753.5 L518.4,753.7 L518.9,753.9 L519.4,754.1 L519.9,754.3 L520.4,754.5 L520.9,754.7 L521.4,754.8 L521.9,755.0 L522.4,755.2 L522.9,755.4 L523.4,755.6 L523.9,755.7 L524.4,755.9 L524.9,756.1 L525.4,756.2 L525.9,756.4 L526.4,756.6 L526.9,756.7 L527.4,756.9 L527.9,757.1 L528.4,757.2 L528.9,757.4 L529.4,757.5 L529.9,757.7 L530.4,757.8 L530.9,758.0 L531.4,758.2 L531.9,758.3 L532.4,758.5 L532.9,758.6 L533.4,758.7 L533.9,758.9 L534.4,759.0 L534.9,759.2 L535.4,759.3 L535.9,759.5 L536.4,759.6 L536.9,759.8 L537.4,759.9 L537.9,760.0 L538.4,760.2 L538.9,760.3 L539.4,760.4 L539.9,760.6 L540.4,760.7 L540.9,760.8 L541.4,761.0 L541.9,761.1 L542.4,761.2 L542.9,761.3 L543.4,761.5 L543.9,761.6 L544.4,761.7 L544.9,761.8 L545.4,762.0 L545.9,762.1 L546.4,762.2 L546.9,762.3 L547.4,762.4 L547.9,762.6 L548.4,762.7 L548.9,762.8 L549.4,762.9 L549.9,763.0 L550.4,763.1 L550.9,763.2 L551.4,763.4 L551.9,763.5 L552.4,763.6 L552.9,763.7 L553.4,763.8 L553.9,763.9 L554.4,764.0 L554.9,764.1 L555.4,764.2 L555.9,764.3 L556.4,764.4 L556.9,764.5 L557.4,764.6 L557.9,764.7 L558.4,764.8 L558.9,764.9 L559.4,765.0 L559.9,765.1 L560.4,765.2 L560.9,765.3 L561.4,765.4 L561.9,765.5 L562.4,765.6 L562.9,765.7 L563.4,765.8 L563.9,765.9 L564.4,766.0 L564.9,766.1 L565.4,766.2 L565.9,766.2 L566.4,766.3 L566.9,766.4 L567.4,766.5 L567.9,766.6 L568.4,766.7 L568.9,766.8 L569.4,766.8 L569.9,766.9 L570.4,767.0 L570.9,767.1 L571.4,767.2 L571.9,767.3 L572.4,767.3 L572.9,767.4 L573.4,767.5 L573.9,767.6 L574.4,767.6 L574.9,767.7 L575.4,767.8 L575.9,767.9 L576.4,768.0 L576.9,768.0 L577.4,768.1 L577.9,768.2 L578.4,768.3 L578.9,768.3 L579.4,768.4 L579.9,768.5 L580.4,768.5 L580.9,768.6 L581.4,768.7 L581.9,768.7 L582.4,768.8 L582.9,768.9 L583.4,769.0 L583.9,769.0 L584.4,769.1 L584.9,769.2 L585.4,769.2 L585.9,769.3 L586.4,769.3 L586.9,769.4 L587.4,769.5 L587.9,769.5 L588.4,769.6 L588.9,769.7 L589.4,769.7 L589.9,769.8 L590.4,769.8 L590.9,769.9 L591.4,770.0 L591.9,770.0 L592.4,770.1 L592.9,770.1 L593.4,770.2 L593.9,770.3 L594.4,770.3 L594.9,770.4 L595.4,770.4 L595.9,770.5 L596.4,770.5 L596.9,770.6 L597.4,770.6 L597.9,770.7 L598.4,770.8 L598.9,770.8 L599.4,770.9 L599.9,770.9 L600.4,771.0 L600.9,771.0 L601.4,771.1 L601.9,771.1 L602.4,771.2 L602.9,771.2 L603.4,771.3 L603.9,771.3 L604.4,771.4 L604.9,771.4 L605.4,771.5 L605.9,771.5 L606.4,771.6 L606.9,771.6 L607.4,771.6 L607.9,771.7 L608.4,771.7 L608.9,771.8 L609.4,771.8 L609.9,771.9 L610.4,771.9 L610.9,772.0 L611.4,772.0 L611.9,772.1 L612.4,772.1 L612.9,772.1 L613.4,772.2 L613.9,772.2 L614.4,772.3 L614.9,772.3 L615.4,772.3 L615.9,772.4 L616.4,772.4 L616.9,772.5 L617.4,772.5 L617.9,772.5 L618.4,772.6 L618.9,772.6 L619.4,772.7 L619.9,772.7 L620.4,772.7 L620.9,772.8 L621.4,772.8 L621.9,772.9 L622.4,772.9 L622.9,772.9 L623.4,773.0 L623.9,773.0 L624.4,773.0 L624.9,773.1 L625.4,773.1 L625.9,773.1 L626.4,773.2 L626.9,773.2 L627.4,773.2 L627.9,773.3 L628.4,773.3 L628.9,773.3 L629.4,773.4 L629.9,773.4 L630.4,773.4 L630.9,773.5 L631.4,773.5 L631.9,773.5 L632.4,773.6 L632.9,773.6 L633.4,773.6 L633.9,773.7 L634.4,773.7 L634.9,773.7 L635.4,773.8 L635.9,773.8 L636.4,773.8 L636.9,773.8 L637.4,773.9 L637.9,773.9 L638.4,773.9 L638.9,774.0 L639.4,774.0 L639.9,774.0 L640.4,774.0 L640.9,774.1 L641.4,774.1 L641.9,774.1 L642.4,774.2 L642.9,774.2 L643.4,774.2 L643.9,774.2 L644.4,774.3 L644.9,774.3 L645.4,774.3 L645.9,774.3 L646.4,774.4 L646.9,774.4 L647.4,774.4 L647.9,774.4 L648.4,774.5 L648.9,774.5 L649.4,774.5 L649.9,774.5 L650.4,774.6 L650.9,774.6 L651.4,774.6 L651.9,774.6 L652.4,774.6 L652.9,774.7 L653.4,774.7 L653.9,774.7 L654.4,774.7 L654.9,774.8 L655.4,774.8 L655.9,774.8 L656.4,774.8 L656.9,774.8 L657.4,774.9 L657.9,774.9 L658.4,774.9 L658.9,774.9 L659.4,775.0 L659.9,775.0 L660.4,775.0 L660.9,775.0 L661.4,775.0 L661.9,775.1 L662.4,775.1 L662.9,775.1 L663.4,775.1 L663.9,775.1 L664.4,775.2 L664.9,775.2 L665.4,775.2 L665.9,775.2 L666.4,775.2 L666.9,775.2 L667.4,775.3 L667.9,775.3 L668.4,775.3 L668.9,775.3 L669.4,775.3 L669.9,775.4 L670.4,775.4 L670.9,775.4 L671.4,775.4 L671.9,775.4 L672.4,775.4 L672.9,775.5 L673.4,775.5 L673.9,775.5 L674.4,775.5 L674.9,775.5 L675.4,775.5 L675.9,775.6 L676.4,775.6 L676.9,775.6 L677.4,775.6 L677.9,775.6 L678.4,775.6 L678.9,775.6 L679.4,775.7 L679.9,775.7 L680.4,775.7 L680.9,775.7 L681.4,775.7 L681.9,775.7 L682.0,775.7" fill="none" stroke="#c40000" stroke-width="3.2" stroke-linejoin="round"/>
<path d="M267.3,863.6 L348.8,863.6 M350.2,772.4 L350.2,752.7 L350.7,749.0 L351.2,745.6 L351.7,742.5 L352.2,739.7 L352.7,737.2 L353.2,734.9 L353.7,732.7 L354.2,730.8 L354.7,729.1 L355.2,727.4 L355.7,726.0 L356.2,724.6 L356.7,723.3 L357.2,722.2 L357.7,721.1 L358.2,720.1 L358.7,719.1 L359.2,718.3 L359.7,717.5 L360.2,716.7 L360.7,716.0 L361.2,715.3 L361.7,714.6 L362.2,714.0 L362.7,713.5 L363.2,712.9 L363.7,712.4 L364.2,711.9 L364.7,711.4 L365.2,710.9 L365.7,710.4 L366.2,710.0 L366.7,709.6 L367.2,709.2 L367.7,708.8 L368.2,708.4 L368.7,708.0 L369.2,707.6 L369.7,707.3 L370.2,706.9 L370.7,706.6 L371.2,706.2 L371.7,705.9 L372.2,705.5 L372.7,705.2 L373.2,704.9 L373.7,704.6 L374.2,704.3 L374.7,703.9 L375.2,703.6 L375.7,703.3 L376.2,703.0 L376.7,702.7 L377.2,702.5 L377.7,702.2 L378.2,701.9 L378.7,701.6 L379.2,701.3 L379.7,701.0 L380.2,700.8 L380.7,700.5 L381.2,700.2 L381.7,700.0 L382.2,699.7 L382.7,699.4 L383.2,699.2 L383.7,698.9 L384.2,698.7 L384.7,698.4 L385.2,698.2 L385.7,697.9 L386.2,697.7 L386.7,697.4 L387.2,697.2 L387.7,696.9 L388.2,696.7 L388.7,696.4 L389.2,696.2 L389.7,696.0 L390.2,695.7 L390.7,695.5 L391.2,695.3 L391.7,695.1 L392.2,694.8 L392.7,694.6 L393.2,694.4 L393.7,694.2 L394.2,694.0 L394.7,693.7 L395.2,693.5 L395.7,693.3 L396.2,693.1 L396.7,692.9 L397.2,692.7 L397.7,692.5 L398.2,692.3 L398.7,692.1 L399.2,691.9 L399.7,691.7 L400.2,691.5 L400.7,691.3 L401.2,691.1 L401.7,690.9 L402.2,690.7 L402.7,690.5 L403.2,690.3 L403.7,690.1 L404.2,690.0 L404.7,689.8 L405.2,689.6 L405.7,689.4 L406.2,689.2 L406.7,689.1 L407.2,688.9 L407.7,688.7 L408.2,688.5 L408.7,688.4 L409.2,688.2 L409.7,688.0 L410.2,687.9 L410.7,687.7 L411.2,687.5 L411.7,687.4 L412.2,687.2 L412.7,687.0 L413.2,686.9 L413.7,686.7 L414.2,686.6 L414.7,686.4 L415.2,686.3 L415.7,686.1 L416.2,686.0 L416.7,685.8 L417.2,685.7 L417.7,685.5 L418.2,685.4 L418.7,685.2 L419.2,685.1 L419.7,684.9 L420.2,684.8 L420.7,684.7 L421.2,684.5 L421.7,684.4 L422.2,684.3 L422.7,684.1 L423.2,684.0 L423.7,683.9 L424.2,683.7 L424.7,683.6 L425.2,683.5 L425.7,683.3 L426.2,683.2 L426.7,683.1 L427.2,683.0 L427.7,682.8 L428.2,682.7 L428.7,682.6 L429.2,682.5 L429.7,682.4 L430.2,682.2 L430.7,682.1 L431.2,682.0 L431.7,681.9 L432.2,681.8 L432.7,681.7 L433.2,681.6 L433.7,681.5 L434.2,681.4 L434.7,681.3 L435.2,681.1 L435.7,681.0 L436.2,680.9 L436.7,680.8 L437.2,680.7 L437.7,680.6 L438.2,680.5 L438.7,680.4 L439.2,680.3 L439.7,680.2 L440.2,680.1 L440.7,680.1 L441.2,680.0 L441.7,679.9 L442.2,679.8 L442.7,679.7 L443.2,679.6 L443.7,679.5 L444.2,679.4 L444.7,679.3 L445.2,679.2 L445.7,679.2 L446.2,679.1 L446.7,679.0 L447.2,678.9 L447.7,678.8 L448.2,678.8 L448.7,678.7 L449.2,678.6 L449.7,678.5 L450.2,678.4 L450.7,678.4 L451.2,678.3 L451.7,678.2 L452.2,678.1 L452.7,678.1 L453.2,678.0 L453.7,677.9 L454.2,677.9 L454.7,677.8 L455.2,677.7 L455.7,677.7 L456.2,677.6 L456.7,677.5 L457.2,677.5 L457.7,677.4 L458.2,677.3 L458.7,677.3 L459.2,677.2 L459.7,677.1 L460.2,677.1 L460.7,677.0 L461.2,677.0 L461.7,676.9 L462.2,676.9 L462.7,676.8 L463.2,676.7 L463.7,676.7 L464.2,676.6 L464.7,676.6 L465.2,676.5 L465.7,676.5 L466.2,676.4 L466.7,676.4 L467.2,676.3 L467.7,676.3 L468.2,676.2 L468.7,676.2 L469.2,676.1 L469.7,676.1 L470.2,676.0 L470.7,676.0 L471.2,676.0 L471.7,675.9 L472.2,675.9 L472.7,675.8 L473.2,675.8 L473.7,675.8 L474.2,675.7 L474.7,675.7 L475.2,675.6 L475.7,675.6 L476.2,675.6 L476.7,675.5 L477.2,675.5 L477.7,675.5 L478.2,675.4 L478.7,675.4 L479.2,675.3 L479.7,675.3 L480.2,675.3 L480.7,675.3 L481.2,675.2 L481.7,675.2 L482.2,675.2 L482.7,675.1 L483.2,675.1 L483.7,675.1 L484.2,675.0 L484.7,675.0 L485.2,675.0 L485.7,675.0 L486.2,674.9 L486.7,674.9 L487.2,674.9 L487.7,674.9 L488.2,674.9 L488.7,674.8 L489.2,674.8 L489.4,674.8 L489.9,680.1 L490.4,683.7 L490.9,686.4 L491.4,688.6 L491.9,690.5 L492.4,692.2 L492.9,693.7 L493.4,695.2 L493.9,696.6 L494.4,697.9 L494.9,699.2 L495.4,700.4 L495.9,701.6 L496.4,702.7 L496.9,703.8 L497.4,704.9 L497.9,705.9 L498.4,706.9 L498.9,707.8 L499.4,708.7 L499.9,709.6 L500.4,710.4 L500.9,711.2 L501.4,712.0 L501.9,712.8 L502.4,713.5 L502.9,714.2 L503.4,714.9 L503.9,715.6 L504.4,716.2 L504.9,716.8 L505.4,717.4 L505.9,718.0 L506.4,718.5 L506.9,719.1 L507.4,719.6 L507.9,720.1 L508.4,720.6 L508.9,721.1 L509.4,721.6 L509.9,722.0 L510.4,722.5 L510.9,722.9 L511.4,723.3 L511.9,723.7 L512.4,724.1 L512.9,724.5 L513.4,724.8 L513.9,725.2 L514.4,725.6 L514.9,725.9 L515.4,726.2 L515.9,726.6 L516.4,726.9 L516.9,727.2 L517.4,727.5 L517.9,727.8 L518.4,728.1 L518.9,728.4 L519.4,728.6 L519.9,728.9 L520.4,729.2 L520.9,729.4 L521.4,729.7 L521.9,729.9 L522.4,730.2 L522.9,730.4 L523.4,730.7 L523.9,730.9 L524.4,731.1 L524.9,731.3 L525.4,731.6 L525.9,731.8 L526.4,732.0 L526.9,732.2 L527.4,732.4 L527.9,732.6 L528.4,732.8 L528.9,733.0 L529.4,733.2 L529.9,733.4 L530.4,733.6 L530.9,733.8 L531.4,733.9 L531.9,734.1 L532.4,734.3 L532.9,734.5 L533.4,734.7 L533.9,734.8 L534.4,735.0 L534.9,735.2 L535.4,735.3 L535.9,735.5 L536.4,735.7 L536.9,735.8 L537.4,736.0 L537.9,736.1 L538.4,736.3 L538.9,736.4 L539.4,736.6 L539.9,736.7 L540.4,736.9 L540.9,737.0 L541.4,737.2 L541.9,737.3 L542.4,737.5 L542.9,737.6 L543.4,737.7 L543.9,737.9 L544.4,738.0 L544.9,738.2 L545.4,738.3 L545.9,738.4 L546.4,738.6 L546.9,738.7 L547.4,738.8 L547.9,739.0 L548.4,739.1 L548.9,739.2 L549.4,739.3 L549.9,739.5 L550.4,739.6 L550.9,739.7 L551.4,739.8 L551.9,740.0 L552.4,740.1 L552.9,740.2 L553.4,740.3 L553.9,740.4 L554.4,740.6 L554.9,740.7 L555.4,740.8 L555.9,740.9 L556.4,741.0 L556.9,741.1 L557.4,741.3 L557.9,741.4 L558.4,741.5 L558.9,741.6 L559.4,741.7 L559.9,741.8 L560.4,741.9 L560.9,742.0 L561.4,742.1 L561.9,742.3 L562.4,742.4 L562.9,742.5 L563.4,742.6 L563.9,742.7 L564.4,742.8 L564.9,742.9 L565.4,743.0 L565.9,743.1 L566.4,743.2 L566.9,743.3 L567.4,743.4 L567.9,743.5 L568.4,743.6 L568.9,743.7 L569.4,743.8 L569.9,743.9 L570.4,744.0 L570.9,744.1 L571.4,744.2 L571.9,744.3 L572.4,744.4 L572.9,744.5 L573.4,744.6 L573.9,744.7 L574.4,744.8 L574.9,744.9 L575.4,745.0 L575.9,745.0 L576.4,745.1 L576.9,745.2 L577.4,745.3 L577.9,745.4 L578.4,745.5 L578.9,745.6 L579.4,745.7 L579.9,745.8 L580.4,745.9 L580.9,745.9 L581.4,746.0 L581.9,746.1 L582.4,746.2 L582.9,746.3 L583.4,746.4 L583.9,746.5 L584.4,746.5 L584.9,746.6 L585.4,746.7 L585.9,746.8 L586.4,746.9 L586.9,747.0 L587.4,747.0 L587.9,747.1 L588.4,747.2 L588.9,747.3 L589.4,747.4 L589.9,747.4 L590.4,747.5 L590.9,747.6 L591.4,747.7 L591.9,747.8 L592.4,747.8 L592.9,747.9 L593.4,748.0 L593.9,748.1 L594.4,748.1 L594.9,748.2 L595.4,748.3 L595.9,748.4 L596.4,748.4 L596.9,748.5 L597.4,748.6 L597.9,748.7 L598.4,748.7 L598.9,748.8 L599.4,748.9 L599.9,749.0 L600.4,749.0 L600.9,749.1 L601.4,749.2 L601.9,749.2 L602.4,749.3 L602.9,749.4 L603.4,749.4 L603.9,749.5 L604.4,749.6 L604.9,749.7 L605.4,749.7 L605.9,749.8 L606.4,749.9 L606.9,749.9 L607.4,750.0 L607.9,750.1 L608.4,750.1 L608.9,750.2 L609.4,750.3 L609.9,750.3 L610.4,750.4 L610.9,750.5 L611.4,750.5 L611.9,750.6 L612.4,750.6 L612.9,750.7 L613.4,750.8 L613.9,750.8 L614.4,750.9 L614.9,751.0 L615.4,751.0 L615.9,751.1 L616.4,751.1 L616.9,751.2 L617.4,751.3 L617.9,751.3 L618.4,751.4 L618.9,751.4 L619.4,751.5 L619.9,751.6 L620.4,751.6 L620.9,751.7 L621.4,751.7 L621.9,751.8 L622.4,751.8 L622.9,751.9 L623.4,752.0 L623.9,752.0 L624.4,752.1 L624.9,752.1 L625.4,752.2 L625.9,752.2 L626.4,752.3 L626.9,752.3 L627.4,752.4 L627.9,752.5 L628.4,752.5 L628.9,752.6 L629.4,752.6 L629.9,752.7 L630.4,752.7 L630.9,752.8 L631.4,752.8 L631.9,752.9 L632.4,752.9 L632.9,753.0 L633.4,753.0 L633.9,753.1 L634.4,753.1 L634.9,753.2 L635.4,753.2 L635.9,753.3 L636.4,753.3 L636.9,753.4 L637.4,753.4 L637.9,753.5 L638.4,753.5 L638.9,753.6 L639.4,753.6 L639.9,753.7 L640.4,753.7 L640.9,753.8 L641.4,753.8 L641.9,753.9 L642.4,753.9 L642.9,754.0 L643.4,754.0 L643.9,754.1 L644.4,754.1 L644.9,754.2 L645.4,754.2 L645.9,754.2 L646.4,754.3 L646.9,754.3 L647.4,754.4 L647.9,754.4 L648.4,754.5 L648.9,754.5 L649.4,754.6 L649.9,754.6 L650.4,754.6 L650.9,754.7 L651.4,754.7 L651.9,754.8 L652.4,754.8 L652.9,754.9 L653.4,754.9 L653.9,754.9 L654.4,755.0 L654.9,755.0 L655.4,755.1 L655.9,755.1 L656.4,755.1 L656.9,755.2 L657.4,755.2 L657.9,755.3 L658.4,755.3 L658.9,755.3 L659.4,755.4 L659.9,755.4 L660.4,755.5 L660.9,755.5 L661.4,755.5 L661.9,755.6 L662.4,755.6 L662.9,755.7 L663.4,755.7 L663.9,755.7 L664.4,755.8 L664.9,755.8 L665.4,755.8 L665.9,755.9 L666.4,755.9 L666.9,756.0 L667.4,756.0 L667.9,756.0 L668.4,756.1 L668.9,756.1 L669.4,756.1 L669.9,756.2 L670.4,756.2 L670.9,756.2 L671.4,756.3 L671.9,756.3 L672.4,756.3 L672.9,756.4 L673.4,756.4 L673.9,756.4 L674.4,756.5 L674.9,756.5 L675.4,756.5 L675.9,756.6 L676.4,756.6 L676.9,756.6 L677.4,756.7 L677.9,756.7 L678.4,756.7 L678.9,756.8 L679.4,756.8 L679.9,756.8 L680.4,756.9 L680.9,756.9 L681.4,756.9 L681.9,757.0 L682.0,757.0" fill="none" stroke="#0000c4" stroke-width="3.2" stroke-linejoin="round"/>
<path d="M267.3,863.6 L348.3,863.6 L348.4,749.0 L349.5,737.6 L350.0,734.6 L350.5,731.9 L351.0,729.3 L351.5,726.8 L352.0,724.5 L352.5,722.4 L353.0,720.3 L353.5,718.4 L354.0,716.6 L354.5,714.9 L355.0,713.2 L355.5,711.7 L356.0,710.2 L356.5,708.8 L357.0,707.4 L357.5,706.1 L358.0,704.9 L358.5,703.7 L359.0,702.6 L359.5,701.5 L360.0,700.5 L360.5,699.4 L361.0,698.5 L361.5,697.5 L362.0,696.6 L362.5,695.7 L363.0,694.9 L363.5,694.0 L364.0,693.2 L364.5,692.4 L365.0,691.6 L365.5,690.9 L366.0,690.1 L366.5,689.4 L367.0,688.7 L367.5,688.0 L368.0,687.3 L368.5,686.6 L369.0,685.9 L369.5,685.3 L370.0,684.7 L370.5,684.0 L371.0,683.4 L371.5,682.8 L372.0,682.2 L372.5,681.6 L373.0,681.0 L373.5,680.4 L374.0,679.8 L374.5,679.3 L375.0,678.7 L375.5,678.1 L376.0,677.6 L376.5,677.0 L377.0,676.5 L377.5,675.9 L378.0,675.4 L378.5,674.9 L379.0,674.4 L379.5,673.8 L380.0,673.3 L380.5,672.8 L381.0,672.3 L381.5,671.8 L382.0,671.3 L382.5,670.8 L383.0,670.3 L383.5,669.9 L384.0,669.4 L384.5,668.9 L385.0,668.4 L385.5,667.9 L386.0,667.5 L386.5,667.0 L387.0,666.5 L387.5,666.1 L388.0,665.6 L388.5,665.2 L389.0,664.7 L389.5,664.3 L390.0,663.8 L390.5,663.4 L391.0,663.0 L391.5,662.5 L392.0,662.1 L392.5,661.7 L393.0,661.2 L393.5,660.8 L394.0,660.4 L394.5,660.0 L395.0,659.6 L395.5,659.1 L396.0,658.7 L396.5,658.3 L397.0,657.9 L397.5,657.5 L398.0,657.1 L398.5,656.7 L399.0,656.3 L399.5,655.9 L400.0,655.5 L400.5,655.2 L401.0,654.8 L401.5,654.4 L402.0,654.0 L402.5,653.6 L403.0,653.3 L403.5,652.9 L404.0,652.5 L404.5,652.1 L405.0,651.8 L405.5,651.4 L406.0,651.0 L406.5,650.7 L407.0,650.3 L407.5,650.0 L408.0,649.6 L408.5,649.3 L409.0,648.9 L409.5,648.6 L410.0,648.2 L410.5,647.9 L411.0,647.5 L411.5,647.2 L412.0,646.9 L412.5,646.5 L413.0,646.2 L413.5,645.9 L414.0,645.5 L414.5,645.2 L415.0,644.9 L415.5,644.5 L416.0,644.2 L416.5,643.9 L417.0,643.6 L417.5,643.3 L418.0,643.0 L418.5,642.6 L419.0,642.3 L419.5,642.0 L420.0,641.7 L420.5,641.4 L421.0,641.1 L421.5,640.8 L422.0,640.5 L422.5,640.2 L423.0,639.9 L423.5,639.6 L424.0,639.3 L424.5,639.0 L425.0,638.7 L425.5,638.4 L426.0,638.2 L426.5,637.9 L427.0,637.6 L427.5,637.3 L428.0,637.0 L428.5,636.7 L429.0,636.5 L429.5,636.2 L430.0,635.9 L430.5,635.6 L431.0,635.4 L431.5,635.1 L432.0,634.8 L432.5,634.6 L433.0,634.3 L433.5,634.0 L434.0,633.8 L434.5,633.5 L435.0,633.3 L435.5,633.0 L436.0,632.7 L436.5,632.5 L437.0,632.2 L437.5,632.0 L438.0,631.7 L438.5,631.5 L439.0,631.2 L439.5,631.0 L440.0,630.7 L440.5,630.5 L441.0,630.2 L441.5,630.0 L442.0,629.8 L442.5,629.5 L443.0,629.3 L443.5,629.0 L444.0,628.8 L444.5,628.6 L445.0,628.3 L445.5,628.1 L446.0,627.9 L446.5,627.6 L447.0,627.4 L447.5,627.2 L448.0,627.0 L448.5,626.7 L449.0,626.5 L449.5,626.3 L450.0,626.1 L450.5,625.8 L451.0,625.6 L451.5,625.4 L452.0,625.2 L452.5,625.0 L453.0,624.7 L453.5,624.5 L454.0,624.3 L454.5,624.1 L455.0,623.9 L455.5,623.7 L456.0,623.5 L456.5,623.3 L457.0,623.1 L457.5,622.9 L458.0,622.6 L458.5,622.4 L459.0,622.2 L459.5,622.0 L460.0,621.8 L460.5,621.6 L461.0,621.4 L461.5,621.2 L462.0,621.0 L462.5,620.8 L463.0,620.7 L463.5,620.5 L464.0,620.3 L464.5,620.1 L465.0,619.9 L465.5,619.7 L466.0,619.5 L466.5,619.3 L467.0,619.1 L467.5,618.9 L468.0,618.7 L468.5,618.6 L469.0,618.4 L469.5,618.2 L470.0,618.0 L470.5,617.8 L471.0,617.6 L471.5,617.5 L472.0,617.3 L472.5,617.1 L473.0,616.9 L473.5,616.7 L474.0,616.6 L474.5,616.4 L475.0,616.2 L475.5,616.0 L476.0,615.9 L476.5,615.7 L477.0,615.5 L477.5,615.4 L478.0,615.2 L478.5,615.0 L479.0,614.8 L479.5,614.7 L480.0,614.5 L480.5,614.3 L481.0,614.2 L481.5,614.0 L482.0,613.8 L482.5,613.7 L483.0,613.5 L483.5,613.4 L484.0,613.2 L484.5,613.0 L485.0,612.9 L485.5,612.7 L486.0,612.6 L486.5,612.4 L487.0,612.2 L487.5,612.1 L488.0,611.9 L488.5,611.8 L489.0,611.6 L489.5,611.5 L490.0,611.3 L490.5,611.1 L491.0,611.0 L491.5,610.8 L492.0,610.7 L492.5,610.5 L493.0,610.4 L493.3,610.3 L493.8,612.7 L494.3,614.2 L494.8,615.2 L495.3,616.0 L495.8,616.6 L496.3,617.1 L496.8,617.6 L497.3,618.0 L497.8,618.4 L498.3,618.9 L498.8,619.3 L499.3,619.6 L499.8,620.0 L500.3,620.4 L500.8,620.8 L501.3,621.1 L501.8,621.5 L502.3,621.8 L502.8,622.2 L503.3,622.5 L503.8,622.8 L504.3,623.2 L504.8,623.5 L505.3,623.8 L505.8,624.1 L506.3,624.4 L506.8,624.7 L507.3,625.0 L507.8,625.3 L508.3,625.5 L508.8,625.8 L509.3,626.1 L509.8,626.4 L510.3,626.6 L510.8,626.9 L511.3,627.1 L511.8,627.4 L512.3,627.6 L512.8,627.9 L513.3,628.1 L513.8,628.3 L514.3,628.6 L514.8,628.8 L515.3,629.0 L515.8,629.2 L516.3,629.4 L516.8,629.7 L517.3,629.9 L517.8,630.1 L518.3,630.3 L518.8,630.5 L519.3,630.7 L519.8,630.9 L520.3,631.1 L520.8,631.2 L521.3,631.4 L521.8,631.6 L522.3,631.8 L522.8,632.0 L523.3,632.1 L523.8,632.3 L524.3,632.5 L524.8,632.7 L525.3,632.8 L525.8,633.0 L526.3,633.1 L526.8,633.3 L527.3,633.5 L527.8,633.6 L528.3,633.8 L528.8,633.9 L529.3,634.1 L529.8,634.2 L530.3,634.4 L530.8,634.5 L531.3,634.7 L531.8,634.8 L532.3,634.9 L532.8,635.1 L533.3,635.2 L533.8,635.4 L534.3,635.5 L534.8,635.6 L535.3,635.8 L535.8,635.9 L536.3,636.0 L536.8,636.1 L537.3,636.3 L537.8,636.4 L538.3,636.5 L538.8,636.6 L539.3,636.8 L539.8,636.9 L540.3,637.0 L540.8,637.1 L541.3,637.2 L541.8,637.3 L542.3,637.5 L542.8,637.6 L543.3,637.7 L543.8,637.8 L544.3,637.9 L544.8,638.0 L545.3,638.1 L545.8,638.2 L546.3,638.3 L546.8,638.4 L547.3,638.6 L547.8,638.7 L548.3,638.8 L548.8,638.9 L549.3,639.0 L549.8,639.1 L550.3,639.2 L550.8,639.3 L551.3,639.4 L551.8,639.5 L552.3,639.6 L552.8,639.7 L553.3,639.8 L553.8,639.9 L554.3,639.9 L554.8,640.0 L555.3,640.1 L555.8,640.2 L556.3,640.3 L556.8,640.4 L557.3,640.5 L557.8,640.6 L558.3,640.7 L558.8,640.8 L559.3,640.9 L559.8,641.0 L560.3,641.0 L560.8,641.1 L561.3,641.2 L561.8,641.3 L562.3,641.4 L562.8,641.5 L563.3,641.6 L563.8,641.6 L564.3,641.7 L564.8,641.8 L565.3,641.9 L565.8,642.0 L566.3,642.1 L566.8,642.1 L567.3,642.2 L567.8,642.3 L568.3,642.4 L568.8,642.5 L569.3,642.5 L569.8,642.6 L570.3,642.7 L570.8,642.8 L571.3,642.9 L571.8,642.9 L572.3,643.0 L572.8,643.1 L573.3,643.2 L573.8,643.2 L574.3,643.3 L574.8,643.4 L575.3,643.5 L575.8,643.5 L576.3,643.6 L576.8,643.7 L577.3,643.8 L577.8,643.8 L578.3,643.9 L578.8,644.0 L579.3,644.1 L579.8,644.1 L580.3,644.2 L580.8,644.3 L581.3,644.4 L581.8,644.4 L582.3,644.5 L582.8,644.6 L583.3,644.6 L583.8,644.7 L584.3,644.8 L584.8,644.9 L585.3,644.9 L585.8,645.0 L586.3,645.1 L586.8,645.1 L587.3,645.2 L587.8,645.3 L588.3,645.3 L588.8,645.4 L589.3,645.5 L589.8,645.5 L590.3,645.6 L590.8,645.7 L591.3,645.7 L591.8,645.8 L592.3,645.9 L592.8,645.9 L593.3,646.0 L593.8,646.1 L594.3,646.1 L594.8,646.2 L595.3,646.3 L595.8,646.3 L596.3,646.4 L596.8,646.5 L597.3,646.5 L597.8,646.6 L598.3,646.7 L598.8,646.7 L599.3,646.8 L599.8,646.8 L600.3,646.9 L600.8,647.0 L601.3,647.0 L601.8,647.1 L602.3,647.2 L602.8,647.2 L603.3,647.3 L603.8,647.3 L604.3,647.4 L604.8,647.5 L605.3,647.5 L605.8,647.6 L606.3,647.6 L606.8,647.7 L607.3,647.8 L607.8,647.8 L608.3,647.9 L608.8,647.9 L609.3,648.0 L609.8,648.1 L610.3,648.1 L610.8,648.2 L611.3,648.2 L611.8,648.3 L612.3,648.4 L612.8,648.4 L613.3,648.5 L613.8,648.5 L614.3,648.6 L614.8,648.7 L615.3,648.7 L615.8,648.8 L616.3,648.8 L616.8,648.9 L617.3,648.9 L617.8,649.0 L618.3,649.1 L618.8,649.1 L619.3,649.2 L619.8,649.2 L620.3,649.3 L620.8,649.3 L621.3,649.4 L621.8,649.4 L622.3,649.5 L622.8,649.6 L623.3,649.6 L623.8,649.7 L624.3,649.7 L624.8,649.8 L625.3,649.8 L625.8,649.9 L626.3,649.9 L626.8,650.0 L627.3,650.0 L627.8,650.1 L628.3,650.2 L628.8,650.2 L629.3,650.3 L629.8,650.3 L630.3,650.4 L630.8,650.4 L631.3,650.5 L631.8,650.5 L632.3,650.6 L632.8,650.6 L633.3,650.7 L633.8,650.7 L634.3,650.8 L634.8,650.8 L635.3,650.9 L635.8,650.9 L636.3,651.0 L636.8,651.0 L637.3,651.1 L637.8,651.1 L638.3,651.2 L638.8,651.2 L639.3,651.3 L639.8,651.3 L640.3,651.4 L640.8,651.4 L641.3,651.5 L641.8,651.5 L642.3,651.6 L642.8,651.6 L643.3,651.7 L643.8,651.7 L644.3,651.8 L644.8,651.8 L645.3,651.9 L645.8,651.9 L646.3,652.0 L646.8,652.0 L647.3,652.1 L647.8,652.1 L648.3,652.2 L648.8,652.2 L649.3,652.3 L649.8,652.3 L650.3,652.4 L650.8,652.4 L651.3,652.5 L651.8,652.5 L652.3,652.6 L652.8,652.6 L653.3,652.7 L653.8,652.7 L654.3,652.8 L654.8,652.8 L655.3,652.8 L655.8,652.9 L656.3,652.9 L656.8,653.0 L657.3,653.0 L657.8,653.1 L658.3,653.1 L658.8,653.2 L659.3,653.2 L659.8,653.3 L660.3,653.3 L660.8,653.3 L661.3,653.4 L661.8,653.4 L662.3,653.5 L662.8,653.5 L663.3,653.6 L663.8,653.6 L664.3,653.7 L664.8,653.7 L665.3,653.8 L665.8,653.8 L666.3,653.8 L666.8,653.9 L667.3,653.9 L667.8,654.0 L668.3,654.0 L668.8,654.1 L669.3,654.1 L669.8,654.1 L670.3,654.2 L670.8,654.2 L671.3,654.3 L671.8,654.3 L672.3,654.4 L672.8,654.4 L673.3,654.4 L673.8,654.5 L674.3,654.5 L674.8,654.6 L675.3,654.6 L675.8,654.7 L676.3,654.7 L676.8,654.7 L677.3,654.8 L677.8,654.8 L678.3,654.9 L678.8,654.9 L679.3,654.9 L679.8,655.0 L680.3,655.0 L680.8,655.1 L681.3,655.1 L681.8,655.1 L682.0,655.2" fill="none" stroke="#00dc00" stroke-width="3.2" stroke-linejoin="round"/>
<path d="M264,521 H683 V869 H264 M271,519 V871" fill="none" stroke="#000" stroke-width="4"/>
<line x1="264" y1="799.4" x2="271" y2="799.4" stroke="#000" stroke-width="4"/>
<line x1="264" y1="729.8" x2="271" y2="729.8" stroke="#000" stroke-width="4"/>
<line x1="264" y1="660.2" x2="271" y2="660.2" stroke="#000" stroke-width="4"/>
<line x1="264" y1="590.6" x2="271" y2="590.6" stroke="#000" stroke-width="4"/>
<line x1="279.0" y1="869" x2="279.0" y2="876" stroke="#000" stroke-width="4"/>
<line x1="345.8" y1="869" x2="345.8" y2="876" stroke="#000" stroke-width="4"/>
<line x1="412.6" y1="869" x2="412.6" y2="876" stroke="#000" stroke-width="4"/>
<line x1="479.4" y1="869" x2="479.4" y2="876" stroke="#000" stroke-width="4"/>
<line x1="546.2" y1="869" x2="546.2" y2="876" stroke="#000" stroke-width="4"/>
<line x1="613.0" y1="869" x2="613.0" y2="876" stroke="#000" stroke-width="4"/>
<line x1="679.8" y1="869" x2="679.8" y2="876" stroke="#000" stroke-width="4"/>
<text transform="translate(223.10,810.08) scale(1.0000,1.0452)" text-anchor="start" font-size="23">200</text>
<text transform="translate(223.10,740.08) scale(1.0000,1.0452)" text-anchor="start" font-size="23">400</text>
<text transform="translate(223.10,668.77) scale(1.0000,1.0452)" text-anchor="start" font-size="23">600</text>
<text transform="translate(223.10,600.08) scale(1.0000,1.0452)" text-anchor="start" font-size="23">800</text>
<text transform="translate(211.60,531.27) scale(1.0000,1.0452)" text-anchor="start" font-size="23">1000</text>
<text transform="translate(273.25,899.05) scale(1.0000,1.0452)" text-anchor="start" font-size="23">0</text>
<text transform="translate(328.18,899.05) scale(1.0000,1.0452)" text-anchor="start" font-size="23">100</text>
<text transform="translate(395.35,899.05) scale(1.0000,1.0452)" text-anchor="start" font-size="23">200</text>
<text transform="translate(462.27,899.05) scale(1.0000,1.0452)" text-anchor="start" font-size="23">300</text>
<text transform="translate(529.33,899.05) scale(1.0000,1.0452)" text-anchor="start" font-size="23">400</text>
<text transform="translate(595.75,899.05) scale(1.0000,1.0452)" text-anchor="start" font-size="23">500</text>
<text transform="translate(662.67,899.05) scale(1.0000,1.0452)" text-anchor="start" font-size="23">600</text>
<text transform="translate(505.45,555.65) scale(0.9993,0.9594)" text-anchor="start" font-size="23">Inhibitors-BSA</text>
<text transform="translate(179.35,531.50) scale(1.0885,1.0885)" text-anchor="start" font-size="32">c</text>
<text transform="translate(204.90,770.00) rotate(-90) scale(1.0397,1.0458)" text-anchor="start" font-size="23">Response (RU)</text>
<text transform="translate(424.55,931.50) scale(1.0018,1.0700)" text-anchor="start" font-size="23">Time (S)</text>
<line x1="280.5" y1="537.4" x2="316.7" y2="537.4" stroke="#2a2a2a" stroke-width="2.1"/>
<text transform="translate(323.70,541.45) scale(1.0430,0.9700)" font-size="18.3">10<tspan dx="-1.6"> mg/L</tspan></text>
<line x1="280.5" y1="562.3" x2="316.7" y2="562.3" stroke="#ff1f1f" stroke-width="2.1"/>
<text transform="translate(324.45,568.35) scale(1.0302,0.9700)" font-size="18.3">30<tspan dx="-1.6"> mg/L</tspan></text>
<line x1="280.5" y1="586.8" x2="316.7" y2="586.8" stroke="#2525ff" stroke-width="2.1"/>
<text transform="translate(324.45,591.15) scale(1.0302,0.9700)" font-size="18.3">50<tspan dx="-1.6"> mg/L</tspan></text>
<line x1="280.5" y1="611.3" x2="316.7" y2="611.3" stroke="#10e010" stroke-width="2.1"/>
<text transform="translate(324.20,615.45) scale(1.0344,0.9700)" font-size="18.3">75<tspan dx="-1.6"> mg/L</tspan></text>
<line x1="346.4" y1="849.5" x2="346.4" y2="862" stroke="#cc2020" stroke-width="1.2"/>
<path d="M829.0,870.0 L904.0,870.0 L904.5,868.3 L905.0,866.7 L905.5,865.1 L906.0,863.6 L906.5,862.1 L907.0,860.7 L907.5,859.3 L908.0,858.0 L908.5,856.7 L909.0,855.4 L909.5,854.2 L910.0,853.0 L910.5,851.9 L911.0,850.8 L911.5,849.7 L912.0,848.7 L912.5,847.6 L913.0,846.7 L913.5,845.7 L914.0,844.8 L914.5,843.9 L915.0,843.0 L915.5,842.1 L916.0,841.3 L916.5,840.5 L917.0,839.7 L917.5,838.9 L918.0,838.1 L918.5,837.4 L919.0,836.7 L919.5,836.0 L920.0,835.3 L920.5,834.6 L921.0,834.0 L921.5,833.4 L922.0,832.7 L922.5,832.1 L923.0,831.5 L923.5,831.0 L924.0,830.4 L924.5,829.9 L925.0,829.3 L925.5,828.8 L926.0,828.3 L926.5,827.8 L927.0,827.3 L927.5,826.8 L928.0,826.3 L928.5,825.9 L929.0,825.4 L929.5,825.0 L930.0,824.5 L930.5,824.1 L931.0,823.7 L931.5,823.3 L932.0,822.9 L932.5,822.5 L933.0,822.1 L933.5,821.8 L934.0,821.4 L934.5,821.0 L935.0,820.7 L935.5,820.3 L936.0,820.0 L936.5,819.7 L937.0,819.4 L937.5,819.0 L938.0,818.7 L938.5,818.4 L939.0,818.1 L939.5,817.8 L940.0,817.6 L940.5,817.3 L941.0,817.0 L941.5,816.7 L942.0,816.5 L942.5,816.2 L943.0,816.0 L943.5,815.7 L944.0,815.5 L944.5,815.2 L945.0,815.0 L945.5,814.8 L946.0,814.6 L946.5,814.3 L947.0,814.1 L947.5,813.9 L948.0,813.7 L948.5,813.5 L949.0,813.3 L949.5,813.1 L950.0,812.9 L950.5,812.7 L951.0,812.5 L951.5,812.4 L952.0,812.2 L952.5,812.0 L953.0,811.8 L953.5,811.7 L954.0,811.5 L954.5,811.4 L955.0,811.2 L955.5,811.1 L956.0,810.9 L956.5,810.8 L957.0,810.6 L957.5,810.5 L958.0,810.3 L958.5,810.2 L959.0,810.1 L959.5,809.9 L960.0,809.8 L960.5,809.7 L961.0,809.5 L961.5,809.4 L962.0,809.3 L962.5,809.2 L963.0,809.1 L963.5,809.0 L964.0,808.9 L964.5,808.8 L965.0,808.6 L965.5,808.5 L966.0,808.4 L966.5,808.3 L967.0,808.2 L967.5,808.2 L968.0,808.1 L968.5,808.0 L969.0,807.9 L969.5,807.8 L970.0,807.7 L970.5,807.6 L971.0,807.5 L971.5,807.5 L972.0,807.4 L972.5,807.3 L973.0,807.2 L973.5,807.1 L974.0,807.1 L974.5,807.0 L975.0,806.9 L975.5,806.9 L976.0,806.8 L976.5,806.7 L977.0,806.7 L977.5,806.6 L978.0,806.5 L978.5,806.5 L979.0,806.4 L979.5,806.4 L980.0,806.3 L980.5,806.2 L981.0,806.2 L981.5,806.1 L982.0,806.1 L982.5,806.0 L983.0,806.0 L983.5,805.9 L984.0,805.9 L984.5,805.8 L985.0,805.8 L985.5,805.7 L986.0,805.7 L986.5,805.6 L987.0,805.6 L987.5,805.6 L988.0,805.5 L988.5,805.5 L989.0,805.4 L989.5,805.4 L990.0,805.4 L990.5,805.3 L991.0,805.3 L991.5,805.2 L992.0,805.2 L992.5,805.2 L993.0,805.1 L993.5,805.1 L994.0,805.1 L994.5,805.0 L995.0,805.0 L995.5,805.0 L996.0,805.0 L996.5,804.9 L997.0,804.9 L997.5,804.9 L998.0,804.8 L998.5,804.8 L999.0,804.8 L999.5,804.8 L1000.0,804.7 L1000.5,804.7 L1001.0,804.7 L1001.5,804.7 L1002.0,804.6 L1002.5,804.6 L1003.0,804.6 L1003.5,804.6 L1004.0,804.6 L1004.5,804.5 L1005.0,804.5 L1005.5,804.5 L1006.0,804.5 L1006.5,804.5 L1007.0,804.4 L1007.5,804.4 L1008.0,804.4 L1008.5,804.4 L1009.0,804.4 L1009.5,804.3 L1010.0,804.3 L1010.5,804.3 L1011.0,804.3 L1011.5,804.3 L1012.0,804.3 L1012.5,804.2 L1013.0,804.2 L1013.5,804.2 L1014.0,804.2 L1014.5,804.2 L1015.0,804.2 L1015.5,804.2 L1016.0,804.2 L1016.5,804.1 L1017.0,804.1 L1017.5,804.1 L1018.0,804.1 L1018.5,804.1 L1019.0,804.1 L1019.5,804.1 L1020.0,804.1 L1020.5,804.0 L1021.0,804.0 L1021.5,804.0 L1022.0,804.0 L1022.5,804.0 L1023.0,804.0 L1023.5,804.0 L1024.0,804.0 L1024.5,804.0 L1025.0,804.0 L1025.5,804.0 L1026.0,803.9 L1026.5,803.9 L1027.0,803.9 L1027.5,803.9 L1028.0,803.9 L1028.5,803.9 L1029.0,803.9 L1029.5,803.9 L1030.0,803.9 L1030.5,803.9 L1031.0,803.9 L1031.5,803.9 L1032.0,803.9 L1032.5,803.9 L1033.0,803.8 L1033.5,803.8 L1034.0,803.8 L1034.5,803.8 L1035.0,803.8 L1035.5,803.8 L1036.0,803.8 L1036.5,803.8 L1037.0,803.8 L1037.5,803.8 L1038.0,803.8 L1038.5,803.8 L1039.0,803.8 L1039.5,803.8 L1040.0,803.8 L1040.5,803.8 L1041.0,803.8 L1041.5,803.8 L1042.0,803.8 L1042.5,803.8 L1043.0,803.7 L1043.5,803.7 L1044.0,803.7 L1044.5,803.7 L1045.0,803.7 L1045.5,803.7 L1046.0,803.7 L1046.5,803.7 L1047.0,803.7 L1047.5,803.7 L1048.0,803.7 L1048.5,803.7 L1049.0,803.7 L1049.5,803.7 L1050.0,803.7 L1050.3,803.7 L1050.8,807.6 L1051.3,810.3 L1051.8,812.3 L1052.3,813.8 L1052.8,815.0 L1053.3,816.1 L1053.8,817.1 L1054.3,818.0 L1054.8,818.8 L1055.3,819.5 L1055.8,820.2 L1056.3,820.9 L1056.8,821.5 L1057.3,822.1 L1057.8,822.6 L1058.3,823.1 L1058.8,823.6 L1059.3,824.1 L1059.8,824.5 L1060.3,825.0 L1060.8,825.4 L1061.3,825.8 L1061.8,826.1 L1062.3,826.5 L1062.8,826.8 L1063.3,827.2 L1063.8,827.5 L1064.3,827.8 L1064.8,828.1 L1065.3,828.4 L1065.8,828.7 L1066.3,829.0 L1066.8,829.2 L1067.3,829.5 L1067.8,829.8 L1068.3,830.0 L1068.8,830.3 L1069.3,830.5 L1069.8,830.7 L1070.3,831.0 L1070.8,831.2 L1071.3,831.4 L1071.8,831.6 L1072.3,831.9 L1072.8,832.1 L1073.3,832.3 L1073.8,832.5 L1074.3,832.7 L1074.8,832.9 L1075.3,833.1 L1075.8,833.3 L1076.3,833.5 L1076.8,833.7 L1077.3,833.9 L1077.8,834.1 L1078.3,834.2 L1078.8,834.4 L1079.3,834.6 L1079.8,834.8 L1080.3,835.0 L1080.8,835.1 L1081.3,835.3 L1081.8,835.5 L1082.3,835.7 L1082.8,835.8 L1083.3,836.0 L1083.8,836.2 L1084.3,836.3 L1084.8,836.5 L1085.3,836.6 L1085.8,836.8 L1086.3,837.0 L1086.8,837.1 L1087.3,837.3 L1087.8,837.4 L1088.3,837.6 L1088.8,837.7 L1089.3,837.9 L1089.8,838.0 L1090.3,838.2 L1090.8,838.3 L1091.3,838.5 L1091.8,838.6 L1092.3,838.7 L1092.8,838.9 L1093.3,839.0 L1093.8,839.2 L1094.3,839.3 L1094.8,839.4 L1095.3,839.6 L1095.8,839.7 L1096.3,839.8 L1096.8,840.0 L1097.3,840.1 L1097.8,840.2 L1098.3,840.3 L1098.8,840.5 L1099.3,840.6 L1099.8,840.7 L1100.3,840.8 L1100.8,841.0 L1101.3,841.1 L1101.8,841.2 L1102.3,841.3 L1102.8,841.4 L1103.3,841.6 L1103.8,841.7 L1104.3,841.8 L1104.8,841.9 L1105.3,842.0 L1105.8,842.1 L1106.3,842.2 L1106.8,842.3 L1107.3,842.4 L1107.8,842.6 L1108.3,842.7 L1108.8,842.8 L1109.3,842.9 L1109.8,843.0 L1110.3,843.1 L1110.8,843.2 L1111.3,843.3 L1111.8,843.4 L1112.3,843.5 L1112.8,843.6 L1113.3,843.7 L1113.8,843.8 L1114.3,843.9 L1114.8,844.0 L1115.3,844.1 L1115.8,844.2 L1116.3,844.3 L1116.8,844.3 L1117.3,844.4 L1117.8,844.5 L1118.3,844.6 L1118.8,844.7 L1119.3,844.8 L1119.8,844.9 L1120.3,845.0 L1120.8,845.1 L1121.3,845.1 L1121.8,845.2 L1122.3,845.3 L1122.8,845.4 L1123.3,845.5 L1123.8,845.6 L1124.3,845.6 L1124.8,845.7 L1125.3,845.8 L1125.8,845.9 L1126.3,846.0 L1126.8,846.0 L1127.3,846.1 L1127.8,846.2 L1128.3,846.3 L1128.8,846.3 L1129.3,846.4 L1129.8,846.5 L1130.3,846.6 L1130.8,846.6 L1131.3,846.7 L1131.8,846.8 L1132.3,846.8 L1132.8,846.9 L1133.3,847.0 L1133.8,847.0 L1134.3,847.1 L1134.8,847.2 L1135.3,847.2 L1135.8,847.3 L1136.3,847.4 L1136.8,847.4 L1137.3,847.5 L1137.8,847.6 L1138.3,847.6 L1138.8,847.7 L1139.3,847.8 L1139.8,847.8 L1140.3,847.9 L1140.8,847.9 L1141.3,848.0 L1141.8,848.1 L1142.3,848.1 L1142.8,848.2 L1143.3,848.2 L1143.8,848.3 L1144.3,848.4 L1144.8,848.4 L1145.3,848.5 L1145.8,848.5 L1146.3,848.6 L1146.8,848.6 L1147.3,848.7 L1147.8,848.7 L1148.3,848.8 L1148.8,848.8 L1149.3,848.9 L1149.8,849.0 L1150.3,849.0 L1150.8,849.1 L1151.3,849.1 L1151.8,849.2 L1152.3,849.2 L1152.8,849.3 L1153.3,849.3 L1153.8,849.4 L1154.3,849.4 L1154.8,849.4 L1155.3,849.5 L1155.8,849.5 L1156.3,849.6 L1156.8,849.6 L1157.3,849.7 L1157.8,849.7 L1158.3,849.8 L1158.8,849.8 L1159.3,849.9 L1159.8,849.9 L1160.3,849.9 L1160.8,850.0 L1161.3,850.0 L1161.8,850.1 L1162.3,850.1 L1162.8,850.2 L1163.3,850.2 L1163.8,850.2 L1164.3,850.3 L1164.8,850.3 L1165.3,850.4 L1165.8,850.4 L1166.3,850.4 L1166.8,850.5 L1167.3,850.5 L1167.8,850.6 L1168.3,850.6 L1168.8,850.6 L1169.3,850.7 L1169.8,850.7 L1170.3,850.7 L1170.8,850.8 L1171.3,850.8 L1171.8,850.8 L1172.3,850.9 L1172.8,850.9 L1173.3,850.9 L1173.8,851.0 L1174.3,851.0 L1174.8,851.1 L1175.3,851.1 L1175.8,851.1 L1176.3,851.1 L1176.8,851.2 L1177.3,851.2 L1177.8,851.2 L1178.3,851.3 L1178.8,851.3 L1179.3,851.3 L1179.8,851.4 L1180.3,851.4 L1180.8,851.4 L1181.3,851.5 L1181.8,851.5 L1182.3,851.5 L1182.8,851.6 L1183.3,851.6 L1183.8,851.6 L1184.3,851.6 L1184.8,851.7 L1185.3,851.7 L1185.8,851.7 L1186.3,851.7 L1186.8,851.8 L1187.3,851.8 L1187.8,851.8 L1188.3,851.9 L1188.8,851.9 L1189.3,851.9 L1189.8,851.9 L1190.3,852.0 L1190.8,852.0 L1191.3,852.0 L1191.8,852.0 L1192.3,852.1 L1192.8,852.1 L1193.3,852.1 L1193.8,852.1 L1194.3,852.2 L1194.8,852.2 L1195.3,852.2 L1195.8,852.2 L1196.3,852.3 L1196.8,852.3 L1197.3,852.3 L1197.8,852.3 L1198.3,852.3 L1198.8,852.4 L1199.3,852.4 L1199.8,852.4 L1200.3,852.4 L1200.8,852.5 L1201.3,852.5 L1201.8,852.5 L1202.3,852.5 L1202.8,852.5 L1203.3,852.6 L1203.8,852.6 L1204.3,852.6 L1204.8,852.6 L1205.3,852.6 L1205.8,852.7 L1206.3,852.7 L1206.8,852.7 L1207.3,852.7 L1207.8,852.7 L1208.3,852.8 L1208.8,852.8 L1209.3,852.8 L1209.8,852.8 L1210.3,852.8 L1210.8,852.8 L1211.3,852.9 L1211.8,852.9 L1212.3,852.9 L1212.8,852.9 L1213.3,852.9 L1213.8,852.9 L1214.3,853.0 L1214.8,853.0 L1215.3,853.0 L1215.8,853.0 L1216.3,853.0 L1216.8,853.0 L1217.3,853.1 L1217.8,853.1 L1218.3,853.1 L1218.8,853.1 L1219.3,853.1 L1219.8,853.1 L1220.3,853.2 L1220.8,853.2 L1221.3,853.2 L1221.8,853.2 L1222.3,853.2 L1222.8,853.2 L1223.3,853.2 L1223.8,853.3 L1224.3,853.3 L1224.8,853.3 L1225.3,853.3 L1225.8,853.3 L1226.3,853.3 L1226.8,853.3 L1227.3,853.4 L1227.8,853.4 L1228.3,853.4 L1228.8,853.4 L1229.3,853.4 L1229.8,853.4 L1230.3,853.4 L1230.8,853.5 L1231.3,853.5 L1231.8,853.5 L1232.3,853.5 L1232.8,853.5 L1233.3,853.5 L1233.8,853.5 L1234.3,853.5 L1234.8,853.5 L1235.3,853.6 L1235.8,853.6 L1236.3,853.6 L1236.8,853.6 L1237.3,853.6 L1237.8,853.6 L1238.0,853.6" fill="none" stroke="#000000" stroke-width="3.2" stroke-linejoin="round"/>
<path d="M829.0,870.0 L904.0,870.0 L904.5,867.0 L905.0,864.1 L905.5,861.3 L906.0,858.5 L906.5,855.9 L907.0,853.3 L907.5,850.8 L908.0,848.3 L908.5,846.0 L909.0,843.7 L909.5,841.5 L910.0,839.3 L910.5,837.2 L911.0,835.1 L911.5,833.1 L912.0,831.2 L912.5,829.3 L913.0,827.5 L913.5,825.7 L914.0,824.0 L914.5,822.3 L915.0,820.6 L915.5,819.0 L916.0,817.5 L916.5,816.0 L917.0,814.5 L917.5,813.1 L918.0,811.7 L918.5,810.3 L919.0,809.0 L919.5,807.7 L920.0,806.4 L920.5,805.2 L921.0,804.0 L921.5,802.9 L922.0,801.7 L922.5,800.6 L923.0,799.6 L923.5,798.5 L924.0,797.5 L924.5,796.5 L925.0,795.5 L925.5,794.6 L926.0,793.7 L926.5,792.8 L927.0,791.9 L927.5,791.0 L928.0,790.2 L928.5,789.4 L929.0,788.6 L929.5,787.8 L930.0,787.0 L930.5,786.3 L931.0,785.6 L931.5,784.9 L932.0,784.2 L932.5,783.5 L933.0,782.9 L933.5,782.2 L934.0,781.6 L934.5,781.0 L935.0,780.4 L935.5,779.8 L936.0,779.2 L936.5,778.7 L937.0,778.2 L937.5,777.6 L938.0,777.1 L938.5,776.6 L939.0,776.1 L939.5,775.6 L940.0,775.2 L940.5,774.7 L941.0,774.3 L941.5,773.8 L942.0,773.4 L942.5,773.0 L943.0,772.6 L943.5,772.2 L944.0,771.8 L944.5,771.4 L945.0,771.0 L945.5,770.7 L946.0,770.3 L946.5,770.0 L947.0,769.6 L947.5,769.3 L948.0,769.0 L948.5,768.6 L949.0,768.3 L949.5,768.0 L950.0,767.7 L950.5,767.4 L951.0,767.2 L951.5,766.9 L952.0,766.6 L952.5,766.4 L953.0,766.1 L953.5,765.8 L954.0,765.6 L954.5,765.4 L955.0,765.1 L955.5,764.9 L956.0,764.7 L956.5,764.4 L957.0,764.2 L957.5,764.0 L958.0,763.8 L958.5,763.6 L959.0,763.4 L959.5,763.2 L960.0,763.0 L960.5,762.8 L961.0,762.6 L961.5,762.5 L962.0,762.3 L962.5,762.1 L963.0,762.0 L963.5,761.8 L964.0,761.6 L964.5,761.5 L965.0,761.3 L965.5,761.2 L966.0,761.0 L966.5,760.9 L967.0,760.7 L967.5,760.6 L968.0,760.5 L968.5,760.3 L969.0,760.2 L969.5,760.1 L970.0,760.0 L970.5,759.8 L971.0,759.7 L971.5,759.6 L972.0,759.5 L972.5,759.4 L973.0,759.3 L973.5,759.2 L974.0,759.1 L974.5,759.0 L975.0,758.9 L975.5,758.8 L976.0,758.7 L976.5,758.6 L977.0,758.5 L977.5,758.4 L978.0,758.3 L978.5,758.2 L979.0,758.1 L979.5,758.1 L980.0,758.0 L980.5,757.9 L981.0,757.8 L981.5,757.7 L982.0,757.7 L982.5,757.6 L983.0,757.5 L983.5,757.4 L984.0,757.4 L984.5,757.3 L985.0,757.2 L985.5,757.2 L986.0,757.1 L986.5,757.1 L987.0,757.0 L987.5,756.9 L988.0,756.9 L988.5,756.8 L989.0,756.8 L989.5,756.7 L990.0,756.6 L990.5,756.6 L991.0,756.5 L991.5,756.5 L992.0,756.4 L992.5,756.4 L993.0,756.3 L993.5,756.3 L994.0,756.2 L994.5,756.2 L995.0,756.2 L995.5,756.1 L996.0,756.1 L996.5,756.0 L997.0,756.0 L997.5,755.9 L998.0,755.9 L998.5,755.9 L999.0,755.8 L999.5,755.8 L1000.0,755.7 L1000.5,755.7 L1001.0,755.7 L1001.5,755.6 L1002.0,755.6 L1002.5,755.6 L1003.0,755.5 L1003.5,755.5 L1004.0,755.5 L1004.5,755.4 L1005.0,755.4 L1005.5,755.4 L1006.0,755.3 L1006.5,755.3 L1007.0,755.3 L1007.5,755.2 L1008.0,755.2 L1008.5,755.2 L1009.0,755.2 L1009.5,755.1 L1010.0,755.1 L1010.5,755.1 L1011.0,755.0 L1011.5,755.0 L1012.0,755.0 L1012.5,755.0 L1013.0,754.9 L1013.5,754.9 L1014.0,754.9 L1014.5,754.9 L1015.0,754.8 L1015.5,754.8 L1016.0,754.8 L1016.5,754.8 L1017.0,754.8 L1017.5,754.7 L1018.0,754.7 L1018.5,754.7 L1019.0,754.7 L1019.5,754.7 L1020.0,754.6 L1020.5,754.6 L1021.0,754.6 L1021.5,754.6 L1022.0,754.6 L1022.5,754.5 L1023.0,754.5 L1023.5,754.5 L1024.0,754.5 L1024.5,754.5 L1025.0,754.4 L1025.5,754.4 L1026.0,754.4 L1026.5,754.4 L1027.0,754.4 L1027.5,754.4 L1028.0,754.3 L1028.5,754.3 L1029.0,754.3 L1029.5,754.3 L1030.0,754.3 L1030.5,754.3 L1031.0,754.2 L1031.5,754.2 L1032.0,754.2 L1032.5,754.2 L1033.0,754.2 L1033.5,754.2 L1034.0,754.1 L1034.5,754.1 L1035.0,754.1 L1035.5,754.1 L1036.0,754.1 L1036.5,754.1 L1037.0,754.1 L1037.5,754.0 L1038.0,754.0 L1038.5,754.0 L1039.0,754.0 L1039.5,754.0 L1040.0,754.0 L1040.5,754.0 L1041.0,754.0 L1041.5,753.9 L1042.0,753.9 L1042.5,753.9 L1043.0,753.9 L1043.5,754.1 L1044.0,756.9 L1044.5,760.6 L1045.0,764.4 L1045.5,767.9 L1046.0,771.0 L1046.5,773.8 L1047.0,776.1 L1047.5,778.2 L1048.0,779.9 L1048.5,781.4 L1049.0,782.6 L1049.5,783.8 L1050.0,784.7 L1050.5,785.6 L1051.0,786.4 L1051.5,787.1 L1052.0,787.7 L1052.5,788.3 L1053.0,788.9 L1053.5,789.4 L1054.0,789.9 L1054.5,790.3 L1055.0,790.8 L1055.5,791.2 L1056.0,791.6 L1056.5,792.0 L1057.0,792.4 L1057.5,792.8 L1058.0,793.1 L1058.5,793.5 L1059.0,793.9 L1059.5,794.2 L1060.0,794.6 L1060.5,794.9 L1061.0,795.3 L1061.5,795.6 L1062.0,795.9 L1062.5,796.3 L1063.0,796.6 L1063.5,796.9 L1064.0,797.2 L1064.5,797.5 L1065.0,797.8 L1065.5,798.1 L1066.0,798.5 L1066.5,798.8 L1067.0,799.1 L1067.5,799.3 L1068.0,799.6 L1068.5,799.9 L1069.0,800.2 L1069.5,800.5 L1070.0,800.8 L1070.5,801.1 L1071.0,801.3 L1071.5,801.6 L1072.0,801.9 L1072.5,802.1 L1073.0,802.4 L1073.5,802.7 L1074.0,802.9 L1074.5,803.2 L1075.0,803.4 L1075.5,803.7 L1076.0,803.9 L1076.5,804.2 L1077.0,804.4 L1077.5,804.7 L1078.0,804.9 L1078.5,805.1 L1079.0,805.4 L1079.5,805.6 L1080.0,805.8 L1080.5,806.1 L1081.0,806.3 L1081.5,806.5 L1082.0,806.7 L1082.5,806.9 L1083.0,807.2 L1083.5,807.4 L1084.0,807.6 L1084.5,807.8 L1085.0,808.0 L1085.5,808.2 L1086.0,808.4 L1086.5,808.6 L1087.0,808.8 L1087.5,809.0 L1088.0,809.2 L1088.5,809.4 L1089.0,809.6 L1089.5,809.8 L1090.0,810.0 L1090.5,810.2 L1091.0,810.3 L1091.5,810.5 L1092.0,810.7 L1092.5,810.9 L1093.0,811.1 L1093.5,811.2 L1094.0,811.4 L1094.5,811.6 L1095.0,811.8 L1095.5,811.9 L1096.0,812.1 L1096.5,812.3 L1097.0,812.4 L1097.5,812.6 L1098.0,812.8 L1098.5,812.9 L1099.0,813.1 L1099.5,813.2 L1100.0,813.4 L1100.5,813.5 L1101.0,813.7 L1101.5,813.8 L1102.0,814.0 L1102.5,814.1 L1103.0,814.3 L1103.5,814.4 L1104.0,814.6 L1104.5,814.7 L1105.0,814.8 L1105.5,815.0 L1106.0,815.1 L1106.5,815.3 L1107.0,815.4 L1107.5,815.5 L1108.0,815.7 L1108.5,815.8 L1109.0,815.9 L1109.5,816.0 L1110.0,816.2 L1110.5,816.3 L1111.0,816.4 L1111.5,816.5 L1112.0,816.7 L1112.5,816.8 L1113.0,816.9 L1113.5,817.0 L1114.0,817.1 L1114.5,817.3 L1115.0,817.4 L1115.5,817.5 L1116.0,817.6 L1116.5,817.7 L1117.0,817.8 L1117.5,817.9 L1118.0,818.0 L1118.5,818.1 L1119.0,818.3 L1119.5,818.4 L1120.0,818.5 L1120.5,818.6 L1121.0,818.7 L1121.5,818.8 L1122.0,818.9 L1122.5,819.0 L1123.0,819.1 L1123.5,819.2 L1124.0,819.3 L1124.5,819.4 L1125.0,819.4 L1125.5,819.5 L1126.0,819.6 L1126.5,819.7 L1127.0,819.8 L1127.5,819.9 L1128.0,820.0 L1128.5,820.1 L1129.0,820.2 L1129.5,820.3 L1130.0,820.3 L1130.5,820.4 L1131.0,820.5 L1131.5,820.6 L1132.0,820.7 L1132.5,820.8 L1133.0,820.8 L1133.5,820.9 L1134.0,821.0 L1134.5,821.1 L1135.0,821.1 L1135.5,821.2 L1136.0,821.3 L1136.5,821.4 L1137.0,821.5 L1137.5,821.5 L1138.0,821.6 L1138.5,821.7 L1139.0,821.7 L1139.5,821.8 L1140.0,821.9 L1140.5,822.0 L1141.0,822.0 L1141.5,822.1 L1142.0,822.2 L1142.5,822.2 L1143.0,822.3 L1143.5,822.4 L1144.0,822.4 L1144.5,822.5 L1145.0,822.5 L1145.5,822.6 L1146.0,822.7 L1146.5,822.7 L1147.0,822.8 L1147.5,822.9 L1148.0,822.9 L1148.5,823.0 L1149.0,823.0 L1149.5,823.1 L1150.0,823.1 L1150.5,823.2 L1151.0,823.3 L1151.5,823.3 L1152.0,823.4 L1152.5,823.4 L1153.0,823.5 L1153.5,823.5 L1154.0,823.6 L1154.5,823.6 L1155.0,823.7 L1155.5,823.7 L1156.0,823.8 L1156.5,823.8 L1157.0,823.9 L1157.5,823.9 L1158.0,824.0 L1158.5,824.0 L1159.0,824.1 L1159.5,824.1 L1160.0,824.2 L1160.5,824.2 L1161.0,824.3 L1161.5,824.3 L1162.0,824.4 L1162.5,824.4 L1163.0,824.5 L1163.5,824.5 L1164.0,824.5 L1164.5,824.6 L1165.0,824.6 L1165.5,824.7 L1166.0,824.7 L1166.5,824.8 L1167.0,824.8 L1167.5,824.8 L1168.0,824.9 L1168.5,824.9 L1169.0,825.0 L1169.5,825.0 L1170.0,825.0 L1170.5,825.1 L1171.0,825.1 L1171.5,825.2 L1172.0,825.2 L1172.5,825.2 L1173.0,825.3 L1173.5,825.3 L1174.0,825.3 L1174.5,825.4 L1175.0,825.4 L1175.5,825.4 L1176.0,825.5 L1176.5,825.5 L1177.0,825.5 L1177.5,825.6 L1178.0,825.6 L1178.5,825.6 L1179.0,825.7 L1179.5,825.7 L1180.0,825.7 L1180.5,825.8 L1181.0,825.8 L1181.5,825.8 L1182.0,825.9 L1182.5,825.9 L1183.0,825.9 L1183.5,825.9 L1184.0,826.0 L1184.5,826.0 L1185.0,826.0 L1185.5,826.1 L1186.0,826.1 L1186.5,826.1 L1187.0,826.1 L1187.5,826.2 L1188.0,826.2 L1188.5,826.2 L1189.0,826.3 L1189.5,826.3 L1190.0,826.3 L1190.5,826.3 L1191.0,826.4 L1191.5,826.4 L1192.0,826.4 L1192.5,826.4 L1193.0,826.5 L1193.5,826.5 L1194.0,826.5 L1194.5,826.5 L1195.0,826.6 L1195.5,826.6 L1196.0,826.6 L1196.5,826.6 L1197.0,826.6 L1197.5,826.7 L1198.0,826.7 L1198.5,826.7 L1199.0,826.7 L1199.5,826.8 L1200.0,826.8 L1200.5,826.8 L1201.0,826.8 L1201.5,826.8 L1202.0,826.9 L1202.5,826.9 L1203.0,826.9 L1203.5,826.9 L1204.0,826.9 L1204.5,827.0 L1205.0,827.0 L1205.5,827.0 L1206.0,827.0 L1206.5,827.0 L1207.0,827.1 L1207.5,827.1 L1208.0,827.1 L1208.5,827.1 L1209.0,827.1 L1209.5,827.1 L1210.0,827.2 L1210.5,827.2 L1211.0,827.2 L1211.5,827.2 L1212.0,827.2 L1212.5,827.2 L1213.0,827.3 L1213.5,827.3 L1214.0,827.3 L1214.5,827.3 L1215.0,827.3 L1215.5,827.3 L1216.0,827.4 L1216.5,827.4 L1217.0,827.4 L1217.5,827.4 L1218.0,827.4 L1218.5,827.4 L1219.0,827.5 L1219.5,827.5 L1220.0,827.5 L1220.5,827.5 L1221.0,827.5 L1221.5,827.5 L1222.0,827.5 L1222.5,827.6 L1223.0,827.6 L1223.5,827.6 L1224.0,827.6 L1224.5,827.6 L1225.0,827.6 L1225.5,827.6 L1226.0,827.6 L1226.5,827.7 L1227.0,827.7 L1227.5,827.7 L1228.0,827.7 L1228.5,827.7 L1229.0,827.7 L1229.5,827.7 L1230.0,827.7 L1230.5,827.8 L1231.0,827.8 L1231.5,827.8 L1232.0,827.8 L1232.5,827.8 L1233.0,827.8 L1233.5,827.8 L1234.0,827.8 L1234.5,827.8 L1235.0,827.9 L1235.5,827.9 L1236.0,827.9 L1236.5,827.9 L1237.0,827.9 L1237.5,827.9 L1238.0,827.9" fill="none" stroke="#c40000" stroke-width="3.2" stroke-linejoin="round"/>
<path d="M829.0,870.0 L904.0,870.0 L904.5,864.6 L905.0,859.3 L905.5,854.3 L906.0,849.4 L906.5,844.7 L907.0,840.2 L907.5,835.8 L908.0,831.6 L908.5,827.5 L909.0,823.5 L909.5,819.6 L910.0,815.9 L910.5,812.2 L911.0,808.7 L911.5,805.3 L912.0,801.9 L912.5,798.7 L913.0,795.5 L913.5,792.4 L914.0,789.4 L914.5,786.4 L915.0,783.5 L915.5,780.7 L916.0,778.0 L916.5,775.3 L917.0,772.7 L917.5,770.1 L918.0,767.6 L918.5,765.2 L919.0,762.7 L919.5,760.4 L920.0,758.1 L920.5,755.8 L921.0,753.6 L921.5,751.4 L922.0,749.3 L922.5,747.2 L923.0,745.2 L923.5,743.1 L924.0,741.2 L924.5,739.2 L925.0,737.3 L925.5,735.5 L926.0,733.6 L926.5,731.8 L927.0,730.1 L927.5,728.3 L928.0,726.6 L928.5,725.0 L929.0,723.3 L929.5,721.7 L930.0,720.1 L930.5,718.5 L931.0,717.0 L931.5,715.5 L932.0,714.0 L932.5,712.6 L933.0,711.1 L933.5,709.7 L934.0,708.3 L934.5,707.0 L935.0,705.6 L935.5,704.3 L936.0,703.0 L936.5,701.8 L937.0,700.5 L937.5,699.3 L938.0,698.1 L938.5,696.9 L939.0,695.7 L939.5,694.6 L940.0,693.5 L940.5,692.4 L941.0,691.3 L941.5,690.2 L942.0,689.2 L942.5,688.1 L943.0,687.1 L943.5,686.1 L944.0,685.1 L944.5,684.2 L945.0,683.2 L945.5,682.3 L946.0,681.3 L946.5,680.4 L947.0,679.6 L947.5,678.7 L948.0,677.8 L948.5,677.0 L949.0,676.2 L949.5,675.3 L950.0,674.5 L950.5,673.7 L951.0,673.0 L951.5,672.2 L952.0,671.5 L952.5,670.7 L953.0,670.0 L953.5,669.3 L954.0,668.6 L954.5,667.9 L955.0,667.2 L955.5,666.6 L956.0,665.9 L956.5,665.3 L957.0,664.6 L957.5,664.0 L958.0,663.4 L958.5,662.8 L959.0,662.2 L959.5,661.7 L960.0,661.1 L960.5,660.5 L961.0,660.0 L961.5,659.5 L962.0,658.9 L962.5,658.4 L963.0,657.9 L963.5,657.4 L964.0,656.9 L964.5,656.4 L965.0,655.9 L965.5,655.5 L966.0,655.0 L966.5,654.6 L967.0,654.1 L967.5,653.7 L968.0,653.3 L968.5,652.8 L969.0,652.4 L969.5,652.0 L970.0,651.6 L970.5,651.2 L971.0,650.9 L971.5,650.5 L972.0,650.1 L972.5,649.8 L973.0,649.4 L973.5,649.0 L974.0,648.7 L974.5,648.4 L975.0,648.0 L975.5,647.7 L976.0,647.4 L976.5,647.1 L977.0,646.8 L977.5,646.5 L978.0,646.2 L978.5,645.9 L979.0,645.6 L979.5,645.3 L980.0,645.0 L980.5,644.8 L981.0,644.5 L981.5,644.3 L982.0,644.0 L982.5,643.7 L983.0,643.5 L983.5,643.3 L984.0,643.0 L984.5,642.8 L985.0,642.6 L985.5,642.3 L986.0,642.1 L986.5,641.9 L987.0,641.7 L987.5,641.5 L988.0,641.3 L988.5,641.1 L989.0,640.9 L989.5,640.7 L990.0,640.5 L990.5,640.3 L991.0,640.2 L991.5,640.0 L992.0,639.8 L992.5,639.6 L993.0,639.5 L993.5,639.3 L994.0,639.2 L994.5,639.0 L995.0,638.9 L995.5,638.7 L996.0,638.6 L996.5,638.4 L997.0,638.3 L997.5,638.1 L998.0,638.0 L998.5,637.9 L999.0,637.7 L999.5,637.6 L1000.0,637.5 L1000.5,637.4 L1001.0,637.2 L1001.5,637.1 L1002.0,637.0 L1002.5,636.9 L1003.0,636.8 L1003.5,636.7 L1004.0,636.6 L1004.5,636.5 L1005.0,636.4 L1005.5,636.3 L1006.0,636.2 L1006.5,636.1 L1007.0,636.0 L1007.5,635.9 L1008.0,635.8 L1008.5,635.7 L1009.0,635.7 L1009.5,635.6 L1010.0,635.5 L1010.5,635.4 L1011.0,635.3 L1011.5,635.3 L1012.0,635.2 L1012.5,635.1 L1013.0,635.1 L1013.5,635.0 L1014.0,634.9 L1014.5,634.9 L1015.0,634.8 L1015.5,634.7 L1016.0,634.7 L1016.5,634.6 L1017.0,634.6 L1017.5,634.5 L1018.0,634.4 L1018.5,634.4 L1019.0,634.3 L1019.5,634.3 L1020.0,634.2 L1020.5,634.2 L1021.0,634.1 L1021.5,634.1 L1022.0,634.1 L1022.5,634.0 L1023.0,634.0 L1023.5,633.9 L1024.0,633.9 L1024.5,633.9 L1025.0,633.8 L1025.5,633.8 L1026.0,633.7 L1026.5,633.7 L1027.0,633.7 L1027.5,633.6 L1028.0,633.6 L1028.5,633.6 L1029.0,633.5 L1029.5,633.5 L1030.0,633.5 L1030.5,633.5 L1031.0,633.4 L1031.5,633.4 L1032.0,633.4 L1032.5,633.4 L1033.0,633.3 L1033.5,633.3 L1034.0,633.3 L1034.5,633.3 L1035.0,633.3 L1035.5,633.2 L1036.0,633.2 L1036.5,633.2 L1037.0,633.2 L1037.5,633.2 L1038.0,633.1 L1038.5,633.1 L1039.0,633.1 L1039.5,633.1 L1040.0,633.1 L1040.5,633.1 L1041.0,633.1 L1041.5,633.0 L1042.0,633.0 L1042.5,633.0 L1043.0,633.0 L1043.5,633.0 L1043.7,633.0 L1044.2,643.6 L1044.7,654.2 L1045.2,663.6 L1045.7,671.5 L1046.2,678.0 L1046.7,683.2 L1047.2,687.3 L1047.7,690.6 L1048.2,693.2 L1048.7,695.3 L1049.2,696.9 L1049.7,698.3 L1050.2,699.5 L1050.7,700.5 L1051.2,701.3 L1051.7,702.1 L1052.2,702.8 L1052.7,703.4 L1053.2,704.0 L1053.7,704.5 L1054.2,705.0 L1054.7,705.5 L1055.2,706.0 L1055.7,706.5 L1056.2,706.9 L1056.7,707.3 L1057.2,707.8 L1057.7,708.2 L1058.2,708.6 L1058.7,709.0 L1059.2,709.4 L1059.7,709.8 L1060.2,710.2 L1060.7,710.6 L1061.2,711.0 L1061.7,711.4 L1062.2,711.8 L1062.7,712.2 L1063.2,712.5 L1063.7,712.9 L1064.2,713.3 L1064.7,713.7 L1065.2,714.0 L1065.7,714.4 L1066.2,714.7 L1066.7,715.1 L1067.2,715.4 L1067.7,715.8 L1068.2,716.1 L1068.7,716.5 L1069.2,716.8 L1069.7,717.1 L1070.2,717.5 L1070.7,717.8 L1071.2,718.1 L1071.7,718.4 L1072.2,718.7 L1072.7,719.1 L1073.2,719.4 L1073.7,719.7 L1074.2,720.0 L1074.7,720.3 L1075.2,720.6 L1075.7,720.9 L1076.2,721.2 L1076.7,721.5 L1077.2,721.8 L1077.7,722.0 L1078.2,722.3 L1078.7,722.6 L1079.2,722.9 L1079.7,723.2 L1080.2,723.4 L1080.7,723.7 L1081.2,724.0 L1081.7,724.3 L1082.2,724.5 L1082.7,724.8 L1083.2,725.0 L1083.7,725.3 L1084.2,725.5 L1084.7,725.8 L1085.2,726.0 L1085.7,726.3 L1086.2,726.5 L1086.7,726.8 L1087.2,727.0 L1087.7,727.3 L1088.2,727.5 L1088.7,727.7 L1089.2,728.0 L1089.7,728.2 L1090.2,728.4 L1090.7,728.6 L1091.2,728.9 L1091.7,729.1 L1092.2,729.3 L1092.7,729.5 L1093.2,729.7 L1093.7,730.0 L1094.2,730.2 L1094.7,730.4 L1095.2,730.6 L1095.7,730.8 L1096.2,731.0 L1096.7,731.2 L1097.2,731.4 L1097.7,731.6 L1098.2,731.8 L1098.7,732.0 L1099.2,732.2 L1099.7,732.4 L1100.2,732.6 L1100.7,732.7 L1101.2,732.9 L1101.7,733.1 L1102.2,733.3 L1102.7,733.5 L1103.2,733.6 L1103.7,733.8 L1104.2,734.0 L1104.7,734.2 L1105.2,734.3 L1105.7,734.5 L1106.2,734.7 L1106.7,734.9 L1107.2,735.0 L1107.7,735.2 L1108.2,735.3 L1108.7,735.5 L1109.2,735.7 L1109.7,735.8 L1110.2,736.0 L1110.7,736.1 L1111.2,736.3 L1111.7,736.4 L1112.2,736.6 L1112.7,736.7 L1113.2,736.9 L1113.7,737.0 L1114.2,737.2 L1114.7,737.3 L1115.2,737.5 L1115.7,737.6 L1116.2,737.8 L1116.7,737.9 L1117.2,738.0 L1117.7,738.2 L1118.2,738.3 L1118.7,738.4 L1119.2,738.6 L1119.7,738.7 L1120.2,738.8 L1120.7,739.0 L1121.2,739.1 L1121.7,739.2 L1122.2,739.3 L1122.7,739.5 L1123.2,739.6 L1123.7,739.7 L1124.2,739.8 L1124.7,740.0 L1125.2,740.1 L1125.7,740.2 L1126.2,740.3 L1126.7,740.4 L1127.2,740.5 L1127.7,740.6 L1128.2,740.8 L1128.7,740.9 L1129.2,741.0 L1129.7,741.1 L1130.2,741.2 L1130.7,741.3 L1131.2,741.4 L1131.7,741.5 L1132.2,741.6 L1132.7,741.7 L1133.2,741.8 L1133.7,741.9 L1134.2,742.0 L1134.7,742.1 L1135.2,742.2 L1135.7,742.3 L1136.2,742.4 L1136.7,742.5 L1137.2,742.6 L1137.7,742.7 L1138.2,742.8 L1138.7,742.9 L1139.2,743.0 L1139.7,743.1 L1140.2,743.2 L1140.7,743.3 L1141.2,743.3 L1141.7,743.4 L1142.2,743.5 L1142.7,743.6 L1143.2,743.7 L1143.7,743.8 L1144.2,743.9 L1144.7,743.9 L1145.2,744.0 L1145.7,744.1 L1146.2,744.2 L1146.7,744.3 L1147.2,744.3 L1147.7,744.4 L1148.2,744.5 L1148.7,744.6 L1149.2,744.7 L1149.7,744.7 L1150.2,744.8 L1150.7,744.9 L1151.2,744.9 L1151.7,745.0 L1152.2,745.1 L1152.7,745.2 L1153.2,745.2 L1153.7,745.3 L1154.2,745.4 L1154.7,745.4 L1155.2,745.5 L1155.7,745.6 L1156.2,745.6 L1156.7,745.7 L1157.2,745.8 L1157.7,745.8 L1158.2,745.9 L1158.7,746.0 L1159.2,746.0 L1159.7,746.1 L1160.2,746.2 L1160.7,746.2 L1161.2,746.3 L1161.7,746.3 L1162.2,746.4 L1162.7,746.5 L1163.2,746.5 L1163.7,746.6 L1164.2,746.6 L1164.7,746.7 L1165.2,746.7 L1165.7,746.8 L1166.2,746.9 L1166.7,746.9 L1167.2,747.0 L1167.7,747.0 L1168.2,747.1 L1168.7,747.1 L1169.2,747.2 L1169.7,747.2 L1170.2,747.3 L1170.7,747.3 L1171.2,747.4 L1171.7,747.4 L1172.2,747.5 L1172.7,747.5 L1173.2,747.6 L1173.7,747.6 L1174.2,747.7 L1174.7,747.7 L1175.2,747.8 L1175.7,747.8 L1176.2,747.9 L1176.7,747.9 L1177.2,748.0 L1177.7,748.0 L1178.2,748.0 L1178.7,748.1 L1179.2,748.1 L1179.7,748.2 L1180.2,748.2 L1180.7,748.3 L1181.2,748.3 L1181.7,748.3 L1182.2,748.4 L1182.7,748.4 L1183.2,748.5 L1183.7,748.5 L1184.2,748.6 L1184.7,748.6 L1185.2,748.6 L1185.7,748.7 L1186.2,748.7 L1186.7,748.7 L1187.2,748.8 L1187.7,748.8 L1188.2,748.9 L1188.7,748.9 L1189.2,748.9 L1189.7,749.0 L1190.2,749.0 L1190.7,749.0 L1191.2,749.1 L1191.7,749.1 L1192.2,749.1 L1192.7,749.2 L1193.2,749.2 L1193.7,749.2 L1194.2,749.3 L1194.7,749.3 L1195.2,749.3 L1195.7,749.4 L1196.2,749.4 L1196.7,749.4 L1197.2,749.5 L1197.7,749.5 L1198.2,749.5 L1198.7,749.6 L1199.2,749.6 L1199.7,749.6 L1200.2,749.6 L1200.7,749.7 L1201.2,749.7 L1201.7,749.7 L1202.2,749.8 L1202.7,749.8 L1203.2,749.8 L1203.7,749.8 L1204.2,749.9 L1204.7,749.9 L1205.2,749.9 L1205.7,750.0 L1206.2,750.0 L1206.7,750.0 L1207.2,750.0 L1207.7,750.1 L1208.2,750.1 L1208.7,750.1 L1209.2,750.1 L1209.7,750.2 L1210.2,750.2 L1210.7,750.2 L1211.2,750.2 L1211.7,750.3 L1212.2,750.3 L1212.7,750.3 L1213.2,750.3 L1213.7,750.3 L1214.2,750.4 L1214.7,750.4 L1215.2,750.4 L1215.7,750.4 L1216.2,750.5 L1216.7,750.5 L1217.2,750.5 L1217.7,750.5 L1218.2,750.5 L1218.7,750.6 L1219.2,750.6 L1219.7,750.6 L1220.2,750.6 L1220.7,750.6 L1221.2,750.7 L1221.7,750.7 L1222.2,750.7 L1222.7,750.7 L1223.2,750.7 L1223.7,750.8 L1224.2,750.8 L1224.7,750.8 L1225.2,750.8 L1225.7,750.8 L1226.2,750.9 L1226.7,750.9 L1227.2,750.9 L1227.7,750.9 L1228.2,750.9 L1228.7,750.9 L1229.2,751.0 L1229.7,751.0 L1230.2,751.0 L1230.7,751.0 L1231.2,751.0 L1231.7,751.0 L1232.2,751.1 L1232.7,751.1 L1233.2,751.1 L1233.7,751.1 L1234.2,751.1 L1234.7,751.1 L1235.2,751.2 L1235.7,751.2 L1236.2,751.2 L1236.7,751.2 L1237.2,751.2 L1237.7,751.2 L1238.0,751.2" fill="none" stroke="#00dc00" stroke-width="3.2" stroke-linejoin="round"/>
<path d="M829.0,870.0 L904.0,870.0 L904.5,865.6 L905.0,861.3 L905.5,857.3 L906.0,853.5 L906.5,849.9 L907.0,846.4 L907.5,843.0 L908.0,839.8 L908.5,836.7 L909.0,833.7 L909.5,830.8 L910.0,828.0 L910.5,825.2 L911.0,822.6 L911.5,820.0 L912.0,817.5 L912.5,815.1 L913.0,812.7 L913.5,810.4 L914.0,808.1 L914.5,805.9 L915.0,803.8 L915.5,801.7 L916.0,799.6 L916.5,797.6 L917.0,795.6 L917.5,793.7 L918.0,791.8 L918.5,789.9 L919.0,788.1 L919.5,786.3 L920.0,784.6 L920.5,782.9 L921.0,781.2 L921.5,779.6 L922.0,777.9 L922.5,776.3 L923.0,774.8 L923.5,773.3 L924.0,771.8 L924.5,770.3 L925.0,768.9 L925.5,767.4 L926.0,766.1 L926.5,764.7 L927.0,763.4 L927.5,762.0 L928.0,760.7 L928.5,759.5 L929.0,758.2 L929.5,757.0 L930.0,755.8 L930.5,754.6 L931.0,753.5 L931.5,752.4 L932.0,751.2 L932.5,750.1 L933.0,749.1 L933.5,748.0 L934.0,747.0 L934.5,746.0 L935.0,745.0 L935.5,744.0 L936.0,743.0 L936.5,742.1 L937.0,741.2 L937.5,740.3 L938.0,739.4 L938.5,738.5 L939.0,737.6 L939.5,736.8 L940.0,736.0 L940.5,735.1 L941.0,734.3 L941.5,733.6 L942.0,732.8 L942.5,732.0 L943.0,731.3 L943.5,730.6 L944.0,729.8 L944.5,729.1 L945.0,728.4 L945.5,727.8 L946.0,727.1 L946.5,726.4 L947.0,725.8 L947.5,725.2 L948.0,724.5 L948.5,723.9 L949.0,723.3 L949.5,722.8 L950.0,722.2 L950.5,721.6 L951.0,721.1 L951.5,720.5 L952.0,720.0 L952.5,719.5 L953.0,718.9 L953.5,718.4 L954.0,717.9 L954.5,717.5 L955.0,717.0 L955.5,716.5 L956.0,716.0 L956.5,715.6 L957.0,715.1 L957.5,714.7 L958.0,714.3 L958.5,713.9 L959.0,713.4 L959.5,713.0 L960.0,712.6 L960.5,712.3 L961.0,711.9 L961.5,711.5 L962.0,711.1 L962.5,710.8 L963.0,710.4 L963.5,710.0 L964.0,709.7 L964.5,709.4 L965.0,709.0 L965.5,708.7 L966.0,708.4 L966.5,708.1 L967.0,707.8 L967.5,707.5 L968.0,707.2 L968.5,706.9 L969.0,706.6 L969.5,706.3 L970.0,706.0 L970.5,705.8 L971.0,705.5 L971.5,705.2 L972.0,705.0 L972.5,704.7 L973.0,704.5 L973.5,704.2 L974.0,704.0 L974.5,703.8 L975.0,703.5 L975.5,703.3 L976.0,703.1 L976.5,702.9 L977.0,702.7 L977.5,702.5 L978.0,702.2 L978.5,702.0 L979.0,701.8 L979.5,701.7 L980.0,701.5 L980.5,701.3 L981.0,701.1 L981.5,700.9 L982.0,700.7 L982.5,700.6 L983.0,700.4 L983.5,700.2 L984.0,700.1 L984.5,699.9 L985.0,699.7 L985.5,699.6 L986.0,699.4 L986.5,699.3 L987.0,699.1 L987.5,699.0 L988.0,698.8 L988.5,698.7 L989.0,698.6 L989.5,698.4 L990.0,698.3 L990.5,698.2 L991.0,698.0 L991.5,697.9 L992.0,697.8 L992.5,697.7 L993.0,697.6 L993.5,697.4 L994.0,697.3 L994.5,697.2 L995.0,697.1 L995.5,697.0 L996.0,696.9 L996.5,696.8 L997.0,696.7 L997.5,696.6 L998.0,696.5 L998.5,696.4 L999.0,696.3 L999.5,696.2 L1000.0,696.1 L1000.5,696.0 L1001.0,695.9 L1001.5,695.9 L1002.0,695.8 L1002.5,695.7 L1003.0,695.6 L1003.5,695.5 L1004.0,695.5 L1004.5,695.4 L1005.0,695.3 L1005.5,695.2 L1006.0,695.2 L1006.5,695.1 L1007.0,695.0 L1007.5,694.9 L1008.0,694.9 L1008.5,694.8 L1009.0,694.7 L1009.5,694.7 L1010.0,694.6 L1010.5,694.6 L1011.0,694.5 L1011.5,694.4 L1012.0,694.4 L1012.5,694.3 L1013.0,694.3 L1013.5,694.2 L1014.0,694.2 L1014.5,694.1 L1015.0,694.1 L1015.5,694.0 L1016.0,694.0 L1016.5,693.9 L1017.0,693.9 L1017.5,693.8 L1018.0,693.8 L1018.5,693.7 L1019.0,693.7 L1019.5,693.6 L1020.0,693.6 L1020.5,693.5 L1021.0,693.5 L1021.5,693.5 L1022.0,693.4 L1022.5,693.4 L1023.0,693.3 L1023.5,693.3 L1024.0,693.3 L1024.5,693.2 L1025.0,693.2 L1025.5,693.2 L1026.0,693.1 L1026.5,693.1 L1027.0,693.1 L1027.5,693.0 L1028.0,693.0 L1028.5,693.0 L1029.0,692.9 L1029.5,692.9 L1030.0,692.9 L1030.5,692.8 L1031.0,692.8 L1031.5,692.8 L1032.0,692.8 L1032.5,692.7 L1033.0,692.7 L1033.5,692.7 L1034.0,692.7 L1034.5,692.6 L1035.0,692.6 L1035.5,692.6 L1036.0,692.6 L1036.5,692.5 L1037.0,692.5 L1037.5,692.5 L1038.0,692.5 L1038.5,692.5 L1039.0,692.4 L1039.5,692.4 L1040.0,692.4 L1040.5,692.4 L1041.0,692.4 L1041.5,692.3 L1042.0,692.3 L1042.4,692.3 L1042.9,692.3 L1043.4,693.8 L1043.9,696.0 L1044.4,698.5 L1044.9,701.1 L1045.4,703.6 L1045.9,705.9 L1046.4,707.9 L1046.9,709.8 L1047.4,711.4 L1047.9,712.8 L1048.4,714.1 L1048.9,715.2 L1049.4,716.2 L1049.9,717.1 L1050.4,717.8 L1050.9,718.5 L1051.4,719.2 L1051.9,719.8 L1052.4,720.3 L1052.9,720.8 L1053.4,721.3 L1053.9,721.8 L1054.4,722.2 L1054.9,722.6 L1055.4,723.0 L1055.9,723.4 L1056.4,723.8 L1056.9,724.2 L1057.4,724.6 L1057.9,724.9 L1058.4,725.3 L1058.9,725.6 L1059.4,726.0 L1059.9,726.3 L1060.4,726.7 L1060.9,727.0 L1061.4,727.3 L1061.9,727.7 L1062.4,728.0 L1062.9,728.3 L1063.4,728.6 L1063.9,728.9 L1064.4,729.2 L1064.9,729.6 L1065.4,729.9 L1065.9,730.2 L1066.4,730.5 L1066.9,730.8 L1067.4,731.1 L1067.9,731.4 L1068.4,731.7 L1068.9,732.0 L1069.4,732.3 L1069.9,732.5 L1070.4,732.8 L1070.9,733.1 L1071.4,733.4 L1071.9,733.7 L1072.4,733.9 L1072.9,734.2 L1073.4,734.5 L1073.9,734.8 L1074.4,735.0 L1074.9,735.3 L1075.4,735.6 L1075.9,735.8 L1076.4,736.1 L1076.9,736.3 L1077.4,736.6 L1077.9,736.8 L1078.4,737.1 L1078.9,737.3 L1079.4,737.6 L1079.9,737.8 L1080.4,738.1 L1080.9,738.3 L1081.4,738.6 L1081.9,738.8 L1082.4,739.0 L1082.9,739.3 L1083.4,739.5 L1083.9,739.7 L1084.4,740.0 L1084.9,740.2 L1085.4,740.4 L1085.9,740.7 L1086.4,740.9 L1086.9,741.1 L1087.4,741.3 L1087.9,741.5 L1088.4,741.8 L1088.9,742.0 L1089.4,742.2 L1089.9,742.4 L1090.4,742.6 L1090.9,742.8 L1091.4,743.0 L1091.9,743.2 L1092.4,743.4 L1092.9,743.6 L1093.4,743.8 L1093.9,744.0 L1094.4,744.2 L1094.9,744.4 L1095.4,744.6 L1095.9,744.8 L1096.4,745.0 L1096.9,745.2 L1097.4,745.4 L1097.9,745.6 L1098.4,745.7 L1098.9,745.9 L1099.4,746.1 L1099.9,746.3 L1100.4,746.5 L1100.9,746.6 L1101.4,746.8 L1101.9,747.0 L1102.4,747.2 L1102.9,747.3 L1103.4,747.5 L1103.9,747.7 L1104.4,747.9 L1104.9,748.0 L1105.4,748.2 L1105.9,748.4 L1106.4,748.5 L1106.9,748.7 L1107.4,748.8 L1107.9,749.0 L1108.4,749.2 L1108.9,749.3 L1109.4,749.5 L1109.9,749.6 L1110.4,749.8 L1110.9,749.9 L1111.4,750.1 L1111.9,750.2 L1112.4,750.4 L1112.9,750.5 L1113.4,750.7 L1113.9,750.8 L1114.4,751.0 L1114.9,751.1 L1115.4,751.3 L1115.9,751.4 L1116.4,751.5 L1116.9,751.7 L1117.4,751.8 L1117.9,752.0 L1118.4,752.1 L1118.9,752.2 L1119.4,752.4 L1119.9,752.5 L1120.4,752.6 L1120.9,752.8 L1121.4,752.9 L1121.9,753.0 L1122.4,753.1 L1122.9,753.3 L1123.4,753.4 L1123.9,753.5 L1124.4,753.6 L1124.9,753.8 L1125.4,753.9 L1125.9,754.0 L1126.4,754.1 L1126.9,754.3 L1127.4,754.4 L1127.9,754.5 L1128.4,754.6 L1128.9,754.7 L1129.4,754.8 L1129.9,754.9 L1130.4,755.1 L1130.9,755.2 L1131.4,755.3 L1131.9,755.4 L1132.4,755.5 L1132.9,755.6 L1133.4,755.7 L1133.9,755.8 L1134.4,755.9 L1134.9,756.0 L1135.4,756.1 L1135.9,756.2 L1136.4,756.4 L1136.9,756.5 L1137.4,756.6 L1137.9,756.7 L1138.4,756.8 L1138.9,756.9 L1139.4,757.0 L1139.9,757.1 L1140.4,757.1 L1140.9,757.2 L1141.4,757.3 L1141.9,757.4 L1142.4,757.5 L1142.9,757.6 L1143.4,757.7 L1143.9,757.8 L1144.4,757.9 L1144.9,758.0 L1145.4,758.1 L1145.9,758.2 L1146.4,758.3 L1146.9,758.3 L1147.4,758.4 L1147.9,758.5 L1148.4,758.6 L1148.9,758.7 L1149.4,758.8 L1149.9,758.9 L1150.4,758.9 L1150.9,759.0 L1151.4,759.1 L1151.9,759.2 L1152.4,759.3 L1152.9,759.3 L1153.4,759.4 L1153.9,759.5 L1154.4,759.6 L1154.9,759.7 L1155.4,759.7 L1155.9,759.8 L1156.4,759.9 L1156.9,760.0 L1157.4,760.0 L1157.9,760.1 L1158.4,760.2 L1158.9,760.3 L1159.4,760.3 L1159.9,760.4 L1160.4,760.5 L1160.9,760.5 L1161.4,760.6 L1161.9,760.7 L1162.4,760.8 L1162.9,760.8 L1163.4,760.9 L1163.9,761.0 L1164.4,761.0 L1164.9,761.1 L1165.4,761.2 L1165.9,761.2 L1166.4,761.3 L1166.9,761.3 L1167.4,761.4 L1167.9,761.5 L1168.4,761.5 L1168.9,761.6 L1169.4,761.7 L1169.9,761.7 L1170.4,761.8 L1170.9,761.8 L1171.4,761.9 L1171.9,762.0 L1172.4,762.0 L1172.9,762.1 L1173.4,762.1 L1173.9,762.2 L1174.4,762.3 L1174.9,762.3 L1175.4,762.4 L1175.9,762.4 L1176.4,762.5 L1176.9,762.5 L1177.4,762.6 L1177.9,762.6 L1178.4,762.7 L1178.9,762.8 L1179.4,762.8 L1179.9,762.9 L1180.4,762.9 L1180.9,763.0 L1181.4,763.0 L1181.9,763.1 L1182.4,763.1 L1182.9,763.2 L1183.4,763.2 L1183.9,763.3 L1184.4,763.3 L1184.9,763.4 L1185.4,763.4 L1185.9,763.5 L1186.4,763.5 L1186.9,763.6 L1187.4,763.6 L1187.9,763.7 L1188.4,763.7 L1188.9,763.7 L1189.4,763.8 L1189.9,763.8 L1190.4,763.9 L1190.9,763.9 L1191.4,764.0 L1191.9,764.0 L1192.4,764.1 L1192.9,764.1 L1193.4,764.1 L1193.9,764.2 L1194.4,764.2 L1194.9,764.3 L1195.4,764.3 L1195.9,764.3 L1196.4,764.4 L1196.9,764.4 L1197.4,764.5 L1197.9,764.5 L1198.4,764.6 L1198.9,764.6 L1199.4,764.6 L1199.9,764.7 L1200.4,764.7 L1200.9,764.7 L1201.4,764.8 L1201.9,764.8 L1202.4,764.9 L1202.9,764.9 L1203.4,764.9 L1203.9,765.0 L1204.4,765.0 L1204.9,765.0 L1205.4,765.1 L1205.9,765.1 L1206.4,765.1 L1206.9,765.2 L1207.4,765.2 L1207.9,765.2 L1208.4,765.3 L1208.9,765.3 L1209.4,765.3 L1209.9,765.4 L1210.4,765.4 L1210.9,765.4 L1211.4,765.5 L1211.9,765.5 L1212.4,765.5 L1212.9,765.6 L1213.4,765.6 L1213.9,765.6 L1214.4,765.7 L1214.9,765.7 L1215.4,765.7 L1215.9,765.8 L1216.4,765.8 L1216.9,765.8 L1217.4,765.9 L1217.9,765.9 L1218.4,765.9 L1218.9,765.9 L1219.4,766.0 L1219.9,766.0 L1220.4,766.0 L1220.9,766.1 L1221.4,766.1 L1221.9,766.1 L1222.4,766.1 L1222.9,766.2 L1223.4,766.2 L1223.9,766.2 L1224.4,766.2 L1224.9,766.3 L1225.4,766.3 L1225.9,766.3 L1226.4,766.3 L1226.9,766.4 L1227.4,766.4 L1227.9,766.4 L1228.4,766.4 L1228.9,766.5 L1229.4,766.5 L1229.9,766.5 L1230.4,766.5 L1230.9,766.6 L1231.4,766.6 L1231.9,766.6 L1232.4,766.6 L1232.9,766.7 L1233.4,766.7 L1233.9,766.7 L1234.4,766.7 L1234.9,766.8 L1235.4,766.8 L1235.9,766.8 L1236.4,766.8 L1236.9,766.8 L1237.4,766.9 L1237.9,766.9 L1238.0,766.9" fill="none" stroke="#0000c4" stroke-width="3.2" stroke-linejoin="round"/>
<path d="M820,529 H1239 V877 H820 M827,527 V879" fill="none" stroke="#000" stroke-width="4"/>
<line x1="820" y1="807.2" x2="827" y2="807.2" stroke="#000" stroke-width="4"/>
<line x1="820" y1="737.4" x2="827" y2="737.4" stroke="#000" stroke-width="4"/>
<line x1="820" y1="667.6" x2="827" y2="667.6" stroke="#000" stroke-width="4"/>
<line x1="820" y1="597.8" x2="827" y2="597.8" stroke="#000" stroke-width="4"/>
<line x1="837.0" y1="877" x2="837.0" y2="884" stroke="#000" stroke-width="4"/>
<line x1="903.5" y1="877" x2="903.5" y2="884" stroke="#000" stroke-width="4"/>
<line x1="970.0" y1="877" x2="970.0" y2="884" stroke="#000" stroke-width="4"/>
<line x1="1036.5" y1="877" x2="1036.5" y2="884" stroke="#000" stroke-width="4"/>
<line x1="1103.0" y1="877" x2="1103.0" y2="884" stroke="#000" stroke-width="4"/>
<line x1="1169.5" y1="877" x2="1169.5" y2="884" stroke="#000" stroke-width="4"/>
<line x1="1236.0" y1="877" x2="1236.0" y2="884" stroke="#000" stroke-width="4"/>
<text transform="translate(783.00,816.58) scale(1.0000,1.0452)" text-anchor="start" font-size="23">200</text>
<text transform="translate(783.00,747.17) scale(1.0000,1.0452)" text-anchor="start" font-size="23">400</text>
<text transform="translate(783.00,675.48) scale(1.0000,1.0452)" text-anchor="start" font-size="23">600</text>
<text transform="translate(783.00,606.23) scale(1.0000,1.0452)" text-anchor="start" font-size="23">800</text>
<text transform="translate(771.50,536.88) scale(1.0000,1.0452)" text-anchor="start" font-size="23">1000</text>
<text transform="translate(831.25,906.75) scale(1.0000,1.0452)" text-anchor="start" font-size="23">0</text>
<text transform="translate(885.88,906.75) scale(1.0000,1.0452)" text-anchor="start" font-size="23">100</text>
<text transform="translate(952.75,906.75) scale(1.0000,1.0452)" text-anchor="start" font-size="23">200</text>
<text transform="translate(1019.38,906.75) scale(1.0000,1.0452)" text-anchor="start" font-size="23">300</text>
<text transform="translate(1086.12,906.75) scale(1.0000,1.0452)" text-anchor="start" font-size="23">400</text>
<text transform="translate(1152.25,906.75) scale(1.0000,1.0452)" text-anchor="start" font-size="23">500</text>
<text transform="translate(1218.88,906.75) scale(1.0000,1.0452)" text-anchor="start" font-size="23">600</text>
<text transform="translate(1023.75,564.65) scale(0.9869,0.9474)" text-anchor="start" font-size="23">Inhibitors-Cellulase</text>
<text transform="translate(1077.30,592.97) scale(1.0198,0.9790)" text-anchor="start" font-size="23">(control)</text>
<text transform="translate(738.25,549.65) scale(1.0089,1.0089)" text-anchor="start" font-size="32">d</text>
<text transform="translate(755.30,779.23) rotate(-90) scale(1.0549,1.0892)" text-anchor="start" font-size="23">Response (RU)</text>
<text transform="translate(984.55,937.40) scale(1.0018,1.0700)" text-anchor="start" font-size="23">Time (S)</text>
<line x1="838.4" y1="550.4" x2="874.7" y2="550.4" stroke="#2a2a2a" stroke-width="2.1"/>
<text transform="translate(882.70,555.45) scale(1.0430,0.9700)" font-size="18.3">10<tspan dx="-1.6"> mg/L</tspan></text>
<line x1="838.4" y1="575.3" x2="874.7" y2="575.3" stroke="#ff1f1f" stroke-width="2.1"/>
<text transform="translate(883.45,581.25) scale(1.0302,0.9700)" font-size="18.3">30<tspan dx="-1.6"> mg/L</tspan></text>
<line x1="838.4" y1="599.8" x2="874.7" y2="599.8" stroke="#2525ff" stroke-width="2.1"/>
<text transform="translate(883.45,604.35) scale(1.0302,0.9700)" font-size="18.3">50<tspan dx="-1.6"> mg/L</tspan></text>
<line x1="838.4" y1="624.3" x2="874.7" y2="624.3" stroke="#10e010" stroke-width="2.1"/>
<text transform="translate(883.20,628.45) scale(1.0344,0.9700)" font-size="18.3">75<tspan dx="-1.6"> mg/L</tspan></text>
</svg>
<div class="cap" style="top:973.7px;font-size:28.3px;word-spacing:2.95px"><b>Fig. 2</b> The dynamic SPR response of different concentration of non-catalytic proteins. (<b>a</b>) Inhibitors-AP, (<b>b</b>) Inhibitors-SP,</div>
<div class="cap" style="top:1008.2px">(<b>c</b>) Inhibitors-BSA,  (<b>d</b>) Inhibitors-cellulase  as a control.</div>
</body></html>
